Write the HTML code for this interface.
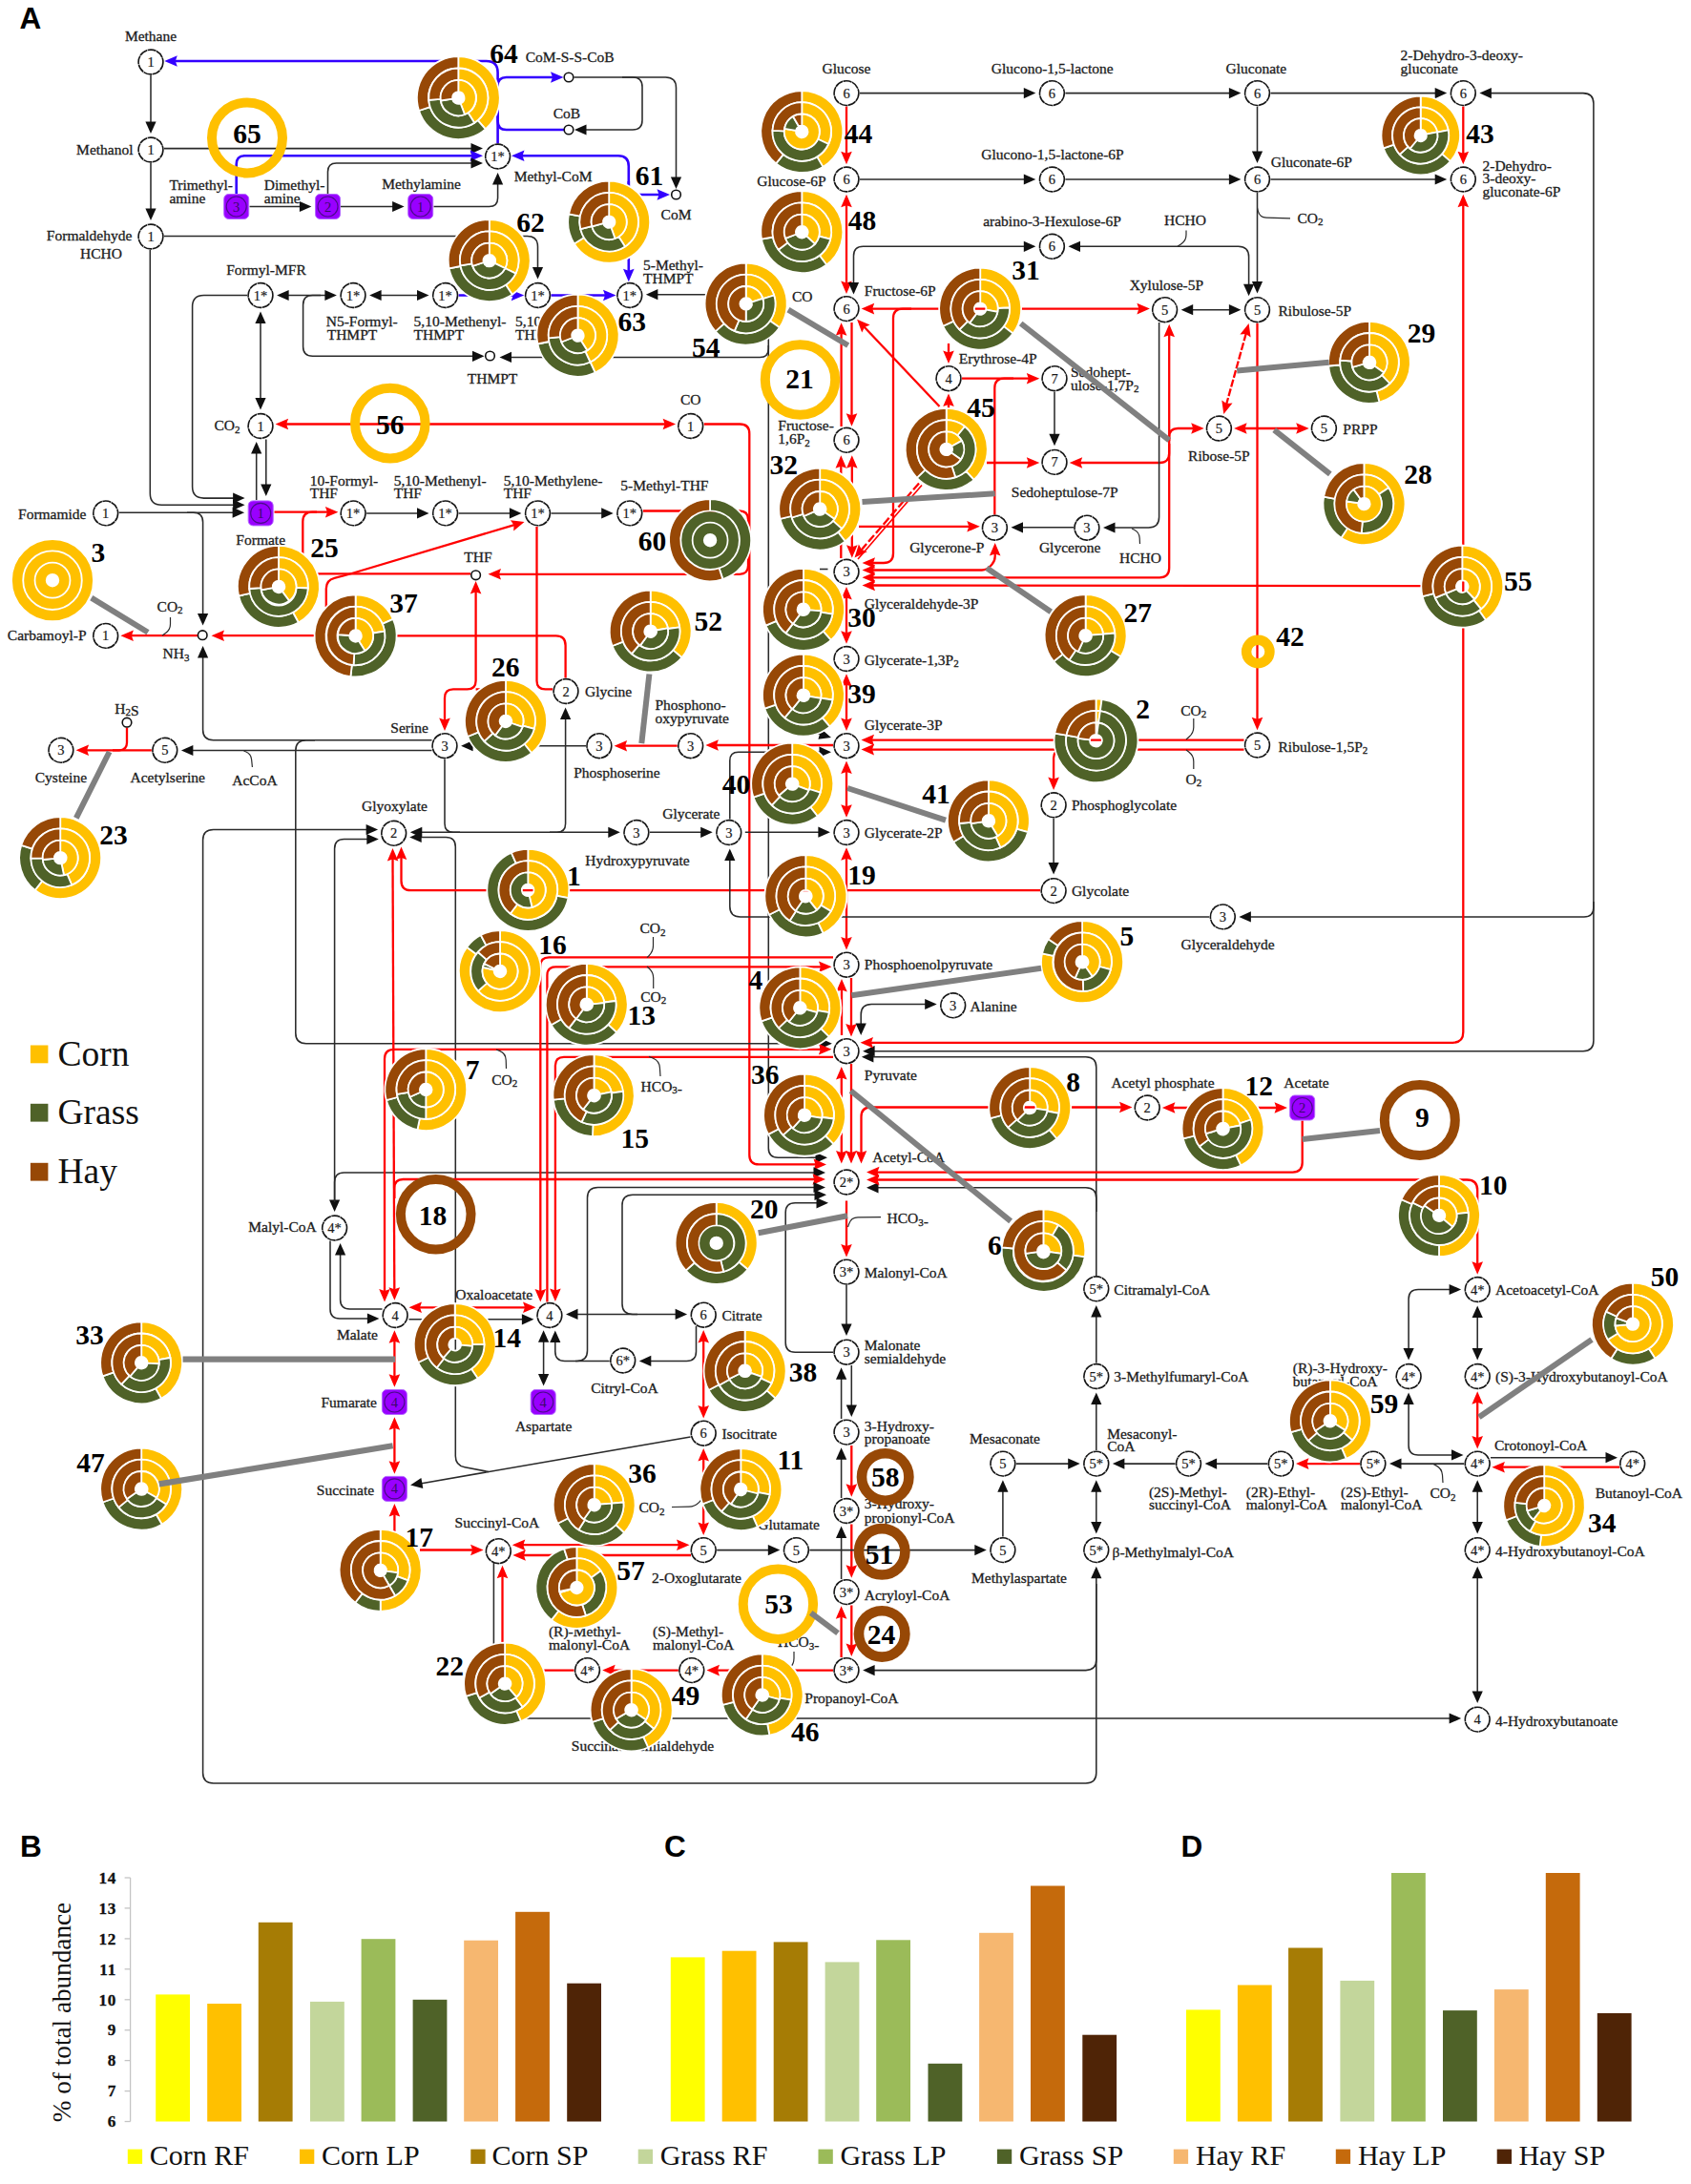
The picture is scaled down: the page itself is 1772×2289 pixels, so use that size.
<!DOCTYPE html><html><head><meta charset="utf-8"><title>Figure</title><style>html,body{margin:0;padding:0;background:#fff}svg{display:block}</style></head><body><svg width="1772" height="2289" viewBox="0 0 1772 2289"><rect width="1772" height="2289" fill="#fff"/><g font-family="Liberation Serif, serif">
<path d="M521.6,150.5L521.6,76Q521.6,64 509.6,64L183.3,64" fill="none" stroke="#3300FF" stroke-width="2.6"/>
<polygon points="172.3,64 185.8,58.2 183.8,64 185.8,69.8" fill="#3300FF"/>
<path d="M521.6,100L521.6,90Q521.6,81 530.6,81L579.5,81" fill="none" stroke="#3300FF" stroke-width="2.6"/>
<polygon points="590.5,81 577,86.8 579,81 577,75.2" fill="#3300FF"/>
<path d="M521.6,118L521.6,127Q521.6,136 530.6,136L591,136" fill="none" stroke="#3300FF" stroke-width="2.6"/>
<path d="M158,79L158,129.4" fill="none" stroke="#2a2a2a" stroke-width="1.55"/>
<polygon points="158,139.9 152.4,127.4 158,127.4 163.6,127.4" fill="#101010"/>
<path d="M158,171L158,220.4" fill="none" stroke="#2a2a2a" stroke-width="1.55"/>
<polygon points="158,230.9 152.4,218.4 158,218.4 163.6,218.4" fill="#101010"/>
<path d="M172,155.6L495.5,155.6" fill="none" stroke="#2a2a2a" stroke-width="1.55"/>
<polygon points="506,155.6 493.5,161.2 493.5,155.6 493.5,150" fill="#101010"/>
<path d="M247.7,203L247.7,172.2Q247.7,163.2 256.7,163.2L495,163.2" fill="none" stroke="#3300FF" stroke-width="2.6"/>
<polygon points="506,163.2 492.5,169 494.5,163.2 492.5,157.4" fill="#3300FF"/>
<path d="M343.5,203L343.5,180Q343.5,171 352.5,171L495.5,171" fill="none" stroke="#2a2a2a" stroke-width="1.55"/>
<polygon points="506,171 493.5,176.6 493.5,171 493.5,165.4" fill="#101010"/>
<path d="M261.5,216.5L315.9,216.5" fill="none" stroke="#2a2a2a" stroke-width="1.55"/>
<polygon points="326.4,216.5 313.9,222.1 313.9,216.5 313.9,210.9" fill="#101010"/>
<path d="M357,216.5L413.1,216.5" fill="none" stroke="#2a2a2a" stroke-width="1.55"/>
<polygon points="423.6,216.5 411.1,222.1 411.1,216.5 411.1,210.9" fill="#101010"/>
<path d="M454.5,216.5L512.6,216.5Q521.6,216.5 521.6,207.5L521.6,191.6" fill="none" stroke="#2a2a2a" stroke-width="1.55"/>
<polygon points="521.6,181.1 527.2,193.6 521.6,193.6 516,193.6" fill="#101010"/>
<path d="M172,247.5L552.5,247.5Q563.5,247.5 563.5,258.5L563.5,281.9" fill="none" stroke="#2a2a2a" stroke-width="1.55"/>
<polygon points="563.5,292.4 557.9,279.9 563.5,279.9 569.1,279.9" fill="#101010"/>
<path d="M300.6,309.5L342.4,309.5" fill="none" stroke="#2a2a2a" stroke-width="1.55"/>
<polygon points="352.9,309.5 340.4,315.1 340.4,309.5 340.4,303.9" fill="#101010"/>
<polygon points="290.1,309.5 302.6,303.9 302.6,309.5 302.6,315.1" fill="#101010"/>
<path d="M397.6,309.5L439,309.5" fill="none" stroke="#2a2a2a" stroke-width="1.55"/>
<polygon points="449.5,309.5 437,315.1 437,309.5 437,303.9" fill="#101010"/>
<polygon points="387.1,309.5 399.6,303.9 399.6,309.5 399.6,315.1" fill="#101010"/>
<path d="M480.6,309.5L538.2,309.5" fill="none" stroke="#3300FF" stroke-width="2.6"/>
<polygon points="549.2,309.5 535.7,315.3 537.7,309.5 535.7,303.7" fill="#3300FF"/>
<path d="M577.5,309.5L634.5,309.5" fill="none" stroke="#3300FF" stroke-width="2.6"/>
<polygon points="645.5,309.5 632,315.3 634,309.5 632,303.7" fill="#3300FF"/>
<path d="M336,309.5L327.6,309.5Q317.6,309.5 317.6,319.5L317.6,363.3Q317.6,373.3 327.6,373.3L497,373.3" fill="none" stroke="#2a2a2a" stroke-width="1.55"/>
<polygon points="507.5,373.3 495,378.9 495,373.3 495,367.7" fill="#101010"/>
<path d="M273,337.1L273,418.9" fill="none" stroke="#2a2a2a" stroke-width="1.55"/>
<polygon points="273,429.4 267.4,416.9 273,416.9 278.6,416.9" fill="#101010"/>
<polygon points="273,326.6 278.6,339.1 273,339.1 267.4,339.1" fill="#101010"/>
<path d="M601.5,81L697.5,81Q708.5,81 708.5,92L708.5,187.5" fill="none" stroke="#2a2a2a" stroke-width="1.55"/>
<polygon points="708.5,198 702.9,185.5 708.5,185.5 714.1,185.5" fill="#101010"/>
<path d="M652,81L663,81Q673,81 673,91L673,126Q673,136 663,136L612.5,136" fill="none" stroke="#2a2a2a" stroke-width="1.55"/>
<polygon points="602,136 614.5,130.4 614.5,136 614.5,141.6" fill="#101010"/>
<path d="M547,163.2L647.8,163.2Q658.8,163.2 658.8,174.2L658.8,284.2" fill="none" stroke="#3300FF" stroke-width="2.6"/>
<polygon points="658.8,295.2 653,281.7 658.8,283.7 664.6,281.7" fill="#3300FF"/>
<polygon points="536,163.2 549.5,157.4 547.5,163.2 549.5,169" fill="#3300FF"/>
<path d="M658.8,190L658.8,195Q658.8,204 667.8,204L691,204" fill="none" stroke="#3300FF" stroke-width="2.6"/>
<polygon points="702,204 688.5,209.8 690.5,204 688.5,198.2" fill="#3300FF"/>
<path d="M856.5,1213.3L815.3,1213.3Q805.3,1213.3 805.3,1203.3L805.3,318.7Q805.3,308.7 795.3,308.7L687.4,308.7" fill="none" stroke="#2a2a2a" stroke-width="1.55"/>
<polygon points="676.9,308.7 689.4,303.1 689.4,308.7 689.4,314.3" fill="#101010"/>
<polygon points="867,1213.3 854.5,1218.9 854.5,1213.3 854.5,1207.7" fill="#101010"/>
<path d="M805.3,362L805.3,365.4Q805.3,374.4 796.3,374.4L534,374.4" fill="none" stroke="#2a2a2a" stroke-width="1.55"/>
<polygon points="523.5,374.4 536,368.8 536,374.4 536,380" fill="#101010"/>
<path d="M299.6,444.5L697.1,444.5" fill="none" stroke="#FF0000" stroke-width="2.3"/>
<polygon points="708.1,444.5 694.6,450.3 696.6,444.5 694.6,438.7" fill="#FF0000"/>
<polygon points="288.6,444.5 302.1,438.7 300.1,444.5 302.1,450.3" fill="#FF0000"/>
<path d="M737.7,444.5L775.3,444.5Q785.3,444.5 785.3,454.5L785.3,1210.4Q785.3,1220.4 795.3,1220.4L855,1220.4" fill="none" stroke="#FF0000" stroke-width="2.3"/>
<polygon points="866,1220.4 852.5,1226.2 854.5,1220.4 852.5,1214.6" fill="#FF0000"/>
<path d="M268.7,524L268.7,473.5" fill="none" stroke="#2a2a2a" stroke-width="1.55"/>
<polygon points="268.7,463 274.3,475.5 268.7,475.5 263.1,475.5" fill="#101010"/>
<path d="M278.8,460.5L278.8,509.5" fill="none" stroke="#2a2a2a" stroke-width="1.55"/>
<polygon points="278.8,520 273.2,507.5 278.8,507.5 284.4,507.5" fill="#101010"/>
<path d="M157.3,262L157.3,517.2Q157.3,529.2 169.3,529.2L246.1,529.2" fill="none" stroke="#2a2a2a" stroke-width="1.55"/>
<polygon points="256.6,529.2 244.1,534.8 244.1,529.2 244.1,523.6" fill="#101010"/>
<path d="M259,309.5L213.6,309.5Q201.6,309.5 201.6,321.5L201.6,510.1Q201.6,522.1 213.6,522.1L246.1,522.1" fill="none" stroke="#2a2a2a" stroke-width="1.55"/>
<polygon points="256.6,522.1 244.1,527.7 244.1,522.1 244.1,516.5" fill="#101010"/>
<path d="M124.7,537.2L245.6,537.2" fill="none" stroke="#2a2a2a" stroke-width="1.55"/>
<polygon points="256.1,537.2 243.6,542.8 243.6,537.2 243.6,531.6" fill="#101010"/>
<path d="M196,537.2L202.6,537.2Q212.6,537.2 212.6,547.2L212.6,645" fill="none" stroke="#2a2a2a" stroke-width="1.55"/>
<polygon points="212.6,655.5 207,643 212.6,643 218.2,643" fill="#101010"/>
<path d="M287.5,536.7L343.4,536.7" fill="none" stroke="#FF0000" stroke-width="2.3"/>
<polygon points="354.4,536.7 340.9,542.5 342.9,536.7 340.9,530.9" fill="#FF0000"/>
<path d="M317.3,582L317.3,546.7Q317.3,536.7 327.3,536.7L332,536.7" fill="none" stroke="#FF0000" stroke-width="2.3"/>
<path d="M384.1,537.9L439,537.9" fill="none" stroke="#2a2a2a" stroke-width="1.55"/>
<polygon points="449.5,537.9 437,543.5 437,537.9 437,532.3" fill="#101010"/>
<path d="M480.6,537.9L535.9,537.9" fill="none" stroke="#2a2a2a" stroke-width="1.55"/>
<polygon points="546.4,537.9 533.9,543.5 533.9,537.9 533.9,532.3" fill="#101010"/>
<path d="M577.5,537.9L632.2,537.9" fill="none" stroke="#2a2a2a" stroke-width="1.55"/>
<polygon points="642.7,537.9 630.2,543.5 630.2,537.9 630.2,532.3" fill="#101010"/>
<path d="M673.8,535.5L775,535.5Q784,535.5 784,544.5L784,592.8Q784,601.8 775,601.8L522.5,601.8" fill="none" stroke="#FF0000" stroke-width="2.3"/>
<polygon points="511.5,601.8 525,596 523,601.8 525,607.6" fill="#FF0000"/>
<path d="M333,601.4L493,601.4" fill="none" stroke="#FF0000" stroke-width="2.3"/>
<path d="M341.8,636L341.8,617Q341.8,608 350.5,605.9L351.3,605.7Q360,603.6 368.6,601L539,550.1" fill="none" stroke="#FF0000" stroke-width="2.3"/>
<polygon points="549.5,547 538.2,556.4 538.5,550.3 534.9,545.3" fill="#FF0000"/>
<path d="M498.6,620L498.6,713.4Q498.6,722.4 489.6,722.4L475,722.4Q466,722.4 466,731.4L466,755" fill="none" stroke="#FF0000" stroke-width="2.3"/>
<polygon points="466,766 460.2,752.5 466,754.5 471.8,752.5" fill="#FF0000"/>
<polygon points="498.6,609 504.4,622.5 498.6,620.5 492.8,622.5" fill="#FF0000"/>
<path d="M498.6,722.4L520,722.4" fill="none" stroke="#FF0000" stroke-width="2.3"/>
<path d="M579,722.4L571.5,722.4Q562.5,722.4 562.5,713.4L562.5,552" fill="none" stroke="#FF0000" stroke-width="2.3"/>
<path d="M414,666.4L582.6,666.4Q592.6,666.4 592.6,676.4L592.6,710.5" fill="none" stroke="#FF0000" stroke-width="2.3"/>
<path d="M331,666.2L232.5,666.2" fill="none" stroke="#FF0000" stroke-width="2.3"/>
<polygon points="221.5,666.2 235,660.4 233,666.2 235,672" fill="#FF0000"/>
<path d="M207.5,666.2L137.4,666.2" fill="none" stroke="#FF0000" stroke-width="2.3"/>
<polygon points="126.4,666.2 139.9,660.4 137.9,666.2 139.9,672" fill="#FF0000"/>
<path d="M178.5,647L178.5,654Q178.5,660 173.6,663.5L170,666" fill="none" stroke="#2a2a2a" stroke-width="1.2"/>
<path d="M452.5,775.7L223.6,775.7Q212.6,775.7 212.6,764.7L212.6,687.5" fill="none" stroke="#2a2a2a" stroke-width="1.55"/>
<polygon points="212.6,677 218.2,689.5 212.6,689.5 207,689.5" fill="#101010"/>
<path d="M330,775.7L320.8,775.7Q309.8,775.7 309.8,786.7L309.8,1082.7Q309.8,1093.7 320.8,1093.7L861.4,1093.7" fill="none" stroke="#2a2a2a" stroke-width="1.55"/>
<polygon points="871.9,1093.7 859.4,1099.3 859.4,1093.7 859.4,1088.1" fill="#101010"/>
<path d="M255.5,787L257.4,787.8Q263,790 263.6,796L264.4,804" fill="none" stroke="#2a2a2a" stroke-width="1.2"/>
<path d="M452.5,786.5L200.4,786.5" fill="none" stroke="#2a2a2a" stroke-width="1.55"/>
<polygon points="189.9,786.5 202.4,780.9 202.4,786.5 202.4,792.1" fill="#101010"/>
<path d="M158.8,786.3L90.6,786.3" fill="none" stroke="#FF0000" stroke-width="2.3"/>
<polygon points="79.6,786.3 93.1,780.5 91.1,786.3 93.1,792.1" fill="#FF0000"/>
<path d="M133,762.5L133,778.3Q133,786.3 125,786.3L118,786.3" fill="none" stroke="#FF0000" stroke-width="2.3"/>
<path d="M466,795.7L466,863.3Q466,872.3 475,872.3L482,872.3" fill="none" stroke="#2a2a2a" stroke-width="1.55"/>
<path d="M592.6,752.1L592.6,863.3Q592.6,872.3 583.6,872.3L576,872.3" fill="none" stroke="#2a2a2a" stroke-width="1.55"/>
<polygon points="592.6,741.6 598.2,754.1 592.6,754.1 587,754.1" fill="#101010"/>
<path d="M440.3,872.3L639.3,872.3" fill="none" stroke="#2a2a2a" stroke-width="1.55"/>
<polygon points="649.8,872.3 637.3,877.9 637.3,872.3 637.3,866.7" fill="#101010"/>
<polygon points="429.8,872.3 442.3,866.7 442.3,872.3 442.3,877.9" fill="#101010"/>
<path d="M385.6,869.5L223.6,869.5Q212.6,869.5 212.6,880.5L212.6,1858Q212.6,1869 223.6,1869L1137.8,1869Q1148.8,1869 1148.8,1858L1148.8,1652.2" fill="none" stroke="#2a2a2a" stroke-width="1.55"/>
<polygon points="1148.8,1641.7 1154.4,1654.2 1148.8,1654.2 1143.2,1654.2" fill="#101010"/>
<polygon points="396.1,869.5 383.6,875.1 383.6,869.5 383.6,863.9" fill="#101010"/>
<path d="M386.3,879.5L360.6,879.5Q350.6,879.5 350.6,889.5L350.6,1259.4" fill="none" stroke="#2a2a2a" stroke-width="1.55"/>
<polygon points="350.6,1269.9 345,1257.4 350.6,1257.4 356.2,1257.4" fill="#101010"/>
<polygon points="396.8,879.5 384.3,885.1 384.3,879.5 384.3,873.9" fill="#101010"/>
<path d="M854.5,1228.9L360.6,1228.9Q350.6,1228.9 350.6,1238.9L350.6,1260" fill="none" stroke="#2a2a2a" stroke-width="1.55"/>
<polygon points="865,1228.9 852.5,1234.5 852.5,1228.9 852.5,1223.3" fill="#101010"/>
<path d="M439.7,877.5L467.3,877.5Q477.3,877.5 477.3,887.5L477.3,1526Q477.3,1536 487.1,1537.8L512,1542.5" fill="none" stroke="#2a2a2a" stroke-width="1.55"/>
<polygon points="429.2,877.5 441.7,871.9 441.7,877.5 441.7,883.1" fill="#101010"/>
<path d="M723.5,1506L440.4,1554.9" fill="none" stroke="#2a2a2a" stroke-width="1.55"/>
<polygon points="430.1,1556.6 441.4,1549 442.4,1554.5 443.3,1560" fill="#101010"/>
<path d="M1090,933.2L430.5,933.2Q420.5,933.2 420.5,923.2L420.5,898.5" fill="none" stroke="#FF0000" stroke-width="2.3"/>
<polygon points="420.5,887.5 426.3,901 420.5,899 414.7,901" fill="#FF0000"/>
<path d="M411.5,899.9L413.3,1351.8" fill="none" stroke="#FF0000" stroke-width="2.3"/>
<polygon points="413.4,1362.8 407.5,1349.3 413.3,1351.3 419.1,1349.3" fill="#FF0000"/>
<polygon points="411.5,888.9 417.4,902.4 411.6,900.4 405.8,902.5" fill="#FF0000"/>
<path d="M403,1353.5L403,1109.8Q403,1099.8 413,1099.8L860.4,1099.8" fill="none" stroke="#FF0000" stroke-width="2.3"/>
<polygon points="871.4,1099.8 857.9,1105.6 859.9,1099.8 857.9,1094" fill="#FF0000"/>
<polygon points="403,1364.5 397.2,1351 403,1353 408.8,1351" fill="#FF0000"/>
<path d="M854,1236L422.4,1236Q413.4,1236 413.4,1245L413.4,1256" fill="none" stroke="#FF0000" stroke-width="2.3"/>
<polygon points="865,1236 851.5,1241.8 853.5,1236 851.5,1230.2" fill="#FF0000"/>
<path d="M901,97.6L1074.8,97.6" fill="none" stroke="#2a2a2a" stroke-width="1.55"/>
<polygon points="1085.3,97.6 1072.8,103.2 1072.8,97.6 1072.8,92" fill="#101010"/>
<path d="M901,188L1074.8,188" fill="none" stroke="#2a2a2a" stroke-width="1.55"/>
<polygon points="1085.3,188 1072.8,193.6 1072.8,188 1072.8,182.4" fill="#101010"/>
<path d="M1116.4,97.6L1289.9,97.6" fill="none" stroke="#2a2a2a" stroke-width="1.55"/>
<polygon points="1300.4,97.6 1287.9,103.2 1287.9,97.6 1287.9,92" fill="#101010"/>
<path d="M1116.4,188L1289.9,188" fill="none" stroke="#2a2a2a" stroke-width="1.55"/>
<polygon points="1300.4,188 1287.9,193.6 1287.9,188 1287.9,182.4" fill="#101010"/>
<path d="M1331.5,97.6L1505.7,97.6" fill="none" stroke="#2a2a2a" stroke-width="1.55"/>
<polygon points="1516.2,97.6 1503.7,103.2 1503.7,97.6 1503.7,92" fill="#101010"/>
<path d="M1331.5,188L1505.7,188" fill="none" stroke="#2a2a2a" stroke-width="1.55"/>
<polygon points="1516.2,188 1503.7,193.6 1503.7,188 1503.7,182.4" fill="#101010"/>
<path d="M887,111.6L887,161.3" fill="none" stroke="#FF0000" stroke-width="2.3"/>
<polygon points="887,172.3 881.2,158.8 887,160.8 892.8,158.8" fill="#FF0000"/>
<path d="M887,214.7L887,296.9" fill="none" stroke="#FF0000" stroke-width="2.3"/>
<polygon points="887,307.9 881.2,294.4 887,296.4 892.8,294.4" fill="#FF0000"/>
<polygon points="887,203.7 892.8,217.2 887,215.2 881.2,217.2" fill="#FF0000"/>
<path d="M894.5,298.1L894.5,268.3Q894.5,258.3 904.5,258.3L1074.8,258.3" fill="none" stroke="#2a2a2a" stroke-width="1.55"/>
<polygon points="1085.3,258.3 1072.8,263.9 1072.8,258.3 1072.8,252.7" fill="#101010"/>
<polygon points="894.5,308.6 888.9,296.1 894.5,296.1 900.1,296.1" fill="#101010"/>
<path d="M1130,258.3L1297.6,258.3Q1308.6,258.3 1308.6,269.3L1308.6,299.7" fill="none" stroke="#2a2a2a" stroke-width="1.55"/>
<polygon points="1308.6,310.2 1303,297.7 1308.6,297.7 1314.2,297.7" fill="#101010"/>
<polygon points="1119.5,258.3 1132,252.7 1132,258.3 1132,263.9" fill="#101010"/>
<path d="M1243,241.5L1243,246Q1243,252 1238.1,255.4L1234,258.3" fill="none" stroke="#2a2a2a" stroke-width="1.2"/>
<path d="M1317.5,111.6L1317.5,160.4" fill="none" stroke="#2a2a2a" stroke-width="1.55"/>
<polygon points="1317.5,170.9 1311.9,158.4 1317.5,158.4 1323.1,158.4" fill="#101010"/>
<path d="M1317.5,202L1317.5,297.1" fill="none" stroke="#2a2a2a" stroke-width="1.55"/>
<polygon points="1317.5,307.6 1311.9,295.1 1317.5,295.1 1323.1,295.1" fill="#101010"/>
<path d="M1317.5,218L1318.3,221.2Q1320,228 1327,228.2L1352,228.9" fill="none" stroke="#2a2a2a" stroke-width="1.2"/>
<path d="M1533.3,111.6L1533.3,161.3" fill="none" stroke="#FF0000" stroke-width="2.3"/>
<polygon points="1533.3,172.3 1527.5,158.8 1533.3,160.8 1539.1,158.8" fill="#FF0000"/>
<path d="M1560.9,97.6L1658.9,97.6Q1669.9,97.6 1669.9,108.6L1669.9,1090.7Q1669.9,1101.7 1658.9,1101.7L914.6,1101.7" fill="none" stroke="#2a2a2a" stroke-width="1.55"/>
<polygon points="904.1,1101.7 916.6,1096.1 916.6,1101.7 916.6,1107.3" fill="#101010"/>
<polygon points="1550.4,97.6 1562.9,92 1562.9,97.6 1562.9,103.2" fill="#101010"/>
<path d="M1669.9,945L1669.9,950.9Q1669.9,960.9 1659.9,960.9L1308.9,960.9" fill="none" stroke="#2a2a2a" stroke-width="1.55"/>
<polygon points="1298.4,960.9 1310.9,955.3 1310.9,960.9 1310.9,966.5" fill="#101010"/>
<path d="M1533.3,214.7L1533.3,1081.8Q1533.3,1092.8 1522.3,1092.8L912.5,1092.8" fill="none" stroke="#FF0000" stroke-width="2.3"/>
<polygon points="901.5,1092.8 915,1087 913,1092.8 915,1098.6" fill="#FF0000"/>
<polygon points="1533.3,203.7 1539.1,217.2 1533.3,215.2 1527.5,217.2" fill="#FF0000"/>
<path d="M1490,614.2L914.5,613.5" fill="none" stroke="#FF0000" stroke-width="2.3"/>
<polygon points="903.5,613.5 917,607.7 915,613.5 917,619.3" fill="#FF0000"/>
<path d="M913.7,323.6L1193.9,323.6" fill="none" stroke="#FF0000" stroke-width="2.3"/>
<polygon points="1204.9,323.6 1191.4,329.4 1193.4,323.6 1191.4,317.8" fill="#FF0000"/>
<polygon points="902.7,323.6 916.2,317.8 914.2,323.6 916.2,329.4" fill="#FF0000"/>
<path d="M955,323.6L946,323.6Q936,323.6 936,333.6L936,580Q936,590 926,590L914.5,590" fill="none" stroke="#FF0000" stroke-width="2.3"/>
<polygon points="903.5,590 917,584.2 915,590 917,595.8" fill="#FF0000"/>
<path d="M984.5,426L905.7,342.7" fill="none" stroke="#FF0000" stroke-width="2.3"/>
<polygon points="898.1,334.7 911.6,340.5 906,343 903.2,348.5" fill="#FF0000"/>
<path d="M963,506.5L902.7,576.3" fill="none" stroke="#FF0000" stroke-width="2.3" stroke-dasharray="9 3"/>
<polygon points="895.5,584.6 899.9,570.6 903,575.9 908.7,578.2" fill="#FF0000"/>
<path d="M966,508.5L899,586" fill="none" stroke="#FF0000" stroke-width="1.6"/>
<path d="M881.6,447L881.6,349.3" fill="none" stroke="#FF0000" stroke-width="2.3"/>
<polygon points="881.6,338.3 887.4,351.8 881.6,349.8 875.8,351.8" fill="#FF0000"/>
<path d="M892.5,338L892.5,435.7" fill="none" stroke="#FF0000" stroke-width="2.3"/>
<polygon points="892.5,446.7 886.7,433.2 892.5,435.2 898.3,433.2" fill="#FF0000"/>
<path d="M881.3,585L881.3,488.3" fill="none" stroke="#FF0000" stroke-width="2.3"/>
<polygon points="881.3,477.3 887.1,490.8 881.3,488.8 875.5,490.8" fill="#FF0000"/>
<path d="M892.8,488.3L892.8,573.8" fill="none" stroke="#FF0000" stroke-width="2.3"/>
<polygon points="892.8,584.8 887,571.3 892.8,573.3 898.6,571.3" fill="#FF0000"/>
<polygon points="892.8,477.3 898.6,490.8 892.8,488.8 887,490.8" fill="#FF0000"/>
<path d="M994,360L994,370" fill="none" stroke="#FF0000" stroke-width="2.3"/>
<polygon points="994,381 988.2,367.5 994,369.5 999.8,367.5" fill="#FF0000"/>
<path d="M994,430L994,423.4" fill="none" stroke="#FF0000" stroke-width="2.3"/>
<polygon points="994,412.4 999.8,425.9 994,423.9 988.2,425.9" fill="#FF0000"/>
<path d="M1008,396.7L1078.3,396.7" fill="none" stroke="#FF0000" stroke-width="2.3"/>
<polygon points="1089.3,396.7 1075.8,402.5 1077.8,396.7 1075.8,390.9" fill="#FF0000"/>
<path d="M1062,396.7L1052.3,396.7Q1042.3,396.7 1042.3,406.7L1042.3,539.5" fill="none" stroke="#FF0000" stroke-width="2.3"/>
<path d="M1105,410.7L1105,456.8" fill="none" stroke="#2a2a2a" stroke-width="1.55"/>
<polygon points="1105,467.3 1099.4,454.8 1105,454.8 1110.6,454.8" fill="#101010"/>
<path d="M1034,485L1078.3,485" fill="none" stroke="#FF0000" stroke-width="2.3"/>
<polygon points="1089.3,485 1075.8,490.8 1077.8,485 1075.8,479.2" fill="#FF0000"/>
<path d="M1131.7,485L1215.2,485Q1225.2,485 1225.2,475L1225.2,465" fill="none" stroke="#FF0000" stroke-width="2.3"/>
<polygon points="1120.7,485 1134.2,479.2 1132.2,485 1134.2,490.8" fill="#FF0000"/>
<path d="M1225.2,350.7L1225.2,595.3Q1225.2,605.3 1215.2,605.3L914.5,605.3" fill="none" stroke="#FF0000" stroke-width="2.3"/>
<polygon points="903.5,605.3 917,599.5 915,605.3 917,611.1" fill="#FF0000"/>
<polygon points="1225.2,339.7 1231,353.2 1225.2,351.2 1219.4,353.2" fill="#FF0000"/>
<path d="M1225.2,462L1225.2,458Q1225.2,449 1234.2,449L1250.7,449" fill="none" stroke="#FF0000" stroke-width="2.3"/>
<polygon points="1261.7,449 1248.2,454.8 1250.2,449 1248.2,443.2" fill="#FF0000"/>
<path d="M1214.6,338L1214.6,542Q1214.6,553 1203.6,553L1166.5,553" fill="none" stroke="#2a2a2a" stroke-width="1.55"/>
<polygon points="1156,553 1168.5,547.4 1168.5,553 1168.5,558.6" fill="#101010"/>
<path d="M1186,554L1188.6,555.3Q1194,558 1194.2,564L1194.5,570" fill="none" stroke="#2a2a2a" stroke-width="1.2"/>
<path d="M1248.2,324.7L1289.9,324.7" fill="none" stroke="#2a2a2a" stroke-width="1.55"/>
<polygon points="1300.4,324.7 1287.9,330.3 1287.9,324.7 1287.9,319.1" fill="#101010"/>
<polygon points="1237.7,324.7 1250.2,319.1 1250.2,324.7 1250.2,330.3" fill="#101010"/>
<path d="M1305.7,349.6L1285.2,423.5" fill="none" stroke="#FF0000" stroke-width="2.3" stroke-dasharray="8 2"/>
<polygon points="1282.3,434.1 1280.3,419.5 1285.3,423 1291.5,422.6" fill="#FF0000"/>
<polygon points="1308.6,339 1310.6,353.6 1305.5,350.1 1299.4,350.5" fill="#FF0000"/>
<path d="M1317.5,338.7L1317.5,754.3" fill="none" stroke="#FF0000" stroke-width="2.3"/>
<polygon points="1317.5,765.3 1311.7,751.8 1317.5,753.8 1323.3,751.8" fill="#FF0000"/>
<path d="M1304.1,449L1360.7,449" fill="none" stroke="#FF0000" stroke-width="2.3"/>
<polygon points="1371.7,449 1358.2,454.8 1360.2,449 1358.2,443.2" fill="#FF0000"/>
<polygon points="1293.1,449 1306.6,443.2 1304.6,449 1306.6,454.8" fill="#FF0000"/>
<path d="M900,551.8L1015.8,551.8" fill="none" stroke="#FF0000" stroke-width="2.3"/>
<polygon points="1026.8,551.8 1013.3,557.6 1015.3,551.8 1013.3,546" fill="#FF0000"/>
<path d="M1125,552.8L1070,552.8" fill="none" stroke="#2a2a2a" stroke-width="1.55"/>
<polygon points="1059.5,552.8 1072,547.2 1072,552.8 1072,558.4" fill="#101010"/>
<path d="M914.5,597.5L1029,597.5Q1034,597.5 1037.4,593.8L1039.3,591.7Q1042.7,588 1042.7,583L1042.7,579.9" fill="none" stroke="#FF0000" stroke-width="2.3"/>
<polygon points="1042.7,568.9 1048.5,582.4 1042.7,580.4 1036.9,582.4" fill="#FF0000"/>
<polygon points="903.5,597.5 917,591.7 915,597.5 917,603.3" fill="#FF0000"/>
<path d="M859,596.5L867.5,596.5" fill="none" stroke="#2a2a2a" stroke-width="1.55"/>
<path d="M887,626L887,663.8" fill="none" stroke="#FF0000" stroke-width="2.3"/>
<polygon points="887,674.8 881.2,661.3 887,663.3 892.8,661.3" fill="#FF0000"/>
<polygon points="887,615 892.8,628.5 887,626.5 881.2,628.5" fill="#FF0000"/>
<path d="M887,717.2L887,755" fill="none" stroke="#FF0000" stroke-width="2.3"/>
<polygon points="887,766 881.2,752.5 887,754.5 892.8,752.5" fill="#FF0000"/>
<polygon points="887,706.2 892.8,719.7 887,717.7 881.2,719.7" fill="#FF0000"/>
<path d="M887,808.4L887,845.8" fill="none" stroke="#FF0000" stroke-width="2.3"/>
<polygon points="887,856.8 881.2,843.3 887,845.3 892.8,843.3" fill="#FF0000"/>
<polygon points="887,797.4 892.8,810.9 887,808.9 881.2,810.9" fill="#FF0000"/>
<path d="M887,899.2L887,984.5" fill="none" stroke="#FF0000" stroke-width="2.3"/>
<polygon points="887,995.5 881.2,982 887,984 892.8,982" fill="#FF0000"/>
<polygon points="887,888.2 892.8,901.7 887,899.7 881.2,901.7" fill="#FF0000"/>
<path d="M1303.5,775.6L913.5,775.6" fill="none" stroke="#FF0000" stroke-width="2.3"/>
<polygon points="902.5,775.6 916,769.8 914,775.6 916,781.4" fill="#FF0000"/>
<path d="M1303.5,785.6L913.5,785.6" fill="none" stroke="#FF0000" stroke-width="2.3"/>
<polygon points="902.5,785.6 916,779.8 914,785.6 916,791.4" fill="#FF0000"/>
<path d="M1120,785.6L1113.1,785.6Q1104.1,785.6 1104.1,794.6L1104.1,817.1" fill="none" stroke="#FF0000" stroke-width="2.3"/>
<polygon points="1104.1,828.1 1098.3,814.6 1104.1,816.6 1109.9,814.6" fill="#FF0000"/>
<path d="M1250.8,753L1250.8,762Q1250.8,768 1246.3,772L1243,775" fill="none" stroke="#2a2a2a" stroke-width="1.2"/>
<path d="M1243,786L1246,788.3Q1250.8,792 1250.8,798L1250.8,806" fill="none" stroke="#2a2a2a" stroke-width="1.2"/>
<path d="M1104.1,857.8L1104.1,906" fill="none" stroke="#2a2a2a" stroke-width="1.55"/>
<polygon points="1104.1,916.5 1098.5,904 1104.1,904 1109.7,904" fill="#101010"/>
<path d="M873,781L750.4,781" fill="none" stroke="#FF0000" stroke-width="2.3"/>
<polygon points="739.4,781 752.9,775.2 750.9,781 752.9,786.8" fill="#FF0000"/>
<path d="M709.7,781.7L654.6,781.7" fill="none" stroke="#FF0000" stroke-width="2.3"/>
<polygon points="643.6,781.7 657.1,775.9 655.1,781.7 657.1,787.5" fill="#FF0000"/>
<path d="M614,781.7L493.6,781.7" fill="none" stroke="#2a2a2a" stroke-width="1.55"/>
<polygon points="483.1,781.7 495.6,776.1 495.6,781.7 495.6,787.3" fill="#101010"/>
<path d="M856,768.5L860.9,770" fill="none" stroke="#2a2a2a" stroke-width="1.55"/>
<polygon points="871,773 857.4,774.8 859,769.4 860.6,764" fill="#101010"/>
<path d="M764.8,858.5L764.8,797.2Q764.8,788.2 773.8,788.2L860.5,788.2" fill="none" stroke="#2a2a2a" stroke-width="1.55"/>
<polygon points="871,788.2 858.5,793.8 858.5,788.2 858.5,782.6" fill="#101010"/>
<path d="M780.8,872.2L859.4,872.2" fill="none" stroke="#2a2a2a" stroke-width="1.55"/>
<polygon points="869.9,872.2 857.4,877.8 857.4,872.2 857.4,866.6" fill="#101010"/>
<path d="M680.9,872.3L736.2,872.3" fill="none" stroke="#2a2a2a" stroke-width="1.55"/>
<polygon points="746.7,872.3 734.2,877.9 734.2,872.3 734.2,866.7" fill="#101010"/>
<path d="M1267.3,960.9L775.8,960.9Q764.8,960.9 764.8,949.9L764.8,900.1" fill="none" stroke="#2a2a2a" stroke-width="1.55"/>
<polygon points="764.8,889.6 770.4,902.1 764.8,902.1 759.2,902.1" fill="#101010"/>
<path d="M566.3,1353.5L566.3,1012.4Q566.3,1003.4 575.3,1003.4L873,1003.4" fill="none" stroke="#FF0000" stroke-width="2.3"/>
<polygon points="566.3,1364.5 560.5,1351 566.3,1353 572.1,1351" fill="#FF0000"/>
<path d="M573.4,1364.5L573.4,1022.3Q573.4,1013.3 582.4,1013.3L860.5,1013.3" fill="none" stroke="#FF0000" stroke-width="2.3"/>
<polygon points="871.5,1013.3 858,1019.1 860,1013.3 858,1007.5" fill="#FF0000"/>
<path d="M581.9,1353L581.9,1116.8Q581.9,1107.8 590.9,1107.8L873,1107.8" fill="none" stroke="#FF0000" stroke-width="2.3"/>
<polygon points="581.9,1364 576.1,1350.5 581.9,1352.5 587.7,1350.5" fill="#FF0000"/>
<path d="M684.5,982L684.5,991Q684.5,997 680.3,1001.3L678,1003.6" fill="none" stroke="#2a2a2a" stroke-width="1.2"/>
<path d="M678,1013L680.2,1015Q684.7,1019 684.7,1025L684.7,1036" fill="none" stroke="#2a2a2a" stroke-width="1.2"/>
<path d="M680,1107.3L684.6,1109.2Q691,1112 691.4,1119L692,1128" fill="none" stroke="#2a2a2a" stroke-width="1.2"/>
<path d="M520,1100L523.5,1101.4Q530,1104 530.2,1111L530.5,1120" fill="none" stroke="#2a2a2a" stroke-width="1.2"/>
<path d="M882,1085L882,1037" fill="none" stroke="#FF0000" stroke-width="2.3"/>
<polygon points="882,1026 887.8,1039.5 882,1037.5 876.2,1039.5" fill="#FF0000"/>
<path d="M892,1025L892,1075.5" fill="none" stroke="#FF0000" stroke-width="2.3"/>
<polygon points="892,1086.5 886.2,1073 892,1075 897.8,1073" fill="#FF0000"/>
<path d="M971.2,1052.5L913.2,1052.5Q902.2,1052.5 902.2,1063.5L902.2,1074.5" fill="none" stroke="#2a2a2a" stroke-width="1.55"/>
<polygon points="902.2,1085 896.6,1072.5 902.2,1072.5 907.8,1072.5" fill="#101010"/>
<polygon points="981.7,1052.5 969.2,1058.1 969.2,1052.5 969.2,1046.9" fill="#101010"/>
<path d="M881.8,1129L881.8,1208.5" fill="none" stroke="#FF0000" stroke-width="2.3"/>
<polygon points="881.8,1219.5 876,1206 881.8,1208 887.6,1206" fill="#FF0000"/>
<polygon points="881.8,1118 887.6,1131.5 881.8,1129.5 876,1131.5" fill="#FF0000"/>
<path d="M892,1115L892,1208.5" fill="none" stroke="#FF0000" stroke-width="2.3"/>
<polygon points="892,1219.5 886.2,1206 892,1208 897.8,1206" fill="#FF0000"/>
<path d="M1175.5,1160.5L912.5,1160.5Q902.5,1160.5 902.5,1170.5L902.5,1208.5" fill="none" stroke="#FF0000" stroke-width="2.3"/>
<polygon points="902.5,1219.5 896.7,1206 902.5,1208 908.3,1206" fill="#FF0000"/>
<polygon points="1186.5,1160.5 1173,1166.3 1175,1160.5 1173,1154.7" fill="#FF0000"/>
<path d="M913.4,1107.8L1137.8,1107.8Q1148.8,1107.8 1148.8,1118.8L1148.8,1337" fill="none" stroke="#2a2a2a" stroke-width="1.55"/>
<polygon points="902.9,1107.8 915.4,1102.2 915.4,1107.8 915.4,1113.4" fill="#101010"/>
<path d="M1148.8,1270L1148.8,1255.8Q1148.8,1244.8 1137.8,1244.8L918.5,1244.8" fill="none" stroke="#2a2a2a" stroke-width="1.55"/>
<polygon points="908,1244.8 920.5,1239.2 920.5,1244.8 920.5,1250.4" fill="#101010"/>
<path d="M1228.9,1161L1338,1161" fill="none" stroke="#FF0000" stroke-width="2.3"/>
<polygon points="1349,1161 1335.5,1166.8 1337.5,1161 1335.5,1155.2" fill="#FF0000"/>
<polygon points="1217.9,1161 1231.4,1155.2 1229.4,1161 1231.4,1166.8" fill="#FF0000"/>
<path d="M1364.7,1174.5L1364.7,1218.6Q1364.7,1228.6 1354.7,1228.6L919,1228.6" fill="none" stroke="#FF0000" stroke-width="2.3"/>
<polygon points="908,1228.6 921.5,1222.8 919.5,1228.6 921.5,1234.4" fill="#FF0000"/>
<path d="M919,1236.5L1537.2,1236.5Q1548.2,1236.5 1548.2,1247.5L1548.2,1324.8" fill="none" stroke="#FF0000" stroke-width="2.3"/>
<polygon points="1548.2,1335.8 1542.4,1322.3 1548.2,1324.3 1554,1322.3" fill="#FF0000"/>
<polygon points="908,1236.5 921.5,1230.7 919.5,1236.5 921.5,1242.3" fill="#FF0000"/>
<path d="M887,1258.5L887,1306.4" fill="none" stroke="#FF0000" stroke-width="2.3"/>
<polygon points="887,1317.4 881.2,1303.9 887,1305.9 892.8,1303.9" fill="#FF0000"/>
<path d="M888.5,1286L889.7,1282.6Q892,1276 899,1275.9L923,1275.7" fill="none" stroke="#2a2a2a" stroke-width="1.2"/>
<path d="M887,1347L887,1389.6" fill="none" stroke="#2a2a2a" stroke-width="1.55"/>
<polygon points="887,1400.1 881.4,1387.6 887,1387.6 892.6,1387.6" fill="#101010"/>
<path d="M881.6,1487L881.6,1443.8" fill="none" stroke="#2a2a2a" stroke-width="1.55"/>
<polygon points="881.6,1433.3 887.2,1445.8 881.6,1445.8 876,1445.8" fill="#101010"/>
<path d="M892.3,1431L892.3,1474.5" fill="none" stroke="#2a2a2a" stroke-width="1.55"/>
<polygon points="892.3,1485 886.7,1472.5 892.3,1472.5 897.9,1472.5" fill="#101010"/>
<path d="M857.5,1260.8L833.2,1260.8Q823.2,1260.8 823.2,1270.8L823.2,1407.2Q823.2,1417.2 833.2,1417.2L873,1417.2" fill="none" stroke="#2a2a2a" stroke-width="1.55"/>
<polygon points="868,1260.8 855.5,1266.4 855.5,1260.8 855.5,1255.2" fill="#101010"/>
<path d="M603.5,1377.4L709.6,1377.4" fill="none" stroke="#2a2a2a" stroke-width="1.55"/>
<polygon points="720.1,1377.4 707.6,1383 707.6,1377.4 707.6,1371.8" fill="#101010"/>
<polygon points="593,1377.4 605.5,1371.8 605.5,1377.4 605.5,1383" fill="#101010"/>
<path d="M668,1377.4L663,1377.4Q652,1377.4 652,1366.4L652,1263.3Q652,1252.3 663,1252.3L855.5,1252.3" fill="none" stroke="#2a2a2a" stroke-width="1.55"/>
<polygon points="866,1252.3 853.5,1257.9 853.5,1252.3 853.5,1246.7" fill="#101010"/>
<path d="M729.5,1390L729.5,1416.4Q729.5,1426.4 719.5,1426.4L680.3,1426.4" fill="none" stroke="#2a2a2a" stroke-width="1.55"/>
<polygon points="669.8,1426.4 682.3,1420.8 682.3,1426.4 682.3,1432" fill="#101010"/>
<path d="M638.7,1426.4L591.8,1426.4Q581.8,1426.4 581.8,1416.4L581.8,1404.9" fill="none" stroke="#2a2a2a" stroke-width="1.55"/>
<polygon points="581.8,1394.4 587.4,1406.9 581.8,1406.9 576.2,1406.9" fill="#101010"/>
<path d="M854.5,1244.5L626.5,1244.5Q615.5,1244.5 615.5,1255.5L615.5,1415.4Q615.5,1426.4 604.5,1426.4L603,1426.4" fill="none" stroke="#2a2a2a" stroke-width="1.55"/>
<polygon points="865,1244.5 852.5,1250.1 852.5,1244.5 852.5,1238.9" fill="#101010"/>
<path d="M737.2,1404.9L737.2,1475.5" fill="none" stroke="#FF0000" stroke-width="2.3"/>
<polygon points="737.2,1486.5 731.4,1473 737.2,1475 743,1473" fill="#FF0000"/>
<polygon points="737.2,1393.9 743,1407.4 737.2,1405.4 731.4,1407.4" fill="#FF0000"/>
<path d="M569.6,1404.7L569.6,1441.9" fill="none" stroke="#2a2a2a" stroke-width="1.55"/>
<polygon points="569.6,1452.4 564,1439.9 569.6,1439.9 575.2,1439.9" fill="#101010"/>
<polygon points="569.6,1394.2 575.2,1406.7 569.6,1406.7 564,1406.7" fill="#101010"/>
<path d="M439.5,1370.3L550.5,1370.3" fill="none" stroke="#FF0000" stroke-width="2.3"/>
<polygon points="561.5,1370.3 548,1376.1 550,1370.3 548,1364.5" fill="#FF0000"/>
<polygon points="428.5,1370.3 442,1364.5 440,1370.3 442,1376.1" fill="#FF0000"/>
<path d="M428.5,1382.8L548.9,1382.8" fill="none" stroke="#2a2a2a" stroke-width="1.55"/>
<polygon points="559.4,1382.8 546.9,1388.4 546.9,1382.8 546.9,1377.2" fill="#101010"/>
<path d="M346,1300.5L346,1372Q346,1382 356,1382L386.9,1382" fill="none" stroke="#2a2a2a" stroke-width="1.55"/>
<polygon points="397.4,1382 384.9,1387.6 384.9,1382 384.9,1376.4" fill="#101010"/>
<path d="M400.5,1372L366.6,1372Q356.6,1372 356.6,1362L356.6,1313.4" fill="none" stroke="#2a2a2a" stroke-width="1.55"/>
<polygon points="356.6,1302.9 362.2,1315.4 356.6,1315.4 351,1315.4" fill="#101010"/>
<path d="M413.4,1405.2L413.4,1442.8" fill="none" stroke="#FF0000" stroke-width="2.3"/>
<polygon points="413.4,1453.8 407.6,1440.3 413.4,1442.3 419.2,1440.3" fill="#FF0000"/>
<polygon points="413.4,1394.2 419.2,1407.7 413.4,1405.7 407.6,1407.7" fill="#FF0000"/>
<path d="M413.4,1496.2L413.4,1533.7" fill="none" stroke="#FF0000" stroke-width="2.3"/>
<polygon points="413.4,1544.7 407.6,1531.2 413.4,1533.2 419.2,1531.2" fill="#FF0000"/>
<polygon points="413.4,1485.2 419.2,1498.7 413.4,1496.7 407.6,1498.7" fill="#FF0000"/>
<path d="M413.4,1606L413.4,1587.1" fill="none" stroke="#FF0000" stroke-width="2.3"/>
<polygon points="413.4,1576.1 419.2,1589.6 413.4,1587.6 407.6,1589.6" fill="#FF0000"/>
<path d="M440,1624.5L495.6,1624.5" fill="none" stroke="#FF0000" stroke-width="2.3"/>
<polygon points="506.6,1624.5 493.1,1630.3 495.1,1624.5 493.1,1618.7" fill="#FF0000"/>
<path d="M547.8,1619.2L711.5,1619.2" fill="none" stroke="#FF0000" stroke-width="2.3"/>
<polygon points="722.5,1619.2 709,1625 711,1619.2 709,1613.4" fill="#FF0000"/>
<polygon points="536.8,1619.2 550.3,1613.4 548.3,1619.2 550.3,1625" fill="#FF0000"/>
<path d="M548.4,1630L724,1630" fill="none" stroke="#FF0000" stroke-width="2.3"/>
<polygon points="537.4,1630 550.9,1624.2 548.9,1630 550.9,1635.8" fill="#FF0000"/>
<path d="M526.5,1725L526.5,1651.8" fill="none" stroke="#FF0000" stroke-width="2.3"/>
<polygon points="526.5,1640.8 532.3,1654.3 526.5,1652.3 520.7,1654.3" fill="#FF0000"/>
<path d="M517.4,1638L517.4,1790Q517.4,1801 528.4,1801L1520.6,1801" fill="none" stroke="#2a2a2a" stroke-width="1.55"/>
<polygon points="1531.1,1801 1518.6,1806.6 1518.6,1801 1518.6,1795.4" fill="#101010"/>
<path d="M568,1750.6L601.5,1750.6" fill="none" stroke="#FF0000" stroke-width="2.3"/>
<path d="M710.8,1750.6L642.2,1750.6" fill="none" stroke="#FF0000" stroke-width="2.3"/>
<polygon points="631.2,1750.6 644.7,1744.8 642.7,1750.6 644.7,1756.4" fill="#FF0000"/>
<path d="M873,1750.6L751.5,1750.6" fill="none" stroke="#FF0000" stroke-width="2.3"/>
<polygon points="740.5,1750.6 754,1744.8 752,1750.6 754,1756.4" fill="#FF0000"/>
<path d="M832,1731L832,1738Q832,1744 827.8,1748.2L826,1750" fill="none" stroke="#2a2a2a" stroke-width="1.2"/>
<path d="M914.6,1750.6L1137.8,1750.6Q1148.8,1750.6 1148.8,1739.6L1148.8,1660" fill="none" stroke="#2a2a2a" stroke-width="1.55"/>
<polygon points="904.1,1750.6 916.6,1745 916.6,1750.6 916.6,1756.2" fill="#101010"/>
<path d="M881.6,1737L881.6,1694.3" fill="none" stroke="#FF0000" stroke-width="2.3"/>
<polygon points="881.6,1683.3 887.4,1696.8 881.6,1694.8 875.8,1696.8" fill="#FF0000"/>
<path d="M892.3,1682.5L892.3,1724.9" fill="none" stroke="#FF0000" stroke-width="2.3"/>
<polygon points="892.3,1735.9 886.5,1722.4 892.3,1724.4 898.1,1722.4" fill="#FF0000"/>
<path d="M881.6,1655L881.6,1610.1" fill="none" stroke="#2a2a2a" stroke-width="1.55"/>
<polygon points="881.6,1599.6 887.2,1612.1 881.6,1612.1 876,1612.1" fill="#101010"/>
<path d="M892.3,1597.5L892.3,1642.8" fill="none" stroke="#FF0000" stroke-width="2.3"/>
<polygon points="892.3,1653.8 886.5,1640.3 892.3,1642.3 898.1,1640.3" fill="#FF0000"/>
<path d="M881.6,1570L881.6,1527.7" fill="none" stroke="#2a2a2a" stroke-width="1.55"/>
<polygon points="881.6,1517.2 887.2,1529.7 881.6,1529.7 876,1529.7" fill="#101010"/>
<path d="M892.3,1515L892.3,1557.7" fill="none" stroke="#FF0000" stroke-width="2.3"/>
<polygon points="892.3,1568.7 886.5,1555.2 892.3,1557.2 898.1,1555.2" fill="#FF0000"/>
<path d="M737.2,1528.9L737.2,1597.9" fill="none" stroke="#FF0000" stroke-width="2.3"/>
<polygon points="737.2,1608.9 731.4,1595.4 737.2,1597.4 743,1595.4" fill="#FF0000"/>
<polygon points="737.2,1517.9 743,1531.4 737.2,1529.4 731.4,1531.4" fill="#FF0000"/>
<path d="M704,1579.5L722,1579.1Q728,1579 732.2,1574.8L735,1572" fill="none" stroke="#2a2a2a" stroke-width="1.2"/>
<path d="M751.2,1624.6L806.8,1624.6" fill="none" stroke="#2a2a2a" stroke-width="1.55"/>
<polygon points="817.3,1624.6 804.8,1630.2 804.8,1624.6 804.8,1619" fill="#101010"/>
<path d="M848.4,1624.6L1023.3,1624.6" fill="none" stroke="#2a2a2a" stroke-width="1.55"/>
<polygon points="1033.8,1624.6 1021.3,1630.2 1021.3,1624.6 1021.3,1619" fill="#101010"/>
<path d="M1050.9,1610.6L1050.9,1561.7" fill="none" stroke="#2a2a2a" stroke-width="1.55"/>
<polygon points="1050.9,1551.2 1056.5,1563.7 1050.9,1563.7 1045.3,1563.7" fill="#101010"/>
<path d="M1064.9,1534.1L1121.2,1534.1" fill="none" stroke="#2a2a2a" stroke-width="1.55"/>
<polygon points="1131.7,1534.1 1119.2,1539.7 1119.2,1534.1 1119.2,1528.5" fill="#101010"/>
<path d="M1148.8,1561.7L1148.8,1597" fill="none" stroke="#2a2a2a" stroke-width="1.55"/>
<polygon points="1148.8,1607.5 1143.2,1595 1148.8,1595 1154.4,1595" fill="#101010"/>
<polygon points="1148.8,1551.2 1154.4,1563.7 1148.8,1563.7 1143.2,1563.7" fill="#101010"/>
<path d="M1148.8,1520.1L1148.8,1470.1" fill="none" stroke="#2a2a2a" stroke-width="1.55"/>
<polygon points="1148.8,1459.6 1154.4,1472.1 1148.8,1472.1 1143.2,1472.1" fill="#101010"/>
<path d="M1148.8,1428.5L1148.8,1378.4" fill="none" stroke="#2a2a2a" stroke-width="1.55"/>
<polygon points="1148.8,1367.9 1154.4,1380.4 1148.8,1380.4 1143.2,1380.4" fill="#101010"/>
<path d="M1231.5,1534.1L1176.4,1534.1" fill="none" stroke="#2a2a2a" stroke-width="1.55"/>
<polygon points="1165.9,1534.1 1178.4,1528.5 1178.4,1534.1 1178.4,1539.7" fill="#101010"/>
<path d="M1328.3,1534.1L1273.1,1534.1" fill="none" stroke="#2a2a2a" stroke-width="1.55"/>
<polygon points="1262.6,1534.1 1275.1,1528.5 1275.1,1534.1 1275.1,1539.7" fill="#101010"/>
<path d="M1424.9,1534.1L1369,1534.1" fill="none" stroke="#FF0000" stroke-width="2.3"/>
<polygon points="1358,1534.1 1371.5,1528.3 1369.5,1534.1 1371.5,1539.9" fill="#FF0000"/>
<path d="M1534.2,1534.1L1466.5,1534.1" fill="none" stroke="#2a2a2a" stroke-width="1.55"/>
<polygon points="1456,1534.1 1468.5,1528.5 1468.5,1534.1 1468.5,1539.7" fill="#101010"/>
<path d="M1502,1534.5L1504.7,1535.9Q1511,1539 1511.5,1546L1512,1554" fill="none" stroke="#2a2a2a" stroke-width="1.2"/>
<path d="M1476.1,1470.1L1476.1,1514.9Q1476.1,1524.9 1486.1,1524.9L1523,1524.9" fill="none" stroke="#2a2a2a" stroke-width="1.55"/>
<polygon points="1533.5,1524.9 1521,1530.5 1521,1524.9 1521,1519.3" fill="#101010"/>
<polygon points="1476.1,1459.6 1481.7,1472.1 1476.1,1472.1 1470.5,1472.1" fill="#101010"/>
<path d="M1476.1,1414.9L1476.1,1361.5Q1476.1,1351.5 1486.1,1351.5L1520.6,1351.5" fill="none" stroke="#2a2a2a" stroke-width="1.55"/>
<polygon points="1531.1,1351.5 1518.6,1357.1 1518.6,1351.5 1518.6,1345.9" fill="#101010"/>
<polygon points="1476.1,1425.4 1470.5,1412.9 1476.1,1412.9 1481.7,1412.9" fill="#101010"/>
<path d="M1548.2,1379.1L1548.2,1414.9" fill="none" stroke="#2a2a2a" stroke-width="1.55"/>
<polygon points="1548.2,1425.4 1542.6,1412.9 1548.2,1412.9 1553.8,1412.9" fill="#101010"/>
<polygon points="1548.2,1368.6 1553.8,1381.1 1548.2,1381.1 1542.6,1381.1" fill="#101010"/>
<path d="M1548.2,1469.2L1548.2,1507.4" fill="none" stroke="#FF0000" stroke-width="2.3"/>
<polygon points="1548.2,1518.4 1542.4,1504.9 1548.2,1506.9 1554,1504.9" fill="#FF0000"/>
<polygon points="1548.2,1458.2 1554,1471.7 1548.2,1469.7 1542.4,1471.7" fill="#FF0000"/>
<path d="M1562,1527.7L1684.5,1527.7" fill="none" stroke="#2a2a2a" stroke-width="1.55"/>
<polygon points="1695,1527.7 1682.5,1533.3 1682.5,1527.7 1682.5,1522.1" fill="#101010"/>
<path d="M1697,1537.7L1574.4,1537.7" fill="none" stroke="#FF0000" stroke-width="2.3"/>
<polygon points="1563.4,1537.7 1576.9,1531.9 1574.9,1537.7 1576.9,1543.5" fill="#FF0000"/>
<path d="M1548.2,1561.7L1548.2,1597" fill="none" stroke="#2a2a2a" stroke-width="1.55"/>
<polygon points="1548.2,1607.5 1542.6,1595 1548.2,1595 1553.8,1595" fill="#101010"/>
<polygon points="1548.2,1551.2 1553.8,1563.7 1548.2,1563.7 1542.6,1563.7" fill="#101010"/>
<path d="M1548.2,1652.2L1548.2,1774.5" fill="none" stroke="#2a2a2a" stroke-width="1.55"/>
<polygon points="1548.2,1785 1542.6,1772.5 1548.2,1772.5 1553.8,1772.5" fill="#101010"/>
<polygon points="1548.2,1641.7 1553.8,1654.2 1548.2,1654.2 1542.6,1654.2" fill="#101010"/>
<circle cx="158" cy="65" r="12.9" fill="#fff" stroke="#161616" stroke-width="1.6" stroke-dasharray="9 0.5"/>
<text x="158" y="70" font-size="14.5" text-anchor="middle" fill="#1a1a1a" stroke="#1a1a1a" stroke-width="0.2">1</text>
<circle cx="158" cy="157" r="12.9" fill="#fff" stroke="#161616" stroke-width="1.6" stroke-dasharray="9 0.5"/>
<text x="158" y="162" font-size="14.5" text-anchor="middle" fill="#1a1a1a" stroke="#1a1a1a" stroke-width="0.2">1</text>
<circle cx="158" cy="248" r="12.9" fill="#fff" stroke="#161616" stroke-width="1.6" stroke-dasharray="9 0.5"/>
<text x="158" y="253" font-size="14.5" text-anchor="middle" fill="#1a1a1a" stroke="#1a1a1a" stroke-width="0.2">1</text>
<circle cx="521.6" cy="164" r="12.9" fill="#fff" stroke="#161616" stroke-width="1.6" stroke-dasharray="9 0.5"/>
<text x="521.6" y="169" font-size="14.5" text-anchor="middle" fill="#1a1a1a" stroke="#1a1a1a" stroke-width="0.2">1*</text>
<rect x="234.7" y="203.5" width="26" height="26" rx="5" fill="#9900FF" stroke="#B266FF" stroke-width="1"/>
<circle cx="247.7" cy="216.5" r="10.5" fill="none" stroke="#4a0a8a" stroke-width="1.1"/>
<text x="247.7" y="221.5" font-size="14.5" text-anchor="middle" fill="#3a0a6a">3</text>
<rect x="330.5" y="203.5" width="26" height="26" rx="5" fill="#9900FF" stroke="#B266FF" stroke-width="1"/>
<circle cx="343.5" cy="216.5" r="10.5" fill="none" stroke="#4a0a8a" stroke-width="1.1"/>
<text x="343.5" y="221.5" font-size="14.5" text-anchor="middle" fill="#3a0a6a">2</text>
<rect x="427.7" y="203.5" width="26" height="26" rx="5" fill="#9900FF" stroke="#B266FF" stroke-width="1"/>
<circle cx="440.7" cy="216.5" r="10.5" fill="none" stroke="#4a0a8a" stroke-width="1.1"/>
<text x="440.7" y="221.5" font-size="14.5" text-anchor="middle" fill="#3a0a6a">1</text>
<circle cx="596" cy="81" r="4.8" fill="#fff" stroke="#111" stroke-width="1.6"/>
<circle cx="596" cy="136" r="4.8" fill="#fff" stroke="#111" stroke-width="1.6"/>
<circle cx="708.5" cy="204" r="4.8" fill="#fff" stroke="#111" stroke-width="1.6"/>
<circle cx="273" cy="309.5" r="12.9" fill="#fff" stroke="#161616" stroke-width="1.6" stroke-dasharray="9 0.5"/>
<text x="273" y="314.5" font-size="14.5" text-anchor="middle" fill="#1a1a1a" stroke="#1a1a1a" stroke-width="0.2">1*</text>
<circle cx="370" cy="309.5" r="12.9" fill="#fff" stroke="#161616" stroke-width="1.6" stroke-dasharray="9 0.5"/>
<text x="370" y="314.5" font-size="14.5" text-anchor="middle" fill="#1a1a1a" stroke="#1a1a1a" stroke-width="0.2">1*</text>
<circle cx="466.6" cy="309.5" r="12.9" fill="#fff" stroke="#161616" stroke-width="1.6" stroke-dasharray="9 0.5"/>
<text x="466.6" y="314.5" font-size="14.5" text-anchor="middle" fill="#1a1a1a" stroke="#1a1a1a" stroke-width="0.2">1*</text>
<circle cx="563.5" cy="309.5" r="12.9" fill="#fff" stroke="#161616" stroke-width="1.6" stroke-dasharray="9 0.5"/>
<text x="563.5" y="314.5" font-size="14.5" text-anchor="middle" fill="#1a1a1a" stroke="#1a1a1a" stroke-width="0.2">1*</text>
<circle cx="659.8" cy="309.5" r="12.9" fill="#fff" stroke="#161616" stroke-width="1.6" stroke-dasharray="9 0.5"/>
<text x="659.8" y="314.5" font-size="14.5" text-anchor="middle" fill="#1a1a1a" stroke="#1a1a1a" stroke-width="0.2">1*</text>
<circle cx="513.5" cy="373" r="4.8" fill="#fff" stroke="#111" stroke-width="1.6"/>
<circle cx="273" cy="446.5" r="12.9" fill="#fff" stroke="#161616" stroke-width="1.6" stroke-dasharray="9 0.5"/>
<text x="273" y="451.5" font-size="14.5" text-anchor="middle" fill="#1a1a1a" stroke="#1a1a1a" stroke-width="0.2">1</text>
<circle cx="723.7" cy="446.5" r="12.9" fill="#fff" stroke="#161616" stroke-width="1.6" stroke-dasharray="9 0.5"/>
<text x="723.7" y="451.5" font-size="14.5" text-anchor="middle" fill="#1a1a1a" stroke="#1a1a1a" stroke-width="0.2">1</text>
<circle cx="110.7" cy="537.9" r="12.9" fill="#fff" stroke="#161616" stroke-width="1.6" stroke-dasharray="9 0.5"/>
<text x="110.7" y="542.9" font-size="14.5" text-anchor="middle" fill="#1a1a1a" stroke="#1a1a1a" stroke-width="0.2">1</text>
<rect x="260.2" y="524.9" width="26" height="26" rx="5" fill="#9900FF" stroke="#B266FF" stroke-width="1"/>
<circle cx="273.2" cy="537.9" r="10.5" fill="none" stroke="#4a0a8a" stroke-width="1.1"/>
<text x="273.2" y="542.9" font-size="14.5" text-anchor="middle" fill="#3a0a6a">1</text>
<circle cx="370.1" cy="537.9" r="12.9" fill="#fff" stroke="#161616" stroke-width="1.6" stroke-dasharray="9 0.5"/>
<text x="370.1" y="542.9" font-size="14.5" text-anchor="middle" fill="#1a1a1a" stroke="#1a1a1a" stroke-width="0.2">1*</text>
<circle cx="466.6" cy="537.9" r="12.9" fill="#fff" stroke="#161616" stroke-width="1.6" stroke-dasharray="9 0.5"/>
<text x="466.6" y="542.9" font-size="14.5" text-anchor="middle" fill="#1a1a1a" stroke="#1a1a1a" stroke-width="0.2">1*</text>
<circle cx="563.5" cy="537.9" r="12.9" fill="#fff" stroke="#161616" stroke-width="1.6" stroke-dasharray="9 0.5"/>
<text x="563.5" y="542.9" font-size="14.5" text-anchor="middle" fill="#1a1a1a" stroke="#1a1a1a" stroke-width="0.2">1*</text>
<circle cx="659.8" cy="537.9" r="12.9" fill="#fff" stroke="#161616" stroke-width="1.6" stroke-dasharray="9 0.5"/>
<text x="659.8" y="542.9" font-size="14.5" text-anchor="middle" fill="#1a1a1a" stroke="#1a1a1a" stroke-width="0.2">1*</text>
<circle cx="498.6" cy="602.8" r="4.8" fill="#fff" stroke="#111" stroke-width="1.6"/>
<circle cx="110.7" cy="666.4" r="12.9" fill="#fff" stroke="#161616" stroke-width="1.6" stroke-dasharray="9 0.5"/>
<text x="110.7" y="671.4" font-size="14.5" text-anchor="middle" fill="#1a1a1a" stroke="#1a1a1a" stroke-width="0.2">1</text>
<circle cx="212.2" cy="665.7" r="4.8" fill="#fff" stroke="#111" stroke-width="1.6"/>
<circle cx="133" cy="757.2" r="4.8" fill="#fff" stroke="#111" stroke-width="1.6"/>
<circle cx="63.9" cy="786.3" r="12.9" fill="#fff" stroke="#161616" stroke-width="1.6" stroke-dasharray="9 0.5"/>
<text x="63.9" y="791.3" font-size="14.5" text-anchor="middle" fill="#1a1a1a" stroke="#1a1a1a" stroke-width="0.2">3</text>
<circle cx="172.8" cy="786.3" r="12.9" fill="#fff" stroke="#161616" stroke-width="1.6" stroke-dasharray="9 0.5"/>
<text x="172.8" y="791.3" font-size="14.5" text-anchor="middle" fill="#1a1a1a" stroke="#1a1a1a" stroke-width="0.2">5</text>
<circle cx="466" cy="781.7" r="12.9" fill="#fff" stroke="#161616" stroke-width="1.6" stroke-dasharray="9 0.5"/>
<text x="466" y="786.7" font-size="14.5" text-anchor="middle" fill="#1a1a1a" stroke="#1a1a1a" stroke-width="0.2">3</text>
<circle cx="593" cy="724.5" r="12.9" fill="#fff" stroke="#161616" stroke-width="1.6" stroke-dasharray="9 0.5"/>
<text x="593" y="729.5" font-size="14.5" text-anchor="middle" fill="#1a1a1a" stroke="#1a1a1a" stroke-width="0.2">2</text>
<circle cx="412.7" cy="873.3" r="12.9" fill="#fff" stroke="#161616" stroke-width="1.6" stroke-dasharray="9 0.5"/>
<text x="412.7" y="878.3" font-size="14.5" text-anchor="middle" fill="#1a1a1a" stroke="#1a1a1a" stroke-width="0.2">2</text>
<circle cx="887" cy="97.6" r="12.9" fill="#fff" stroke="#161616" stroke-width="1.6" stroke-dasharray="9 0.5"/>
<text x="887" y="102.6" font-size="14.5" text-anchor="middle" fill="#1a1a1a" stroke="#1a1a1a" stroke-width="0.2">6</text>
<circle cx="1102.4" cy="97.6" r="12.9" fill="#fff" stroke="#161616" stroke-width="1.6" stroke-dasharray="9 0.5"/>
<text x="1102.4" y="102.6" font-size="14.5" text-anchor="middle" fill="#1a1a1a" stroke="#1a1a1a" stroke-width="0.2">6</text>
<circle cx="1317.5" cy="97.6" r="12.9" fill="#fff" stroke="#161616" stroke-width="1.6" stroke-dasharray="9 0.5"/>
<text x="1317.5" y="102.6" font-size="14.5" text-anchor="middle" fill="#1a1a1a" stroke="#1a1a1a" stroke-width="0.2">6</text>
<circle cx="1533.3" cy="97.6" r="12.9" fill="#fff" stroke="#161616" stroke-width="1.6" stroke-dasharray="9 0.5"/>
<text x="1533.3" y="102.6" font-size="14.5" text-anchor="middle" fill="#1a1a1a" stroke="#1a1a1a" stroke-width="0.2">6</text>
<circle cx="887" cy="188" r="12.9" fill="#fff" stroke="#161616" stroke-width="1.6" stroke-dasharray="9 0.5"/>
<text x="887" y="193" font-size="14.5" text-anchor="middle" fill="#1a1a1a" stroke="#1a1a1a" stroke-width="0.2">6</text>
<circle cx="1102.4" cy="188" r="12.9" fill="#fff" stroke="#161616" stroke-width="1.6" stroke-dasharray="9 0.5"/>
<text x="1102.4" y="193" font-size="14.5" text-anchor="middle" fill="#1a1a1a" stroke="#1a1a1a" stroke-width="0.2">6</text>
<circle cx="1317.5" cy="188" r="12.9" fill="#fff" stroke="#161616" stroke-width="1.6" stroke-dasharray="9 0.5"/>
<text x="1317.5" y="193" font-size="14.5" text-anchor="middle" fill="#1a1a1a" stroke="#1a1a1a" stroke-width="0.2">6</text>
<circle cx="1533.3" cy="188" r="12.9" fill="#fff" stroke="#161616" stroke-width="1.6" stroke-dasharray="9 0.5"/>
<text x="1533.3" y="193" font-size="14.5" text-anchor="middle" fill="#1a1a1a" stroke="#1a1a1a" stroke-width="0.2">6</text>
<circle cx="1102.4" cy="258.3" r="12.9" fill="#fff" stroke="#161616" stroke-width="1.6" stroke-dasharray="9 0.5"/>
<text x="1102.4" y="263.3" font-size="14.5" text-anchor="middle" fill="#1a1a1a" stroke="#1a1a1a" stroke-width="0.2">6</text>
<circle cx="887" cy="323.6" r="12.9" fill="#fff" stroke="#161616" stroke-width="1.6" stroke-dasharray="9 0.5"/>
<text x="887" y="328.6" font-size="14.5" text-anchor="middle" fill="#1a1a1a" stroke="#1a1a1a" stroke-width="0.2">6</text>
<circle cx="1220.6" cy="324.7" r="12.9" fill="#fff" stroke="#161616" stroke-width="1.6" stroke-dasharray="9 0.5"/>
<text x="1220.6" y="329.7" font-size="14.5" text-anchor="middle" fill="#1a1a1a" stroke="#1a1a1a" stroke-width="0.2">5</text>
<circle cx="1317.5" cy="324.7" r="12.9" fill="#fff" stroke="#161616" stroke-width="1.6" stroke-dasharray="9 0.5"/>
<text x="1317.5" y="329.7" font-size="14.5" text-anchor="middle" fill="#1a1a1a" stroke="#1a1a1a" stroke-width="0.2">5</text>
<circle cx="994" cy="396.7" r="12.9" fill="#fff" stroke="#161616" stroke-width="1.6" stroke-dasharray="9 0.5"/>
<text x="994" y="401.7" font-size="14.5" text-anchor="middle" fill="#1a1a1a" stroke="#1a1a1a" stroke-width="0.2">4</text>
<circle cx="1105" cy="396.7" r="12.9" fill="#fff" stroke="#161616" stroke-width="1.6" stroke-dasharray="9 0.5"/>
<text x="1105" y="401.7" font-size="14.5" text-anchor="middle" fill="#1a1a1a" stroke="#1a1a1a" stroke-width="0.2">7</text>
<circle cx="887" cy="461.3" r="12.9" fill="#fff" stroke="#161616" stroke-width="1.6" stroke-dasharray="9 0.5"/>
<text x="887" y="466.3" font-size="14.5" text-anchor="middle" fill="#1a1a1a" stroke="#1a1a1a" stroke-width="0.2">6</text>
<circle cx="1105" cy="484.4" r="12.9" fill="#fff" stroke="#161616" stroke-width="1.6" stroke-dasharray="9 0.5"/>
<text x="1105" y="489.4" font-size="14.5" text-anchor="middle" fill="#1a1a1a" stroke="#1a1a1a" stroke-width="0.2">7</text>
<circle cx="1277.4" cy="449" r="12.9" fill="#fff" stroke="#161616" stroke-width="1.6" stroke-dasharray="9 0.5"/>
<text x="1277.4" y="454" font-size="14.5" text-anchor="middle" fill="#1a1a1a" stroke="#1a1a1a" stroke-width="0.2">5</text>
<circle cx="1387.4" cy="449" r="12.9" fill="#fff" stroke="#161616" stroke-width="1.6" stroke-dasharray="9 0.5"/>
<text x="1387.4" y="454" font-size="14.5" text-anchor="middle" fill="#1a1a1a" stroke="#1a1a1a" stroke-width="0.2">5</text>
<circle cx="1042.4" cy="553.2" r="12.9" fill="#fff" stroke="#161616" stroke-width="1.6" stroke-dasharray="9 0.5"/>
<text x="1042.4" y="558.2" font-size="14.5" text-anchor="middle" fill="#1a1a1a" stroke="#1a1a1a" stroke-width="0.2">3</text>
<circle cx="1138.9" cy="553.2" r="12.9" fill="#fff" stroke="#161616" stroke-width="1.6" stroke-dasharray="9 0.5"/>
<text x="1138.9" y="558.2" font-size="14.5" text-anchor="middle" fill="#1a1a1a" stroke="#1a1a1a" stroke-width="0.2">3</text>
<circle cx="887" cy="599.3" r="12.9" fill="#fff" stroke="#161616" stroke-width="1.6" stroke-dasharray="9 0.5"/>
<text x="887" y="604.3" font-size="14.5" text-anchor="middle" fill="#1a1a1a" stroke="#1a1a1a" stroke-width="0.2">3</text>
<circle cx="887" cy="690.5" r="12.9" fill="#fff" stroke="#161616" stroke-width="1.6" stroke-dasharray="9 0.5"/>
<text x="887" y="695.5" font-size="14.5" text-anchor="middle" fill="#1a1a1a" stroke="#1a1a1a" stroke-width="0.2">3</text>
<circle cx="887" cy="781.7" r="12.9" fill="#fff" stroke="#161616" stroke-width="1.6" stroke-dasharray="9 0.5"/>
<text x="887" y="786.7" font-size="14.5" text-anchor="middle" fill="#1a1a1a" stroke="#1a1a1a" stroke-width="0.2">3</text>
<circle cx="887" cy="872.5" r="12.9" fill="#fff" stroke="#161616" stroke-width="1.6" stroke-dasharray="9 0.5"/>
<text x="887" y="877.5" font-size="14.5" text-anchor="middle" fill="#1a1a1a" stroke="#1a1a1a" stroke-width="0.2">3</text>
<circle cx="723.7" cy="781.7" r="12.9" fill="#fff" stroke="#161616" stroke-width="1.6" stroke-dasharray="9 0.5"/>
<text x="723.7" y="786.7" font-size="14.5" text-anchor="middle" fill="#1a1a1a" stroke="#1a1a1a" stroke-width="0.2">3</text>
<circle cx="627.9" cy="781.7" r="12.9" fill="#fff" stroke="#161616" stroke-width="1.6" stroke-dasharray="9 0.5"/>
<text x="627.9" y="786.7" font-size="14.5" text-anchor="middle" fill="#1a1a1a" stroke="#1a1a1a" stroke-width="0.2">3</text>
<circle cx="666.9" cy="872.5" r="12.9" fill="#fff" stroke="#161616" stroke-width="1.6" stroke-dasharray="9 0.5"/>
<text x="666.9" y="877.5" font-size="14.5" text-anchor="middle" fill="#1a1a1a" stroke="#1a1a1a" stroke-width="0.2">3</text>
<circle cx="763.8" cy="872.5" r="12.9" fill="#fff" stroke="#161616" stroke-width="1.6" stroke-dasharray="9 0.5"/>
<text x="763.8" y="877.5" font-size="14.5" text-anchor="middle" fill="#1a1a1a" stroke="#1a1a1a" stroke-width="0.2">3</text>
<circle cx="1104.1" cy="843.8" r="12.9" fill="#fff" stroke="#161616" stroke-width="1.6" stroke-dasharray="9 0.5"/>
<text x="1104.1" y="848.8" font-size="14.5" text-anchor="middle" fill="#1a1a1a" stroke="#1a1a1a" stroke-width="0.2">2</text>
<circle cx="1104.1" cy="933.6" r="12.9" fill="#fff" stroke="#161616" stroke-width="1.6" stroke-dasharray="9 0.5"/>
<text x="1104.1" y="938.6" font-size="14.5" text-anchor="middle" fill="#1a1a1a" stroke="#1a1a1a" stroke-width="0.2">2</text>
<circle cx="1317.5" cy="781" r="12.9" fill="#fff" stroke="#161616" stroke-width="1.6" stroke-dasharray="9 0.5"/>
<text x="1317.5" y="786" font-size="14.5" text-anchor="middle" fill="#1a1a1a" stroke="#1a1a1a" stroke-width="0.2">5</text>
<circle cx="1281.3" cy="960.9" r="12.9" fill="#fff" stroke="#161616" stroke-width="1.6" stroke-dasharray="9 0.5"/>
<text x="1281.3" y="965.9" font-size="14.5" text-anchor="middle" fill="#1a1a1a" stroke="#1a1a1a" stroke-width="0.2">3</text>
<circle cx="887" cy="1011.2" r="12.9" fill="#fff" stroke="#161616" stroke-width="1.6" stroke-dasharray="9 0.5"/>
<text x="887" y="1016.2" font-size="14.5" text-anchor="middle" fill="#1a1a1a" stroke="#1a1a1a" stroke-width="0.2">3</text>
<circle cx="998.7" cy="1053.8" r="12.9" fill="#fff" stroke="#161616" stroke-width="1.6" stroke-dasharray="9 0.5"/>
<text x="998.7" y="1058.8" font-size="14.5" text-anchor="middle" fill="#1a1a1a" stroke="#1a1a1a" stroke-width="0.2">3</text>
<circle cx="887" cy="1101.7" r="12.9" fill="#fff" stroke="#161616" stroke-width="1.6" stroke-dasharray="9 0.5"/>
<text x="887" y="1106.7" font-size="14.5" text-anchor="middle" fill="#1a1a1a" stroke="#1a1a1a" stroke-width="0.2">3</text>
<circle cx="887" cy="1239" r="12.9" fill="#fff" stroke="#161616" stroke-width="1.6" stroke-dasharray="9 0.5"/>
<text x="887" y="1244" font-size="14.5" text-anchor="middle" fill="#1a1a1a" stroke="#1a1a1a" stroke-width="0.2">2*</text>
<circle cx="887" cy="1333.1" r="12.9" fill="#fff" stroke="#161616" stroke-width="1.6" stroke-dasharray="9 0.5"/>
<text x="887" y="1338.1" font-size="14.5" text-anchor="middle" fill="#1a1a1a" stroke="#1a1a1a" stroke-width="0.2">3*</text>
<circle cx="887" cy="1417.2" r="12.9" fill="#fff" stroke="#161616" stroke-width="1.6" stroke-dasharray="9 0.5"/>
<text x="887" y="1422.2" font-size="14.5" text-anchor="middle" fill="#1a1a1a" stroke="#1a1a1a" stroke-width="0.2">3</text>
<circle cx="1202.2" cy="1161" r="12.9" fill="#fff" stroke="#161616" stroke-width="1.6" stroke-dasharray="9 0.5"/>
<text x="1202.2" y="1166" font-size="14.5" text-anchor="middle" fill="#1a1a1a" stroke="#1a1a1a" stroke-width="0.2">2</text>
<rect x="1351.7" y="1148" width="26" height="26" rx="5" fill="#9900FF" stroke="#B266FF" stroke-width="1"/>
<circle cx="1364.7" cy="1161" r="10.5" fill="none" stroke="#4a0a8a" stroke-width="1.1"/>
<text x="1364.7" y="1166" font-size="14.5" text-anchor="middle" fill="#3a0a6a">2</text>
<circle cx="350.6" cy="1287" r="12.9" fill="#fff" stroke="#161616" stroke-width="1.6" stroke-dasharray="9 0.5"/>
<text x="350.6" y="1292" font-size="14.5" text-anchor="middle" fill="#1a1a1a" stroke="#1a1a1a" stroke-width="0.2">4*</text>
<circle cx="414.1" cy="1378.5" r="12.9" fill="#fff" stroke="#161616" stroke-width="1.6" stroke-dasharray="9 0.5"/>
<text x="414.1" y="1383.5" font-size="14.5" text-anchor="middle" fill="#1a1a1a" stroke="#1a1a1a" stroke-width="0.2">4</text>
<circle cx="575.9" cy="1378.5" r="12.9" fill="#fff" stroke="#161616" stroke-width="1.6" stroke-dasharray="9 0.5"/>
<text x="575.9" y="1383.5" font-size="14.5" text-anchor="middle" fill="#1a1a1a" stroke="#1a1a1a" stroke-width="0.2">4</text>
<rect x="400.4" y="1456.5" width="26" height="26" rx="5" fill="#9900FF" stroke="#B266FF" stroke-width="1"/>
<circle cx="413.4" cy="1469.5" r="10.5" fill="none" stroke="#4a0a8a" stroke-width="1.1"/>
<text x="413.4" y="1474.5" font-size="14.5" text-anchor="middle" fill="#3a0a6a">4</text>
<rect x="556.2" y="1456.5" width="26" height="26" rx="5" fill="#9900FF" stroke="#B266FF" stroke-width="1"/>
<circle cx="569.2" cy="1469.5" r="10.5" fill="none" stroke="#4a0a8a" stroke-width="1.1"/>
<text x="569.2" y="1474.5" font-size="14.5" text-anchor="middle" fill="#3a0a6a">4</text>
<rect x="400.4" y="1547.4" width="26" height="26" rx="5" fill="#9900FF" stroke="#B266FF" stroke-width="1"/>
<circle cx="413.4" cy="1560.4" r="10.5" fill="none" stroke="#4a0a8a" stroke-width="1.1"/>
<text x="413.4" y="1565.4" font-size="14.5" text-anchor="middle" fill="#3a0a6a">4</text>
<circle cx="737.2" cy="1378.2" r="12.9" fill="#fff" stroke="#161616" stroke-width="1.6" stroke-dasharray="9 0.5"/>
<text x="737.2" y="1383.2" font-size="14.5" text-anchor="middle" fill="#1a1a1a" stroke="#1a1a1a" stroke-width="0.2">6</text>
<circle cx="652.7" cy="1426" r="12.9" fill="#fff" stroke="#161616" stroke-width="1.6" stroke-dasharray="9 0.5"/>
<text x="652.7" y="1431" font-size="14.5" text-anchor="middle" fill="#1a1a1a" stroke="#1a1a1a" stroke-width="0.2">6*</text>
<circle cx="737.2" cy="1502.2" r="12.9" fill="#fff" stroke="#161616" stroke-width="1.6" stroke-dasharray="9 0.5"/>
<text x="737.2" y="1507.2" font-size="14.5" text-anchor="middle" fill="#1a1a1a" stroke="#1a1a1a" stroke-width="0.2">6</text>
<circle cx="522.3" cy="1625.7" r="12.9" fill="#fff" stroke="#161616" stroke-width="1.6" stroke-dasharray="9 0.5"/>
<text x="522.3" y="1630.7" font-size="14.5" text-anchor="middle" fill="#1a1a1a" stroke="#1a1a1a" stroke-width="0.2">4*</text>
<circle cx="737.2" cy="1624.6" r="12.9" fill="#fff" stroke="#161616" stroke-width="1.6" stroke-dasharray="9 0.5"/>
<text x="737.2" y="1629.6" font-size="14.5" text-anchor="middle" fill="#1a1a1a" stroke="#1a1a1a" stroke-width="0.2">5</text>
<circle cx="834.4" cy="1624.6" r="12.9" fill="#fff" stroke="#161616" stroke-width="1.6" stroke-dasharray="9 0.5"/>
<text x="834.4" y="1629.6" font-size="14.5" text-anchor="middle" fill="#1a1a1a" stroke="#1a1a1a" stroke-width="0.2">5</text>
<circle cx="1050.9" cy="1624.6" r="12.9" fill="#fff" stroke="#161616" stroke-width="1.6" stroke-dasharray="9 0.5"/>
<text x="1050.9" y="1629.6" font-size="14.5" text-anchor="middle" fill="#1a1a1a" stroke="#1a1a1a" stroke-width="0.2">5</text>
<circle cx="1050.9" cy="1534.1" r="12.9" fill="#fff" stroke="#161616" stroke-width="1.6" stroke-dasharray="9 0.5"/>
<text x="1050.9" y="1539.1" font-size="14.5" text-anchor="middle" fill="#1a1a1a" stroke="#1a1a1a" stroke-width="0.2">5</text>
<circle cx="887" cy="1501.1" r="12.9" fill="#fff" stroke="#161616" stroke-width="1.6" stroke-dasharray="9 0.5"/>
<text x="887" y="1506.1" font-size="14.5" text-anchor="middle" fill="#1a1a1a" stroke="#1a1a1a" stroke-width="0.2">3</text>
<circle cx="887" cy="1583.5" r="12.9" fill="#fff" stroke="#161616" stroke-width="1.6" stroke-dasharray="9 0.5"/>
<text x="887" y="1588.5" font-size="14.5" text-anchor="middle" fill="#1a1a1a" stroke="#1a1a1a" stroke-width="0.2">3*</text>
<circle cx="887" cy="1668.6" r="12.9" fill="#fff" stroke="#161616" stroke-width="1.6" stroke-dasharray="9 0.5"/>
<text x="887" y="1673.6" font-size="14.5" text-anchor="middle" fill="#1a1a1a" stroke="#1a1a1a" stroke-width="0.2">3*</text>
<circle cx="887" cy="1750.6" r="12.9" fill="#fff" stroke="#161616" stroke-width="1.6" stroke-dasharray="9 0.5"/>
<text x="887" y="1755.6" font-size="14.5" text-anchor="middle" fill="#1a1a1a" stroke="#1a1a1a" stroke-width="0.2">3*</text>
<circle cx="724.8" cy="1750.6" r="12.9" fill="#fff" stroke="#161616" stroke-width="1.6" stroke-dasharray="9 0.5"/>
<text x="724.8" y="1755.6" font-size="14.5" text-anchor="middle" fill="#1a1a1a" stroke="#1a1a1a" stroke-width="0.2">4*</text>
<circle cx="615.5" cy="1750.6" r="12.9" fill="#fff" stroke="#161616" stroke-width="1.6" stroke-dasharray="9 0.5"/>
<text x="615.5" y="1755.6" font-size="14.5" text-anchor="middle" fill="#1a1a1a" stroke="#1a1a1a" stroke-width="0.2">4*</text>
<circle cx="1148.8" cy="1350.8" r="12.9" fill="#fff" stroke="#161616" stroke-width="1.6" stroke-dasharray="9 0.5"/>
<text x="1148.8" y="1355.8" font-size="14.5" text-anchor="middle" fill="#1a1a1a" stroke="#1a1a1a" stroke-width="0.2">5*</text>
<circle cx="1148.8" cy="1442.5" r="12.9" fill="#fff" stroke="#161616" stroke-width="1.6" stroke-dasharray="9 0.5"/>
<text x="1148.8" y="1447.5" font-size="14.5" text-anchor="middle" fill="#1a1a1a" stroke="#1a1a1a" stroke-width="0.2">5*</text>
<circle cx="1148.8" cy="1534.1" r="12.9" fill="#fff" stroke="#161616" stroke-width="1.6" stroke-dasharray="9 0.5"/>
<text x="1148.8" y="1539.1" font-size="14.5" text-anchor="middle" fill="#1a1a1a" stroke="#1a1a1a" stroke-width="0.2">5*</text>
<circle cx="1148.8" cy="1624.6" r="12.9" fill="#fff" stroke="#161616" stroke-width="1.6" stroke-dasharray="9 0.5"/>
<text x="1148.8" y="1629.6" font-size="14.5" text-anchor="middle" fill="#1a1a1a" stroke="#1a1a1a" stroke-width="0.2">5*</text>
<circle cx="1245.5" cy="1534.1" r="12.9" fill="#fff" stroke="#161616" stroke-width="1.6" stroke-dasharray="9 0.5"/>
<text x="1245.5" y="1539.1" font-size="14.5" text-anchor="middle" fill="#1a1a1a" stroke="#1a1a1a" stroke-width="0.2">5*</text>
<circle cx="1342.3" cy="1534.1" r="12.9" fill="#fff" stroke="#161616" stroke-width="1.6" stroke-dasharray="9 0.5"/>
<text x="1342.3" y="1539.1" font-size="14.5" text-anchor="middle" fill="#1a1a1a" stroke="#1a1a1a" stroke-width="0.2">5*</text>
<circle cx="1438.9" cy="1534.1" r="12.9" fill="#fff" stroke="#161616" stroke-width="1.6" stroke-dasharray="9 0.5"/>
<text x="1438.9" y="1539.1" font-size="14.5" text-anchor="middle" fill="#1a1a1a" stroke="#1a1a1a" stroke-width="0.2">5*</text>
<circle cx="1548.2" cy="1351.5" r="12.9" fill="#fff" stroke="#161616" stroke-width="1.6" stroke-dasharray="9 0.5"/>
<text x="1548.2" y="1356.5" font-size="14.5" text-anchor="middle" fill="#1a1a1a" stroke="#1a1a1a" stroke-width="0.2">4*</text>
<circle cx="1476.1" cy="1442.5" r="12.9" fill="#fff" stroke="#161616" stroke-width="1.6" stroke-dasharray="9 0.5"/>
<text x="1476.1" y="1447.5" font-size="14.5" text-anchor="middle" fill="#1a1a1a" stroke="#1a1a1a" stroke-width="0.2">4*</text>
<circle cx="1548.2" cy="1442.5" r="12.9" fill="#fff" stroke="#161616" stroke-width="1.6" stroke-dasharray="9 0.5"/>
<text x="1548.2" y="1447.5" font-size="14.5" text-anchor="middle" fill="#1a1a1a" stroke="#1a1a1a" stroke-width="0.2">4*</text>
<circle cx="1548.2" cy="1534.1" r="12.9" fill="#fff" stroke="#161616" stroke-width="1.6" stroke-dasharray="9 0.5"/>
<text x="1548.2" y="1539.1" font-size="14.5" text-anchor="middle" fill="#1a1a1a" stroke="#1a1a1a" stroke-width="0.2">4*</text>
<circle cx="1710.7" cy="1534.1" r="12.9" fill="#fff" stroke="#161616" stroke-width="1.6" stroke-dasharray="9 0.5"/>
<text x="1710.7" y="1539.1" font-size="14.5" text-anchor="middle" fill="#1a1a1a" stroke="#1a1a1a" stroke-width="0.2">4*</text>
<circle cx="1548.2" cy="1624.6" r="12.9" fill="#fff" stroke="#161616" stroke-width="1.6" stroke-dasharray="9 0.5"/>
<text x="1548.2" y="1629.6" font-size="14.5" text-anchor="middle" fill="#1a1a1a" stroke="#1a1a1a" stroke-width="0.2">4*</text>
<circle cx="1548.2" cy="1802.1" r="12.9" fill="#fff" stroke="#161616" stroke-width="1.6" stroke-dasharray="9 0.5"/>
<text x="1548.2" y="1807.1" font-size="14.5" text-anchor="middle" fill="#1a1a1a" stroke="#1a1a1a" stroke-width="0.2">4</text>
<text x="158" y="43" font-size="15.5" text-anchor="middle" fill="#1c1c1c" stroke="#1c1c1c" stroke-width="0.3">Methane</text>
<text x="139.5" y="162" font-size="15.5" text-anchor="end" fill="#1c1c1c" stroke="#1c1c1c" stroke-width="0.3">Methanol</text>
<text x="138.4" y="252" font-size="15.5" text-anchor="end" fill="#1c1c1c" stroke="#1c1c1c" stroke-width="0.3">Formaldehyde</text>
<text x="106" y="271" font-size="15.5" text-anchor="middle" fill="#1c1c1c" stroke="#1c1c1c" stroke-width="0.3">HCHO</text>
<text x="177.4" y="199" font-size="15.5" text-anchor="start" fill="#1c1c1c" stroke="#1c1c1c" stroke-width="0.3">Trimethyl-</text>
<text x="177.4" y="212.6" font-size="15.5" text-anchor="start" fill="#1c1c1c" stroke="#1c1c1c" stroke-width="0.3">amine</text>
<text x="276.8" y="199" font-size="15.5" text-anchor="start" fill="#1c1c1c" stroke="#1c1c1c" stroke-width="0.3">Dimethyl-</text>
<text x="276.8" y="212.6" font-size="15.5" text-anchor="start" fill="#1c1c1c" stroke="#1c1c1c" stroke-width="0.3">amine</text>
<text x="441.5" y="198.4" font-size="15.5" text-anchor="middle" fill="#1c1c1c" stroke="#1c1c1c" stroke-width="0.3">Methylamine</text>
<text x="538.7" y="190" font-size="15.5" text-anchor="start" fill="#1c1c1c" stroke="#1c1c1c" stroke-width="0.3">Methyl-CoM</text>
<text x="550.7" y="65" font-size="15.5" text-anchor="start" fill="#1c1c1c" stroke="#1c1c1c" stroke-width="0.3">CoM-S-S-CoB</text>
<text x="594" y="123.5" font-size="15.5" text-anchor="middle" fill="#1c1c1c" stroke="#1c1c1c" stroke-width="0.3">CoB</text>
<text x="708.5" y="230.3" font-size="15.5" text-anchor="middle" fill="#1c1c1c" stroke="#1c1c1c" stroke-width="0.3">CoM</text>
<text x="279" y="288" font-size="15.5" text-anchor="middle" fill="#1c1c1c" stroke="#1c1c1c" stroke-width="0.3">Formyl-MFR</text>
<text x="341.7" y="342" font-size="15.5" text-anchor="start" fill="#1c1c1c" stroke="#1c1c1c" stroke-width="0.3">N5-Formyl-</text>
<text x="342.7" y="355.6" font-size="15.5" text-anchor="start" fill="#1c1c1c" stroke="#1c1c1c" stroke-width="0.3">THMPT</text>
<text x="433.6" y="342" font-size="15.5" text-anchor="start" fill="#1c1c1c" stroke="#1c1c1c" stroke-width="0.3">5,10-Methenyl-</text>
<text x="433.6" y="355.6" font-size="15.5" text-anchor="start" fill="#1c1c1c" stroke="#1c1c1c" stroke-width="0.3">THMPT</text>
<text x="540" y="342" font-size="15.5" text-anchor="start" fill="#1c1c1c" stroke="#1c1c1c" stroke-width="0.3">5,10-Methylene-</text>
<text x="540" y="355.6" font-size="15.5" text-anchor="start" fill="#1c1c1c" stroke="#1c1c1c" stroke-width="0.3">THMPT</text>
<text x="674" y="282.9" font-size="15.5" text-anchor="start" fill="#1c1c1c" stroke="#1c1c1c" stroke-width="0.3">5-Methyl-</text>
<text x="674" y="296.7" font-size="15.5" text-anchor="start" fill="#1c1c1c" stroke="#1c1c1c" stroke-width="0.3">THMPT</text>
<text x="516" y="401.7" font-size="15.5" text-anchor="middle" fill="#1c1c1c" stroke="#1c1c1c" stroke-width="0.3">THMPT</text>
<text x="238" y="451" font-size="15.5" text-anchor="middle" fill="#1c1c1c" stroke="#1c1c1c" stroke-width="0.3">CO<tspan font-size="11" dy="2.5">2</tspan><tspan dy="-2.5"></tspan></text>
<text x="723.7" y="423.7" font-size="15.5" text-anchor="middle" fill="#1c1c1c" stroke="#1c1c1c" stroke-width="0.3">CO</text>
<text x="840.8" y="315.5" font-size="15.5" text-anchor="middle" fill="#1c1c1c" stroke="#1c1c1c" stroke-width="0.3">CO</text>
<text x="90.5" y="543.6" font-size="15.5" text-anchor="end" fill="#1c1c1c" stroke="#1c1c1c" stroke-width="0.3">Formamide</text>
<text x="273.2" y="571.3" font-size="15.5" text-anchor="middle" fill="#1c1c1c" stroke="#1c1c1c" stroke-width="0.3">Formate</text>
<text x="324.7" y="508.5" font-size="15.5" text-anchor="start" fill="#1c1c1c" stroke="#1c1c1c" stroke-width="0.3">10-Formyl-</text>
<text x="324.7" y="521.6" font-size="15.5" text-anchor="start" fill="#1c1c1c" stroke="#1c1c1c" stroke-width="0.3">THF</text>
<text x="412.7" y="508.5" font-size="15.5" text-anchor="start" fill="#1c1c1c" stroke="#1c1c1c" stroke-width="0.3">5,10-Methenyl-</text>
<text x="412.7" y="521.6" font-size="15.5" text-anchor="start" fill="#1c1c1c" stroke="#1c1c1c" stroke-width="0.3">THF</text>
<text x="527.7" y="508.5" font-size="15.5" text-anchor="start" fill="#1c1c1c" stroke="#1c1c1c" stroke-width="0.3">5,10-Methylene-</text>
<text x="527.7" y="521.6" font-size="15.5" text-anchor="start" fill="#1c1c1c" stroke="#1c1c1c" stroke-width="0.3">THF</text>
<text x="696.4" y="513.8" font-size="15.5" text-anchor="middle" fill="#1c1c1c" stroke="#1c1c1c" stroke-width="0.3">5-Methyl-THF</text>
<text x="501" y="589" font-size="15.5" text-anchor="middle" fill="#1c1c1c" stroke="#1c1c1c" stroke-width="0.3">THF</text>
<text x="178.1" y="640.5" font-size="15.5" text-anchor="middle" fill="#1c1c1c" stroke="#1c1c1c" stroke-width="0.3">CO<tspan font-size="11" dy="2.5">2</tspan><tspan dy="-2.5"></tspan></text>
<text x="184.5" y="690.2" font-size="15.5" text-anchor="middle" fill="#1c1c1c" stroke="#1c1c1c" stroke-width="0.3">NH<tspan font-size="11" dy="2.5">3</tspan><tspan dy="-2.5"></tspan></text>
<text x="90.5" y="671.4" font-size="15.5" text-anchor="end" fill="#1c1c1c" stroke="#1c1c1c" stroke-width="0.3">Carbamoyl-P</text>
<text x="133" y="747.7" font-size="15.5" text-anchor="middle" fill="#1c1c1c" stroke="#1c1c1c" stroke-width="0.3">H<tspan font-size="11" dy="2.5">2</tspan><tspan dy="-2.5"></tspan>S</text>
<text x="63.9" y="820.4" font-size="15.5" text-anchor="middle" fill="#1c1c1c" stroke="#1c1c1c" stroke-width="0.3">Cysteine</text>
<text x="175.7" y="820.4" font-size="15.5" text-anchor="middle" fill="#1c1c1c" stroke="#1c1c1c" stroke-width="0.3">Acetylserine</text>
<text x="266.9" y="823.2" font-size="15.5" text-anchor="middle" fill="#1c1c1c" stroke="#1c1c1c" stroke-width="0.3">AcCoA</text>
<text x="448.9" y="768.2" font-size="15.5" text-anchor="end" fill="#1c1c1c" stroke="#1c1c1c" stroke-width="0.3">Serine</text>
<text x="413.4" y="849.9" font-size="15.5" text-anchor="middle" fill="#1c1c1c" stroke="#1c1c1c" stroke-width="0.3">Glyoxylate</text>
<text x="887" y="77" font-size="15.5" text-anchor="middle" fill="#1c1c1c" stroke="#1c1c1c" stroke-width="0.3">Glucose</text>
<text x="1102.7" y="77" font-size="15.5" text-anchor="middle" fill="#1c1c1c" stroke="#1c1c1c" stroke-width="0.3">Glucono-1,5-lactone</text>
<text x="1316.4" y="77" font-size="15.5" text-anchor="middle" fill="#1c1c1c" stroke="#1c1c1c" stroke-width="0.3">Gluconate</text>
<text x="1467.6" y="62.8" font-size="15.5" text-anchor="start" fill="#1c1c1c" stroke="#1c1c1c" stroke-width="0.3">2-Dehydro-3-deoxy-</text>
<text x="1467.6" y="77" font-size="15.5" text-anchor="start" fill="#1c1c1c" stroke="#1c1c1c" stroke-width="0.3">gluconate</text>
<text x="865.7" y="195" font-size="15.5" text-anchor="end" fill="#1c1c1c" stroke="#1c1c1c" stroke-width="0.3">Glucose-6P</text>
<text x="1103" y="167" font-size="15.5" text-anchor="middle" fill="#1c1c1c" stroke="#1c1c1c" stroke-width="0.3">Glucono-1,5-lactone-6P</text>
<text x="1331.7" y="174.6" font-size="15.5" text-anchor="start" fill="#1c1c1c" stroke="#1c1c1c" stroke-width="0.3">Gluconate-6P</text>
<text x="1553.5" y="178.9" font-size="15.5" text-anchor="start" fill="#1c1c1c" stroke="#1c1c1c" stroke-width="0.3">2-Dehydro-</text>
<text x="1553.5" y="192.4" font-size="15.5" text-anchor="start" fill="#1c1c1c" stroke="#1c1c1c" stroke-width="0.3">3-deoxy-</text>
<text x="1553.5" y="206.2" font-size="15.5" text-anchor="start" fill="#1c1c1c" stroke="#1c1c1c" stroke-width="0.3">gluconate-6P</text>
<text x="1102.5" y="237.4" font-size="15.5" text-anchor="middle" fill="#1c1c1c" stroke="#1c1c1c" stroke-width="0.3">arabino-3-Hexulose-6P</text>
<text x="1359.4" y="233.9" font-size="15.5" text-anchor="start" fill="#1c1c1c" stroke="#1c1c1c" stroke-width="0.3">CO<tspan font-size="11" dy="2.5">2</tspan><tspan dy="-2.5"></tspan></text>
<text x="1241.9" y="235.7" font-size="15.5" text-anchor="middle" fill="#1c1c1c" stroke="#1c1c1c" stroke-width="0.3">HCHO</text>
<text x="905.8" y="310" font-size="15.5" text-anchor="start" fill="#1c1c1c" stroke="#1c1c1c" stroke-width="0.3">Fructose-6P</text>
<text x="1222.4" y="303.8" font-size="15.5" text-anchor="middle" fill="#1c1c1c" stroke="#1c1c1c" stroke-width="0.3">Xylulose-5P</text>
<text x="1339.5" y="330.8" font-size="15.5" text-anchor="start" fill="#1c1c1c" stroke="#1c1c1c" stroke-width="0.3">Ribulose-5P</text>
<text x="1004.8" y="381" font-size="15.5" text-anchor="start" fill="#1c1c1c" stroke="#1c1c1c" stroke-width="0.3">Erythrose-4P</text>
<text x="1122" y="394.6" font-size="15.5" text-anchor="start" fill="#1c1c1c" stroke="#1c1c1c" stroke-width="0.3">Sedohept-</text>
<text x="1122" y="408.5" font-size="15.5" text-anchor="start" fill="#1c1c1c" stroke="#1c1c1c" stroke-width="0.3">ulose-1,7P<tspan font-size="11" dy="2.5">2</tspan><tspan dy="-2.5"></tspan></text>
<text x="815.3" y="451.4" font-size="15.5" text-anchor="start" fill="#1c1c1c" stroke="#1c1c1c" stroke-width="0.3">Fructose-</text>
<text x="815.3" y="465" font-size="15.5" text-anchor="start" fill="#1c1c1c" stroke="#1c1c1c" stroke-width="0.3">1,6P<tspan font-size="11" dy="2.5">2</tspan><tspan dy="-2.5"></tspan></text>
<text x="1407.3" y="455" font-size="15.5" text-anchor="start" fill="#1c1c1c" stroke="#1c1c1c" stroke-width="0.3">PRPP</text>
<text x="1277.4" y="483" font-size="15.5" text-anchor="middle" fill="#1c1c1c" stroke="#1c1c1c" stroke-width="0.3">Ribose-5P</text>
<text x="1059.8" y="520.5" font-size="15.5" text-anchor="start" fill="#1c1c1c" stroke="#1c1c1c" stroke-width="0.3">Sedoheptulose-7P</text>
<text x="992.3" y="579.1" font-size="15.5" text-anchor="middle" fill="#1c1c1c" stroke="#1c1c1c" stroke-width="0.3">Glycerone-P</text>
<text x="1121.2" y="579.1" font-size="15.5" text-anchor="middle" fill="#1c1c1c" stroke="#1c1c1c" stroke-width="0.3">Glycerone</text>
<text x="1195" y="589.7" font-size="15.5" text-anchor="middle" fill="#1c1c1c" stroke="#1c1c1c" stroke-width="0.3">HCHO</text>
<text x="905.8" y="638" font-size="15.5" text-anchor="start" fill="#1c1c1c" stroke="#1c1c1c" stroke-width="0.3">Glyceraldehyde-3P</text>
<text x="905.8" y="696.6" font-size="15.5" text-anchor="start" fill="#1c1c1c" stroke="#1c1c1c" stroke-width="0.3">Glycerate-1,3P<tspan font-size="11" dy="2.5">2</tspan><tspan dy="-2.5"></tspan></text>
<text x="905.8" y="765.4" font-size="15.5" text-anchor="start" fill="#1c1c1c" stroke="#1c1c1c" stroke-width="0.3">Glycerate-3P</text>
<text x="905.8" y="878.3" font-size="15.5" text-anchor="start" fill="#1c1c1c" stroke="#1c1c1c" stroke-width="0.3">Glycerate-2P</text>
<text x="613" y="729.9" font-size="15.5" text-anchor="start" fill="#1c1c1c" stroke="#1c1c1c" stroke-width="0.3">Glycine</text>
<text x="686.5" y="744.1" font-size="15.5" text-anchor="start" fill="#1c1c1c" stroke="#1c1c1c" stroke-width="0.3">Phosphono-</text>
<text x="686.5" y="758.3" font-size="15.5" text-anchor="start" fill="#1c1c1c" stroke="#1c1c1c" stroke-width="0.3">oxypyruvate</text>
<text x="646.4" y="815.4" font-size="15.5" text-anchor="middle" fill="#1c1c1c" stroke="#1c1c1c" stroke-width="0.3">Phosphoserine</text>
<text x="724.4" y="857.7" font-size="15.5" text-anchor="middle" fill="#1c1c1c" stroke="#1c1c1c" stroke-width="0.3">Glycerate</text>
<text x="668" y="906.6" font-size="15.5" text-anchor="middle" fill="#1c1c1c" stroke="#1c1c1c" stroke-width="0.3">Hydroxypyruvate</text>
<text x="1122.9" y="848.8" font-size="15.5" text-anchor="start" fill="#1c1c1c" stroke="#1c1c1c" stroke-width="0.3">Phosphoglycolate</text>
<text x="1122.9" y="938.6" font-size="15.5" text-anchor="start" fill="#1c1c1c" stroke="#1c1c1c" stroke-width="0.3">Glycolate</text>
<text x="1250.8" y="749.8" font-size="15.5" text-anchor="middle" fill="#1c1c1c" stroke="#1c1c1c" stroke-width="0.3">CO<tspan font-size="11" dy="2.5">2</tspan><tspan dy="-2.5"></tspan></text>
<text x="1250.8" y="821.5" font-size="15.5" text-anchor="middle" fill="#1c1c1c" stroke="#1c1c1c" stroke-width="0.3">O<tspan font-size="11" dy="2.5">2</tspan><tspan dy="-2.5"></tspan></text>
<text x="1339.5" y="787.8" font-size="15.5" text-anchor="start" fill="#1c1c1c" stroke="#1c1c1c" stroke-width="0.3">Ribulose-1,5P<tspan font-size="11" dy="2.5">2</tspan><tspan dy="-2.5"></tspan></text>
<text x="1286.6" y="994.6" font-size="15.5" text-anchor="middle" fill="#1c1c1c" stroke="#1c1c1c" stroke-width="0.3">Glyceraldehyde</text>
<text x="684" y="978.3" font-size="15.5" text-anchor="middle" fill="#1c1c1c" stroke="#1c1c1c" stroke-width="0.3">CO<tspan font-size="11" dy="2.5">2</tspan><tspan dy="-2.5"></tspan></text>
<text x="684.7" y="1049.6" font-size="15.5" text-anchor="middle" fill="#1c1c1c" stroke="#1c1c1c" stroke-width="0.3">CO<tspan font-size="11" dy="2.5">2</tspan><tspan dy="-2.5"></tspan></text>
<text x="671.6" y="1143.6" font-size="15.5" text-anchor="start" fill="#1c1c1c" stroke="#1c1c1c" stroke-width="0.3">HCO<tspan font-size="11" dy="2.5">3</tspan><tspan dy="-2.5"></tspan>-</text>
<text x="528.7" y="1136.9" font-size="15.5" text-anchor="middle" fill="#1c1c1c" stroke="#1c1c1c" stroke-width="0.3">CO<tspan font-size="11" dy="2.5">2</tspan><tspan dy="-2.5"></tspan></text>
<text x="905.8" y="1016.2" font-size="15.5" text-anchor="start" fill="#1c1c1c" stroke="#1c1c1c" stroke-width="0.3">Phosphoenolpyruvate</text>
<text x="1016.5" y="1060.2" font-size="15.5" text-anchor="start" fill="#1c1c1c" stroke="#1c1c1c" stroke-width="0.3">Alanine</text>
<text x="905.8" y="1132.3" font-size="15.5" text-anchor="start" fill="#1c1c1c" stroke="#1c1c1c" stroke-width="0.3">Pyruvate</text>
<text x="914.3" y="1218.1" font-size="15.5" text-anchor="start" fill="#1c1c1c" stroke="#1c1c1c" stroke-width="0.3">Acetyl-CoA</text>
<text x="929.5" y="1282.4" font-size="15.5" text-anchor="start" fill="#1c1c1c" stroke="#1c1c1c" stroke-width="0.3">HCO<tspan font-size="11" dy="2.5">3</tspan><tspan dy="-2.5"></tspan>-</text>
<text x="905.8" y="1339.2" font-size="15.5" text-anchor="start" fill="#1c1c1c" stroke="#1c1c1c" stroke-width="0.3">Malonyl-CoA</text>
<text x="905.8" y="1415.4" font-size="15.5" text-anchor="start" fill="#1c1c1c" stroke="#1c1c1c" stroke-width="0.3">Malonate</text>
<text x="905.8" y="1429.3" font-size="15.5" text-anchor="start" fill="#1c1c1c" stroke="#1c1c1c" stroke-width="0.3">semialdehyde</text>
<text x="1218.5" y="1140.4" font-size="15.5" text-anchor="middle" fill="#1c1c1c" stroke="#1c1c1c" stroke-width="0.3">Acetyl phosphate</text>
<text x="1369" y="1140.4" font-size="15.5" text-anchor="middle" fill="#1c1c1c" stroke="#1c1c1c" stroke-width="0.3">Acetate</text>
<text x="331.8" y="1291.2" font-size="15.5" text-anchor="end" fill="#1c1c1c" stroke="#1c1c1c" stroke-width="0.3">Malyl-CoA</text>
<text x="374.4" y="1404.4" font-size="15.5" text-anchor="middle" fill="#1c1c1c" stroke="#1c1c1c" stroke-width="0.3">Malate</text>
<text x="517.7" y="1361.9" font-size="15.5" text-anchor="middle" fill="#1c1c1c" stroke="#1c1c1c" stroke-width="0.3">Oxaloacetate</text>
<text x="395" y="1474.5" font-size="15.5" text-anchor="end" fill="#1c1c1c" stroke="#1c1c1c" stroke-width="0.3">Fumarate</text>
<text x="569.6" y="1500.1" font-size="15.5" text-anchor="middle" fill="#1c1c1c" stroke="#1c1c1c" stroke-width="0.3">Aspartate</text>
<text x="392.1" y="1566.5" font-size="15.5" text-anchor="end" fill="#1c1c1c" stroke="#1c1c1c" stroke-width="0.3">Succinate</text>
<text x="520.9" y="1601.2" font-size="15.5" text-anchor="middle" fill="#1c1c1c" stroke="#1c1c1c" stroke-width="0.3">Succinyl-CoA</text>
<text x="756.4" y="1384.2" font-size="15.5" text-anchor="start" fill="#1c1c1c" stroke="#1c1c1c" stroke-width="0.3">Citrate</text>
<text x="654.5" y="1459.7" font-size="15.5" text-anchor="middle" fill="#1c1c1c" stroke="#1c1c1c" stroke-width="0.3">Citryl-CoA</text>
<text x="756.4" y="1507.9" font-size="15.5" text-anchor="start" fill="#1c1c1c" stroke="#1c1c1c" stroke-width="0.3">Isocitrate</text>
<text x="905.8" y="1500.1" font-size="15.5" text-anchor="start" fill="#1c1c1c" stroke="#1c1c1c" stroke-width="0.3">3-Hydroxy-</text>
<text x="905.8" y="1513.2" font-size="15.5" text-anchor="start" fill="#1c1c1c" stroke="#1c1c1c" stroke-width="0.3">propanoate</text>
<text x="905.8" y="1581.4" font-size="15.5" text-anchor="start" fill="#1c1c1c" stroke="#1c1c1c" stroke-width="0.3">3-Hydroxy-</text>
<text x="905.8" y="1595.6" font-size="15.5" text-anchor="start" fill="#1c1c1c" stroke="#1c1c1c" stroke-width="0.3">propionyl-CoA</text>
<text x="1053" y="1513.2" font-size="15.5" text-anchor="middle" fill="#1c1c1c" stroke="#1c1c1c" stroke-width="0.3">Mesaconate</text>
<text x="1068" y="1659.4" font-size="15.5" text-anchor="middle" fill="#1c1c1c" stroke="#1c1c1c" stroke-width="0.3">Methylaspartate</text>
<text x="826.6" y="1603" font-size="15.5" text-anchor="middle" fill="#1c1c1c" stroke="#1c1c1c" stroke-width="0.3">Glutamate</text>
<text x="730" y="1659.4" font-size="15.5" text-anchor="middle" fill="#1c1c1c" stroke="#1c1c1c" stroke-width="0.3">2-Oxoglutarate</text>
<text x="683" y="1585" font-size="15.5" text-anchor="middle" fill="#1c1c1c" stroke="#1c1c1c" stroke-width="0.3">CO<tspan font-size="11" dy="2.5">2</tspan><tspan dy="-2.5"></tspan></text>
<text x="905.8" y="1676.5" font-size="15.5" text-anchor="start" fill="#1c1c1c" stroke="#1c1c1c" stroke-width="0.3">Acryloyl-CoA</text>
<text x="843.3" y="1784.7" font-size="15.5" text-anchor="start" fill="#1c1c1c" stroke="#1c1c1c" stroke-width="0.3">Propanoyl-CoA</text>
<text x="684" y="1714.8" font-size="15.5" text-anchor="start" fill="#1c1c1c" stroke="#1c1c1c" stroke-width="0.3">(S)-Methyl-</text>
<text x="684" y="1728.6" font-size="15.5" text-anchor="start" fill="#1c1c1c" stroke="#1c1c1c" stroke-width="0.3">malonyl-CoA</text>
<text x="574.9" y="1714.8" font-size="15.5" text-anchor="start" fill="#1c1c1c" stroke="#1c1c1c" stroke-width="0.3">(R)-Methyl-</text>
<text x="574.9" y="1728.6" font-size="15.5" text-anchor="start" fill="#1c1c1c" stroke="#1c1c1c" stroke-width="0.3">malonyl-CoA</text>
<text x="815" y="1726" font-size="15.5" text-anchor="start" fill="#1c1c1c" stroke="#1c1c1c" stroke-width="0.3">HCO<tspan font-size="11" dy="2.5">3</tspan><tspan dy="-2.5"></tspan>-</text>
<text x="673.5" y="1835.4" font-size="15.5" text-anchor="middle" fill="#1c1c1c" stroke="#1c1c1c" stroke-width="0.3">Succinate semialdehyde</text>
<text x="1167.3" y="1356.9" font-size="15.5" text-anchor="start" fill="#1c1c1c" stroke="#1c1c1c" stroke-width="0.3">Citramalyl-CoA</text>
<text x="1167.3" y="1448.3" font-size="15.5" text-anchor="start" fill="#1c1c1c" stroke="#1c1c1c" stroke-width="0.3">3-Methylfumaryl-CoA</text>
<text x="1160.2" y="1507.9" font-size="15.5" text-anchor="start" fill="#1c1c1c" stroke="#1c1c1c" stroke-width="0.3">Mesaconyl-</text>
<text x="1160.2" y="1521.4" font-size="15.5" text-anchor="start" fill="#1c1c1c" stroke="#1c1c1c" stroke-width="0.3">CoA</text>
<text x="1165.5" y="1632.1" font-size="15.5" text-anchor="start" fill="#1c1c1c" stroke="#1c1c1c" stroke-width="0.3">β-Methylmalyl-CoA</text>
<text x="1203.9" y="1569" font-size="15.5" text-anchor="start" fill="#1c1c1c" stroke="#1c1c1c" stroke-width="0.3">(2S)-Methyl-</text>
<text x="1203.9" y="1582.4" font-size="15.5" text-anchor="start" fill="#1c1c1c" stroke="#1c1c1c" stroke-width="0.3">succinyl-CoA</text>
<text x="1305.8" y="1569" font-size="15.5" text-anchor="start" fill="#1c1c1c" stroke="#1c1c1c" stroke-width="0.3">(2R)-Ethyl-</text>
<text x="1305.8" y="1582.4" font-size="15.5" text-anchor="start" fill="#1c1c1c" stroke="#1c1c1c" stroke-width="0.3">malonyl-CoA</text>
<text x="1405.1" y="1569" font-size="15.5" text-anchor="start" fill="#1c1c1c" stroke="#1c1c1c" stroke-width="0.3">(2S)-Ethyl-</text>
<text x="1405.1" y="1582.4" font-size="15.5" text-anchor="start" fill="#1c1c1c" stroke="#1c1c1c" stroke-width="0.3">malonyl-CoA</text>
<text x="1512" y="1570" font-size="15.5" text-anchor="middle" fill="#1c1c1c" stroke="#1c1c1c" stroke-width="0.3">CO<tspan font-size="11" dy="2.5">2</tspan><tspan dy="-2.5"></tspan></text>
<text x="1565.9" y="1519.6" font-size="15.5" text-anchor="start" fill="#1c1c1c" stroke="#1c1c1c" stroke-width="0.3">Crotonoyl-CoA</text>
<text x="1717.4" y="1570" font-size="15.5" text-anchor="middle" fill="#1c1c1c" stroke="#1c1c1c" stroke-width="0.3">Butanoyl-CoA</text>
<text x="1567" y="1356.9" font-size="15.5" text-anchor="start" fill="#1c1c1c" stroke="#1c1c1c" stroke-width="0.3">Acetoacetyl-CoA</text>
<text x="1354.8" y="1439.2" font-size="15.5" text-anchor="start" fill="#1c1c1c" stroke="#1c1c1c" stroke-width="0.3">(R)-3-Hydroxy-</text>
<text x="1354.8" y="1453.4" font-size="15.5" text-anchor="start" fill="#1c1c1c" stroke="#1c1c1c" stroke-width="0.3">butanoyl-CoA</text>
<text x="1567" y="1448.3" font-size="15.5" text-anchor="start" fill="#1c1c1c" stroke="#1c1c1c" stroke-width="0.3">(S)-3-Hydroxybutanoyl-CoA</text>
<text x="1567" y="1631" font-size="15.5" text-anchor="start" fill="#1c1c1c" stroke="#1c1c1c" stroke-width="0.3">4-Hydroxybutanoyl-CoA</text>
<text x="1567" y="1808.5" font-size="15.5" text-anchor="start" fill="#1c1c1c" stroke="#1c1c1c" stroke-width="0.3">4-Hydroxybutanoate</text>
<path d="M480.3,59.2A43.4,43.4 0 0 1 508.8,135.4L500.7,126.1A31.1,31.1 0 0 0 480.3,71.5Z" fill="#FFC000" stroke="#fff" stroke-width="1.8" stroke-linejoin="round"/><path d="M508.8,135.4A43.4,43.4 0 0 1 439,116L450.7,112.2A31.1,31.1 0 0 0 500.7,126.1Z" fill="#4F6228" stroke="#fff" stroke-width="1.8" stroke-linejoin="round"/><path d="M439,116A43.4,43.4 0 0 1 480.3,59.2L480.3,71.5A31.1,31.1 0 0 0 450.7,112.2Z" fill="#974806" stroke="#fff" stroke-width="1.8" stroke-linejoin="round"/><path d="M480.3,71.5A31.1,31.1 0 0 1 497.2,128.7L490.5,118.3A18.7,18.7 0 0 0 480.3,83.9Z" fill="#FFC000" stroke="#fff" stroke-width="1.8" stroke-linejoin="round"/><path d="M497.2,128.7A31.1,31.1 0 0 1 449.3,104.8L461.7,103.9A18.7,18.7 0 0 0 490.5,118.3Z" fill="#4F6228" stroke="#fff" stroke-width="1.8" stroke-linejoin="round"/><path d="M449.3,104.8A31.1,31.1 0 0 1 480.3,71.5L480.3,83.9A18.7,18.7 0 0 0 461.7,103.9Z" fill="#974806" stroke="#fff" stroke-width="1.8" stroke-linejoin="round"/><path d="M480.3,83.9A18.7,18.7 0 0 1 487,120L482.6,108.5A6.4,6.4 0 0 0 480.3,96.2Z" fill="#FFC000" stroke="#fff" stroke-width="1.8" stroke-linejoin="round"/><path d="M487,120A18.7,18.7 0 0 1 461.8,105.5L474,103.6A6.4,6.4 0 0 0 482.6,108.5Z" fill="#4F6228" stroke="#fff" stroke-width="1.8" stroke-linejoin="round"/><path d="M461.8,105.5A18.7,18.7 0 0 1 480.3,83.9L480.3,96.2A6.4,6.4 0 0 0 474,103.6Z" fill="#974806" stroke="#fff" stroke-width="1.8" stroke-linejoin="round"/>
<path d="M638.2,189.6A43,43 0 1 1 601.7,255.4L612.1,248.9A30.8,30.8 0 1 0 638.2,201.8Z" fill="#FFC000" stroke="#fff" stroke-width="1.8" stroke-linejoin="round"/><path d="M601.7,255.4A43,43 0 0 1 596,224.4L608,226.7A30.8,30.8 0 0 0 612.1,248.9Z" fill="#4F6228" stroke="#fff" stroke-width="1.8" stroke-linejoin="round"/><path d="M596,224.4A43,43 0 0 1 638.2,189.6L638.2,201.8A30.8,30.8 0 0 0 608,226.7Z" fill="#974806" stroke="#fff" stroke-width="1.8" stroke-linejoin="round"/><path d="M638.2,201.8A30.8,30.8 0 0 1 655,258.4L648.3,248.1A18.5,18.5 0 0 0 638.2,214.1Z" fill="#FFC000" stroke="#fff" stroke-width="1.8" stroke-linejoin="round"/><path d="M655,258.4A30.8,30.8 0 0 1 608.3,240.1L620.2,237.1A18.5,18.5 0 0 0 648.3,248.1Z" fill="#4F6228" stroke="#fff" stroke-width="1.8" stroke-linejoin="round"/><path d="M608.3,240.1A30.8,30.8 0 0 1 638.2,201.8L638.2,214.1A18.5,18.5 0 0 0 620.2,237.1Z" fill="#974806" stroke="#fff" stroke-width="1.8" stroke-linejoin="round"/><path d="M638.2,214.1A18.5,18.5 0 0 1 644.5,250L640.4,238.5A6.3,6.3 0 0 0 638.2,226.3Z" fill="#FFC000" stroke="#fff" stroke-width="1.8" stroke-linejoin="round"/><path d="M644.5,250A18.5,18.5 0 0 1 620.3,237.4L632.1,234.2A6.3,6.3 0 0 0 640.4,238.5Z" fill="#4F6228" stroke="#fff" stroke-width="1.8" stroke-linejoin="round"/><path d="M620.3,237.4A18.5,18.5 0 0 1 638.2,214.1L638.2,226.3A6.3,6.3 0 0 0 632.1,234.2Z" fill="#974806" stroke="#fff" stroke-width="1.8" stroke-linejoin="round"/>
<path d="M512.8,230.1A43,43 0 0 1 536.8,308.7L530,298.6A30.8,30.8 0 0 0 512.8,242.3Z" fill="#FFC000" stroke="#fff" stroke-width="1.8" stroke-linejoin="round"/><path d="M536.8,308.7A43,43 0 0 1 470.6,281.3L482.6,279A30.8,30.8 0 0 0 530,298.6Z" fill="#4F6228" stroke="#fff" stroke-width="1.8" stroke-linejoin="round"/><path d="M470.6,281.3A43,43 0 0 1 512.8,230.1L512.8,242.3A30.8,30.8 0 0 0 482.6,279Z" fill="#974806" stroke="#fff" stroke-width="1.8" stroke-linejoin="round"/><path d="M512.8,242.3A30.8,30.8 0 0 1 540.5,286.6L529.4,281.2A18.5,18.5 0 0 0 512.8,254.6Z" fill="#FFC000" stroke="#fff" stroke-width="1.8" stroke-linejoin="round"/><path d="M540.5,286.6A30.8,30.8 0 0 1 482.5,278.4L494.6,276.3A18.5,18.5 0 0 0 529.4,281.2Z" fill="#4F6228" stroke="#fff" stroke-width="1.8" stroke-linejoin="round"/><path d="M482.5,278.4A30.8,30.8 0 0 1 512.8,242.3L512.8,254.6A18.5,18.5 0 0 0 494.6,276.3Z" fill="#974806" stroke="#fff" stroke-width="1.8" stroke-linejoin="round"/><path d="M512.8,254.6A18.5,18.5 0 0 1 529.4,281.2L518.5,275.9A6.3,6.3 0 0 0 512.8,266.8Z" fill="#FFC000" stroke="#fff" stroke-width="1.8" stroke-linejoin="round"/><path d="M529.4,281.2A18.5,18.5 0 0 1 495.2,278.8L506.8,275A6.3,6.3 0 0 0 518.5,275.9Z" fill="#4F6228" stroke="#fff" stroke-width="1.8" stroke-linejoin="round"/><path d="M495.2,278.8A18.5,18.5 0 0 1 512.8,254.6L512.8,266.8A6.3,6.3 0 0 0 506.8,275Z" fill="#974806" stroke="#fff" stroke-width="1.8" stroke-linejoin="round"/>
<path d="M605.5,308.6A43,43 0 0 1 623.7,390.6L618.5,379.5A30.8,30.8 0 0 0 605.5,320.8Z" fill="#FFC000" stroke="#fff" stroke-width="1.8" stroke-linejoin="round"/><path d="M623.7,390.6A43,43 0 0 1 563.4,360.5L575.4,358A30.8,30.8 0 0 0 618.5,379.5Z" fill="#4F6228" stroke="#fff" stroke-width="1.8" stroke-linejoin="round"/><path d="M563.4,360.5A43,43 0 0 1 605.5,308.6L605.5,320.8A30.8,30.8 0 0 0 575.4,358Z" fill="#974806" stroke="#fff" stroke-width="1.8" stroke-linejoin="round"/><path d="M605.5,320.8A30.8,30.8 0 0 1 618.5,379.5L613.3,368.4A18.5,18.5 0 0 0 605.5,333.1Z" fill="#FFC000" stroke="#fff" stroke-width="1.8" stroke-linejoin="round"/><path d="M618.5,379.5A30.8,30.8 0 0 1 574.8,354.3L587.1,353.2A18.5,18.5 0 0 0 613.3,368.4Z" fill="#4F6228" stroke="#fff" stroke-width="1.8" stroke-linejoin="round"/><path d="M574.8,354.3A30.8,30.8 0 0 1 605.5,320.8L605.5,333.1A18.5,18.5 0 0 0 587.1,353.2Z" fill="#974806" stroke="#fff" stroke-width="1.8" stroke-linejoin="round"/><path d="M605.5,333.1A18.5,18.5 0 0 1 615.3,367.3L608.8,356.9A6.3,6.3 0 0 0 605.5,345.3Z" fill="#FFC000" stroke="#fff" stroke-width="1.8" stroke-linejoin="round"/><path d="M615.3,367.3A18.5,18.5 0 0 1 588.3,358.5L599.7,354A6.3,6.3 0 0 0 608.8,356.9Z" fill="#4F6228" stroke="#fff" stroke-width="1.8" stroke-linejoin="round"/><path d="M588.3,358.5A18.5,18.5 0 0 1 605.5,333.1L605.5,345.3A6.3,6.3 0 0 0 599.7,354Z" fill="#974806" stroke="#fff" stroke-width="1.8" stroke-linejoin="round"/>
<path d="M781.7,275.5A43,43 0 0 1 816.9,343.2L806.9,336.2A30.8,30.8 0 0 0 781.7,287.7Z" fill="#FFC000" stroke="#fff" stroke-width="1.8" stroke-linejoin="round"/><path d="M816.9,343.2A43,43 0 0 1 749.7,347.3L758.8,339.1A30.8,30.8 0 0 0 806.9,336.2Z" fill="#4F6228" stroke="#fff" stroke-width="1.8" stroke-linejoin="round"/><path d="M749.7,347.3A43,43 0 0 1 781.7,275.5L781.7,287.7A30.8,30.8 0 0 0 758.8,339.1Z" fill="#974806" stroke="#fff" stroke-width="1.8" stroke-linejoin="round"/><path d="M781.7,287.7A30.8,30.8 0 0 1 811.2,309.5L799.4,313.1A18.5,18.5 0 0 0 781.7,300Z" fill="#FFC000" stroke="#fff" stroke-width="1.8" stroke-linejoin="round"/><path d="M811.2,309.5A30.8,30.8 0 0 1 769.7,346.9L774.5,335.5A18.5,18.5 0 0 0 799.4,313.1Z" fill="#4F6228" stroke="#fff" stroke-width="1.8" stroke-linejoin="round"/><path d="M769.7,346.9A30.8,30.8 0 0 1 781.7,287.7L781.7,300A18.5,18.5 0 0 0 774.5,335.5Z" fill="#974806" stroke="#fff" stroke-width="1.8" stroke-linejoin="round"/><path d="M781.7,300A18.5,18.5 0 0 1 799.3,312.8L787.7,316.6A6.3,6.3 0 0 0 781.7,312.2Z" fill="#FFC000" stroke="#fff" stroke-width="1.8" stroke-linejoin="round"/><path d="M799.3,312.8A18.5,18.5 0 0 1 781.7,337L781.7,324.8A6.3,6.3 0 0 0 787.7,316.6Z" fill="#4F6228" stroke="#fff" stroke-width="1.8" stroke-linejoin="round"/><path d="M781.7,337A18.5,18.5 0 0 1 781.7,300L781.7,312.2A6.3,6.3 0 0 0 781.7,324.8Z" fill="#974806" stroke="#fff" stroke-width="1.8" stroke-linejoin="round"/>
<path d="M840.3,95A43,43 0 0 1 862.4,174.9L856.2,164.4A30.8,30.8 0 0 0 840.3,107.2Z" fill="#FFC000" stroke="#fff" stroke-width="1.8" stroke-linejoin="round"/><path d="M862.4,174.9A43,43 0 0 1 813.2,171.4L820.9,161.9A30.8,30.8 0 0 0 856.2,164.4Z" fill="#4F6228" stroke="#fff" stroke-width="1.8" stroke-linejoin="round"/><path d="M813.2,171.4A43,43 0 0 1 840.3,95L840.3,107.2A30.8,30.8 0 0 0 820.9,161.9Z" fill="#974806" stroke="#fff" stroke-width="1.8" stroke-linejoin="round"/><path d="M840.3,107.2A30.8,30.8 0 0 1 868.2,151L857.1,145.8A18.5,18.5 0 0 0 840.3,119.5Z" fill="#FFC000" stroke="#fff" stroke-width="1.8" stroke-linejoin="round"/><path d="M868.2,151A30.8,30.8 0 0 1 809.5,136.9L821.8,137.4A18.5,18.5 0 0 0 857.1,145.8Z" fill="#4F6228" stroke="#fff" stroke-width="1.8" stroke-linejoin="round"/><path d="M809.5,136.9A30.8,30.8 0 0 1 840.3,107.2L840.3,119.5A18.5,18.5 0 0 0 821.8,137.4Z" fill="#974806" stroke="#fff" stroke-width="1.8" stroke-linejoin="round"/><path d="M840.3,119.5A18.5,18.5 0 1 1 822.1,134.8L834.1,136.9A6.3,6.3 0 1 0 840.3,131.7Z" fill="#FFC000" stroke="#fff" stroke-width="1.8" stroke-linejoin="round"/><path d="M822.1,134.8A18.5,18.5 0 0 1 831,122L837.1,132.5A6.3,6.3 0 0 0 834.1,136.9Z" fill="#4F6228" stroke="#fff" stroke-width="1.8" stroke-linejoin="round"/><path d="M831,122A18.5,18.5 0 0 1 840.3,119.5L840.3,131.7A6.3,6.3 0 0 0 837.1,132.5Z" fill="#974806" stroke="#fff" stroke-width="1.8" stroke-linejoin="round"/>
<path d="M840.3,200.2A43,43 0 0 1 866.2,277.5L858.8,267.8A30.8,30.8 0 0 0 840.3,212.4Z" fill="#FFC000" stroke="#fff" stroke-width="1.8" stroke-linejoin="round"/><path d="M866.2,277.5A43,43 0 0 1 798,250.7L810,248.5A30.8,30.8 0 0 0 858.8,267.8Z" fill="#4F6228" stroke="#fff" stroke-width="1.8" stroke-linejoin="round"/><path d="M798,250.7A43,43 0 0 1 840.3,200.2L840.3,212.4A30.8,30.8 0 0 0 810,248.5Z" fill="#974806" stroke="#fff" stroke-width="1.8" stroke-linejoin="round"/><path d="M840.3,212.4A30.8,30.8 0 0 1 870.2,250.7L858.3,247.7A18.5,18.5 0 0 0 840.3,224.7Z" fill="#FFC000" stroke="#fff" stroke-width="1.8" stroke-linejoin="round"/><path d="M870.2,250.7A30.8,30.8 0 0 1 815.7,261.7L825.5,254.3A18.5,18.5 0 0 0 858.3,247.7Z" fill="#4F6228" stroke="#fff" stroke-width="1.8" stroke-linejoin="round"/><path d="M815.7,261.7A30.8,30.8 0 0 1 840.3,212.4L840.3,224.7A18.5,18.5 0 0 0 825.5,254.3Z" fill="#974806" stroke="#fff" stroke-width="1.8" stroke-linejoin="round"/><path d="M840.3,224.7A18.5,18.5 0 0 1 854,255.6L845,247.4A6.3,6.3 0 0 0 840.3,236.9Z" fill="#FFC000" stroke="#fff" stroke-width="1.8" stroke-linejoin="round"/><path d="M854,255.6A18.5,18.5 0 0 1 823,249.8L834.4,245.5A6.3,6.3 0 0 0 845,247.4Z" fill="#4F6228" stroke="#fff" stroke-width="1.8" stroke-linejoin="round"/><path d="M823,249.8A18.5,18.5 0 0 1 840.3,224.7L840.3,236.9A6.3,6.3 0 0 0 834.4,245.5Z" fill="#974806" stroke="#fff" stroke-width="1.8" stroke-linejoin="round"/>
<path d="M1488.7,100.7A41.3,41.3 0 0 1 1519.9,169.1L1511,161.4A29.6,29.6 0 0 0 1488.7,112.4Z" fill="#FFC000" stroke="#fff" stroke-width="1.8" stroke-linejoin="round"/><path d="M1519.9,169.1A41.3,41.3 0 0 1 1449.7,155.4L1460.7,151.6A29.6,29.6 0 0 0 1511,161.4Z" fill="#4F6228" stroke="#fff" stroke-width="1.8" stroke-linejoin="round"/><path d="M1449.7,155.4A41.3,41.3 0 0 1 1488.7,100.7L1488.7,112.4A29.6,29.6 0 0 0 1460.7,151.6Z" fill="#974806" stroke="#fff" stroke-width="1.8" stroke-linejoin="round"/><path d="M1488.7,112.4A29.6,29.6 0 0 1 1517.7,136.4L1506.1,138.6A17.8,17.8 0 0 0 1488.7,124.2Z" fill="#FFC000" stroke="#fff" stroke-width="1.8" stroke-linejoin="round"/><path d="M1517.7,136.4A29.6,29.6 0 0 1 1466.7,161.8L1475.5,153.9A17.8,17.8 0 0 0 1506.1,138.6Z" fill="#4F6228" stroke="#fff" stroke-width="1.8" stroke-linejoin="round"/><path d="M1466.7,161.8A29.6,29.6 0 0 1 1488.7,112.4L1488.7,124.2A17.8,17.8 0 0 0 1475.5,153.9Z" fill="#974806" stroke="#fff" stroke-width="1.8" stroke-linejoin="round"/><path d="M1488.7,124.2A17.8,17.8 0 0 1 1506.1,138.3L1494.6,140.7A6,6 0 0 0 1488.7,136Z" fill="#FFC000" stroke="#fff" stroke-width="1.8" stroke-linejoin="round"/><path d="M1506.1,138.3A17.8,17.8 0 0 1 1477.5,155.8L1484.9,146.7A6,6 0 0 0 1494.6,140.7Z" fill="#4F6228" stroke="#fff" stroke-width="1.8" stroke-linejoin="round"/><path d="M1477.5,155.8A17.8,17.8 0 0 1 1488.7,124.2L1488.7,136A6,6 0 0 0 1484.9,146.7Z" fill="#974806" stroke="#fff" stroke-width="1.8" stroke-linejoin="round"/>
<path d="M1027.2,280.6A43,43 0 0 1 1061.5,349.5L1051.8,342.1A30.8,30.8 0 0 0 1027.2,292.8Z" fill="#FFC000" stroke="#fff" stroke-width="1.8" stroke-linejoin="round"/><path d="M1061.5,349.5A43,43 0 0 1 988.2,341.8L999.3,336.6A30.8,30.8 0 0 0 1051.8,342.1Z" fill="#4F6228" stroke="#fff" stroke-width="1.8" stroke-linejoin="round"/><path d="M988.2,341.8A43,43 0 0 1 1027.2,280.6L1027.2,292.8A30.8,30.8 0 0 0 999.3,336.6Z" fill="#974806" stroke="#fff" stroke-width="1.8" stroke-linejoin="round"/><path d="M1027.2,292.8A30.8,30.8 0 0 1 1058,322.5L1045.7,323A18.5,18.5 0 0 0 1027.2,305.1Z" fill="#FFC000" stroke="#fff" stroke-width="1.8" stroke-linejoin="round"/><path d="M1058,322.5A30.8,30.8 0 0 1 1005.4,345.4L1014.1,336.7A18.5,18.5 0 0 0 1045.7,323Z" fill="#4F6228" stroke="#fff" stroke-width="1.8" stroke-linejoin="round"/><path d="M1005.4,345.4A30.8,30.8 0 0 1 1027.2,292.8L1027.2,305.1A18.5,18.5 0 0 0 1014.1,336.7Z" fill="#974806" stroke="#fff" stroke-width="1.8" stroke-linejoin="round"/><path d="M1027.2,305.1A18.5,18.5 0 0 1 1045.4,326.8L1033.4,324.7A6.3,6.3 0 0 0 1027.2,317.3Z" fill="#FFC000" stroke="#fff" stroke-width="1.8" stroke-linejoin="round"/><path d="M1045.4,326.8A18.5,18.5 0 0 1 1016.1,338.4L1023.4,328.6A6.3,6.3 0 0 0 1033.4,324.7Z" fill="#4F6228" stroke="#fff" stroke-width="1.8" stroke-linejoin="round"/><path d="M1016.1,338.4A18.5,18.5 0 0 1 1027.2,305.1L1027.2,317.3A6.3,6.3 0 0 0 1023.4,328.6Z" fill="#974806" stroke="#fff" stroke-width="1.8" stroke-linejoin="round"/>
<path d="M991.7,427.9A43,43 0 0 1 1020.5,502.9L1012.3,493.8A30.8,30.8 0 0 0 991.7,440.1Z" fill="#FFC000" stroke="#fff" stroke-width="1.8" stroke-linejoin="round"/><path d="M1020.5,502.9A43,43 0 0 1 960.8,500.8L969.5,492.3A30.8,30.8 0 0 0 1012.3,493.8Z" fill="#4F6228" stroke="#fff" stroke-width="1.8" stroke-linejoin="round"/><path d="M960.8,500.8A43,43 0 0 1 991.7,427.9L991.7,440.1A30.8,30.8 0 0 0 969.5,492.3Z" fill="#974806" stroke="#fff" stroke-width="1.8" stroke-linejoin="round"/><path d="M991.7,440.1A30.8,30.8 0 0 1 1011.1,447L1003.3,456.5A18.5,18.5 0 0 0 991.7,452.4Z" fill="#FFC000" stroke="#fff" stroke-width="1.8" stroke-linejoin="round"/><path d="M1011.1,447A30.8,30.8 0 0 1 1001.2,500.2L997.4,488.5A18.5,18.5 0 0 0 1003.3,456.5Z" fill="#4F6228" stroke="#fff" stroke-width="1.8" stroke-linejoin="round"/><path d="M1001.2,500.2A30.8,30.8 0 1 1 991.7,440.1L991.7,452.4A18.5,18.5 0 1 0 997.4,488.5Z" fill="#974806" stroke="#fff" stroke-width="1.8" stroke-linejoin="round"/><path d="M991.7,452.4A18.5,18.5 0 0 1 1007.9,461.9L997.2,467.8A6.3,6.3 0 0 0 991.7,464.6Z" fill="#FFC000" stroke="#fff" stroke-width="1.8" stroke-linejoin="round"/><path d="M1007.9,461.9A18.5,18.5 0 0 1 1006.9,481.5L996.9,474.5A6.3,6.3 0 0 0 997.2,467.8Z" fill="#4F6228" stroke="#fff" stroke-width="1.8" stroke-linejoin="round"/><path d="M1006.9,481.5A18.5,18.5 0 1 1 991.7,452.4L991.7,464.6A6.3,6.3 0 1 0 996.9,474.5Z" fill="#974806" stroke="#fff" stroke-width="1.8" stroke-linejoin="round"/>
<path d="M1435,336.8A43,43 0 0 1 1445.4,421.5L1442.5,409.7A30.8,30.8 0 0 0 1435,349Z" fill="#FFC000" stroke="#fff" stroke-width="1.8" stroke-linejoin="round"/><path d="M1445.4,421.5A43,43 0 0 1 1392.2,383.5L1404.3,382.5A30.8,30.8 0 0 0 1442.5,409.7Z" fill="#4F6228" stroke="#fff" stroke-width="1.8" stroke-linejoin="round"/><path d="M1392.2,383.5A43,43 0 0 1 1435,336.8L1435,349A30.8,30.8 0 0 0 1404.3,382.5Z" fill="#974806" stroke="#fff" stroke-width="1.8" stroke-linejoin="round"/><path d="M1435,349A30.8,30.8 0 0 1 1456.4,402L1447.9,393.1A18.5,18.5 0 0 0 1435,361.3Z" fill="#FFC000" stroke="#fff" stroke-width="1.8" stroke-linejoin="round"/><path d="M1456.4,402A30.8,30.8 0 0 1 1404.3,377.7L1416.5,378.5A18.5,18.5 0 0 0 1447.9,393.1Z" fill="#4F6228" stroke="#fff" stroke-width="1.8" stroke-linejoin="round"/><path d="M1404.3,377.7A30.8,30.8 0 0 1 1435,349L1435,361.3A18.5,18.5 0 0 0 1416.5,378.5Z" fill="#974806" stroke="#fff" stroke-width="1.8" stroke-linejoin="round"/><path d="M1435,361.3A18.5,18.5 0 0 1 1450.2,390.4L1440.2,383.4A6.3,6.3 0 0 0 1435,373.5Z" fill="#FFC000" stroke="#fff" stroke-width="1.8" stroke-linejoin="round"/><path d="M1450.2,390.4A18.5,18.5 0 0 1 1417.2,384.9L1428.9,381.5A6.3,6.3 0 0 0 1440.2,383.4Z" fill="#4F6228" stroke="#fff" stroke-width="1.8" stroke-linejoin="round"/><path d="M1417.2,384.9A18.5,18.5 0 0 1 1435,361.3L1435,373.5A6.3,6.3 0 0 0 1428.9,381.5Z" fill="#974806" stroke="#fff" stroke-width="1.8" stroke-linejoin="round"/>
<path d="M1429.4,485.1A43,43 0 1 1 1405.4,563.7L1412.2,553.6A30.8,30.8 0 1 0 1429.4,497.3Z" fill="#FFC000" stroke="#fff" stroke-width="1.8" stroke-linejoin="round"/><path d="M1405.4,563.7A43,43 0 0 1 1387.1,520.6L1399.1,522.8A30.8,30.8 0 0 0 1412.2,553.6Z" fill="#4F6228" stroke="#fff" stroke-width="1.8" stroke-linejoin="round"/><path d="M1387.1,520.6A43,43 0 0 1 1429.4,485.1L1429.4,497.3A30.8,30.8 0 0 0 1399.1,522.8Z" fill="#974806" stroke="#fff" stroke-width="1.8" stroke-linejoin="round"/><path d="M1429.4,497.3A30.8,30.8 0 0 1 1455.2,511.3L1444.9,518A18.5,18.5 0 0 0 1429.4,509.6Z" fill="#FFC000" stroke="#fff" stroke-width="1.8" stroke-linejoin="round"/><path d="M1455.2,511.3A30.8,30.8 0 0 1 1426.7,558.8L1427.8,546.5A18.5,18.5 0 0 0 1444.9,518Z" fill="#4F6228" stroke="#fff" stroke-width="1.8" stroke-linejoin="round"/><path d="M1426.7,558.8A30.8,30.8 0 0 1 1429.4,497.3L1429.4,509.6A18.5,18.5 0 0 0 1427.8,546.5Z" fill="#974806" stroke="#fff" stroke-width="1.8" stroke-linejoin="round"/><path d="M1429.4,509.6A18.5,18.5 0 1 1 1411.1,525.5L1423.2,527.2A6.3,6.3 0 1 0 1429.4,521.8Z" fill="#FFC000" stroke="#fff" stroke-width="1.8" stroke-linejoin="round"/><path d="M1411.1,525.5A18.5,18.5 0 0 1 1418.5,513.1L1425.7,523A6.3,6.3 0 0 0 1423.2,527.2Z" fill="#4F6228" stroke="#fff" stroke-width="1.8" stroke-linejoin="round"/><path d="M1418.5,513.1A18.5,18.5 0 0 1 1429.4,509.6L1429.4,521.8A6.3,6.3 0 0 0 1425.7,523Z" fill="#974806" stroke="#fff" stroke-width="1.8" stroke-linejoin="round"/>
<path d="M859.2,490.5A43,43 0 0 1 885.7,567.4L878.2,557.8A30.8,30.8 0 0 0 859.2,502.7Z" fill="#FFC000" stroke="#fff" stroke-width="1.8" stroke-linejoin="round"/><path d="M885.7,567.4A43,43 0 0 1 817.5,543.9L829.3,541A30.8,30.8 0 0 0 878.2,557.8Z" fill="#4F6228" stroke="#fff" stroke-width="1.8" stroke-linejoin="round"/><path d="M817.5,543.9A43,43 0 0 1 859.2,490.5L859.2,502.7A30.8,30.8 0 0 0 829.3,541Z" fill="#974806" stroke="#fff" stroke-width="1.8" stroke-linejoin="round"/><path d="M859.2,502.7A30.8,30.8 0 0 1 882.1,554.1L872.9,545.9A18.5,18.5 0 0 0 859.2,515Z" fill="#FFC000" stroke="#fff" stroke-width="1.8" stroke-linejoin="round"/><path d="M882.1,554.1A30.8,30.8 0 0 1 829.7,542.5L841.5,538.9A18.5,18.5 0 0 0 872.9,545.9Z" fill="#4F6228" stroke="#fff" stroke-width="1.8" stroke-linejoin="round"/><path d="M829.7,542.5A30.8,30.8 0 0 1 859.2,502.7L859.2,515A18.5,18.5 0 0 0 841.5,538.9Z" fill="#974806" stroke="#fff" stroke-width="1.8" stroke-linejoin="round"/><path d="M859.2,515A18.5,18.5 0 0 1 874.4,544.1L864.4,537.1A6.3,6.3 0 0 0 859.2,527.2Z" fill="#FFC000" stroke="#fff" stroke-width="1.8" stroke-linejoin="round"/><path d="M874.4,544.1A18.5,18.5 0 0 1 842.3,541L853.4,536.1A6.3,6.3 0 0 0 864.4,537.1Z" fill="#4F6228" stroke="#fff" stroke-width="1.8" stroke-linejoin="round"/><path d="M842.3,541A18.5,18.5 0 0 1 859.2,515L859.2,527.2A6.3,6.3 0 0 0 853.4,536.1Z" fill="#974806" stroke="#fff" stroke-width="1.8" stroke-linejoin="round"/>
<path d="M744.1,523.2A43,43 0 0 1 757.4,607.1L753.6,595.5A30.8,30.8 0 0 0 744.1,535.4Z" fill="#4F6228" stroke="#fff" stroke-width="1.8" stroke-linejoin="round"/><path d="M757.4,607.1A43,43 0 1 1 744.1,523.2L744.1,535.4A30.8,30.8 0 1 0 753.6,595.5Z" fill="#974806" stroke="#fff" stroke-width="1.8" stroke-linejoin="round"/><circle cx="744.1" cy="566.2" r="24.6" fill="none" stroke="#4F6228" stroke-width="10.5"/><circle cx="744.1" cy="566.2" r="12.4" fill="none" stroke="#4F6228" stroke-width="10.4"/>
<circle cx="55" cy="608.2" r="36.9" fill="none" stroke="#FFC000" stroke-width="10.4"/><circle cx="55" cy="608.2" r="24.6" fill="none" stroke="#FFC000" stroke-width="10.5"/><circle cx="55" cy="608.2" r="12.4" fill="none" stroke="#FFC000" stroke-width="10.4"/>
<path d="M292,571.9A43,43 0 0 1 312.8,652.5L306.9,641.8A30.8,30.8 0 0 0 292,584.1Z" fill="#FFC000" stroke="#fff" stroke-width="1.8" stroke-linejoin="round"/><path d="M312.8,652.5A43,43 0 0 1 250.1,624.6L262,621.8A30.8,30.8 0 0 0 306.9,641.8Z" fill="#4F6228" stroke="#fff" stroke-width="1.8" stroke-linejoin="round"/><path d="M250.1,624.6A43,43 0 0 1 292,571.9L292,584.1A30.8,30.8 0 0 0 262,621.8Z" fill="#974806" stroke="#fff" stroke-width="1.8" stroke-linejoin="round"/><path d="M292,584.1A30.8,30.8 0 0 1 322.8,616.5L310.5,615.9A18.5,18.5 0 0 0 292,596.4Z" fill="#FFC000" stroke="#fff" stroke-width="1.8" stroke-linejoin="round"/><path d="M322.8,616.5A30.8,30.8 0 0 1 261.3,617L273.5,616.2A18.5,18.5 0 0 0 310.5,615.9Z" fill="#4F6228" stroke="#fff" stroke-width="1.8" stroke-linejoin="round"/><path d="M261.3,617A30.8,30.8 0 0 1 292,584.1L292,596.4A18.5,18.5 0 0 0 273.5,616.2Z" fill="#974806" stroke="#fff" stroke-width="1.8" stroke-linejoin="round"/><path d="M292,596.4A18.5,18.5 0 0 1 303.1,629.7L295.8,619.9A6.3,6.3 0 0 0 292,608.6Z" fill="#FFC000" stroke="#fff" stroke-width="1.8" stroke-linejoin="round"/><path d="M303.1,629.7A18.5,18.5 0 0 1 273.8,618.4L285.8,616.1A6.3,6.3 0 0 0 295.8,619.9Z" fill="#4F6228" stroke="#fff" stroke-width="1.8" stroke-linejoin="round"/><path d="M273.8,618.4A18.5,18.5 0 0 1 292,596.4L292,608.6A6.3,6.3 0 0 0 285.8,616.1Z" fill="#974806" stroke="#fff" stroke-width="1.8" stroke-linejoin="round"/>
<path d="M372.6,623.4A43,43 0 0 1 411.9,648.9L400.7,653.9A30.8,30.8 0 0 0 372.6,635.6Z" fill="#FFC000" stroke="#fff" stroke-width="1.8" stroke-linejoin="round"/><path d="M411.9,648.9A43,43 0 0 1 367.4,709.1L368.8,697A30.8,30.8 0 0 0 400.7,653.9Z" fill="#4F6228" stroke="#fff" stroke-width="1.8" stroke-linejoin="round"/><path d="M367.4,709.1A43,43 0 0 1 372.6,623.4L372.6,635.6A30.8,30.8 0 0 0 368.8,697Z" fill="#974806" stroke="#fff" stroke-width="1.8" stroke-linejoin="round"/><path d="M372.6,635.6A30.8,30.8 0 0 1 403,661.6L390.9,663.5A18.5,18.5 0 0 0 372.6,647.9Z" fill="#FFC000" stroke="#fff" stroke-width="1.8" stroke-linejoin="round"/><path d="M403,661.6A30.8,30.8 0 0 1 370.5,697.1L371.3,684.9A18.5,18.5 0 0 0 390.9,663.5Z" fill="#4F6228" stroke="#fff" stroke-width="1.8" stroke-linejoin="round"/><path d="M370.5,697.1A30.8,30.8 0 0 1 372.6,635.6L372.6,647.9A18.5,18.5 0 0 0 371.3,684.9Z" fill="#974806" stroke="#fff" stroke-width="1.8" stroke-linejoin="round"/><path d="M372.6,647.9A18.5,18.5 0 0 1 382.4,682.1L375.9,671.7A6.3,6.3 0 0 0 372.6,660.1Z" fill="#FFC000" stroke="#fff" stroke-width="1.8" stroke-linejoin="round"/><path d="M382.4,682.1A18.5,18.5 0 0 1 354.1,665.1L366.3,666A6.3,6.3 0 0 0 375.9,671.7Z" fill="#4F6228" stroke="#fff" stroke-width="1.8" stroke-linejoin="round"/><path d="M354.1,665.1A18.5,18.5 0 0 1 372.6,647.9L372.6,660.1A6.3,6.3 0 0 0 366.3,666Z" fill="#974806" stroke="#fff" stroke-width="1.8" stroke-linejoin="round"/>
<path d="M530,712.9A43,43 0 0 1 557.1,789.3L549.4,779.8A30.8,30.8 0 0 0 530,725.1Z" fill="#FFC000" stroke="#fff" stroke-width="1.8" stroke-linejoin="round"/><path d="M557.1,789.3A43,43 0 0 1 490.1,772L501.4,767.4A30.8,30.8 0 0 0 549.4,779.8Z" fill="#4F6228" stroke="#fff" stroke-width="1.8" stroke-linejoin="round"/><path d="M490.1,772A43,43 0 0 1 530,712.9L530,725.1A30.8,30.8 0 0 0 501.4,767.4Z" fill="#974806" stroke="#fff" stroke-width="1.8" stroke-linejoin="round"/><path d="M530,725.1A30.8,30.8 0 0 1 559.8,763.9L547.9,760.7A18.5,18.5 0 0 0 530,737.4Z" fill="#FFC000" stroke="#fff" stroke-width="1.8" stroke-linejoin="round"/><path d="M559.8,763.9A30.8,30.8 0 0 1 507.5,776.9L516.5,768.5A18.5,18.5 0 0 0 547.9,760.7Z" fill="#4F6228" stroke="#fff" stroke-width="1.8" stroke-linejoin="round"/><path d="M507.5,776.9A30.8,30.8 0 0 1 530,725.1L530,737.4A18.5,18.5 0 0 0 516.5,768.5Z" fill="#974806" stroke="#fff" stroke-width="1.8" stroke-linejoin="round"/><path d="M530,737.4A18.5,18.5 0 0 1 547.5,761.9L536,758A6.3,6.3 0 0 0 530,749.6Z" fill="#FFC000" stroke="#fff" stroke-width="1.8" stroke-linejoin="round"/><path d="M547.5,761.9A18.5,18.5 0 0 1 518.9,770.7L526.2,760.9A6.3,6.3 0 0 0 536,758Z" fill="#4F6228" stroke="#fff" stroke-width="1.8" stroke-linejoin="round"/><path d="M518.9,770.7A18.5,18.5 0 0 1 530,737.4L530,749.6A6.3,6.3 0 0 0 526.2,760.9Z" fill="#974806" stroke="#fff" stroke-width="1.8" stroke-linejoin="round"/>
<path d="M681.7,618.6A43,43 0 0 1 714.6,689.2L705.3,681.4A30.8,30.8 0 0 0 681.7,630.8Z" fill="#FFC000" stroke="#fff" stroke-width="1.8" stroke-linejoin="round"/><path d="M714.6,689.2A43,43 0 0 1 641.6,677L652.9,672.6A30.8,30.8 0 0 0 705.3,681.4Z" fill="#4F6228" stroke="#fff" stroke-width="1.8" stroke-linejoin="round"/><path d="M641.6,677A43,43 0 0 1 681.7,618.6L681.7,630.8A30.8,30.8 0 0 0 652.9,672.6Z" fill="#974806" stroke="#fff" stroke-width="1.8" stroke-linejoin="round"/><path d="M681.7,630.8A30.8,30.8 0 0 1 712.2,657.3L700,659A18.5,18.5 0 0 0 681.7,643.1Z" fill="#FFC000" stroke="#fff" stroke-width="1.8" stroke-linejoin="round"/><path d="M712.2,657.3A30.8,30.8 0 0 1 661.9,685.2L669.8,675.8A18.5,18.5 0 0 0 700,659Z" fill="#4F6228" stroke="#fff" stroke-width="1.8" stroke-linejoin="round"/><path d="M661.9,685.2A30.8,30.8 0 0 1 681.7,630.8L681.7,643.1A18.5,18.5 0 0 0 669.8,675.8Z" fill="#974806" stroke="#fff" stroke-width="1.8" stroke-linejoin="round"/><path d="M681.7,643.1A18.5,18.5 0 0 1 699.9,658.4L687.9,660.5A6.3,6.3 0 0 0 681.7,655.3Z" fill="#FFC000" stroke="#fff" stroke-width="1.8" stroke-linejoin="round"/><path d="M699.9,658.4A18.5,18.5 0 0 1 670.8,676.6L678,666.7A6.3,6.3 0 0 0 687.9,660.5Z" fill="#4F6228" stroke="#fff" stroke-width="1.8" stroke-linejoin="round"/><path d="M670.8,676.6A18.5,18.5 0 0 1 681.7,643.1L681.7,655.3A6.3,6.3 0 0 0 678,666.7Z" fill="#974806" stroke="#fff" stroke-width="1.8" stroke-linejoin="round"/>
<path d="M842,595.8A43,43 0 0 1 870.8,670.8L862.6,661.7A30.8,30.8 0 0 0 842,608Z" fill="#FFC000" stroke="#fff" stroke-width="1.8" stroke-linejoin="round"/><path d="M870.8,670.8A43,43 0 0 1 802.4,655.6L813.6,650.8A30.8,30.8 0 0 0 862.6,661.7Z" fill="#4F6228" stroke="#fff" stroke-width="1.8" stroke-linejoin="round"/><path d="M802.4,655.6A43,43 0 0 1 842,595.8L842,608A30.8,30.8 0 0 0 813.6,650.8Z" fill="#974806" stroke="#fff" stroke-width="1.8" stroke-linejoin="round"/><path d="M842,608A30.8,30.8 0 0 1 872.4,643.6L860.3,641.7A18.5,18.5 0 0 0 842,620.3Z" fill="#FFC000" stroke="#fff" stroke-width="1.8" stroke-linejoin="round"/><path d="M872.4,643.6A30.8,30.8 0 0 1 823.5,663.4L830.9,653.6A18.5,18.5 0 0 0 860.3,641.7Z" fill="#4F6228" stroke="#fff" stroke-width="1.8" stroke-linejoin="round"/><path d="M823.5,663.4A30.8,30.8 0 0 1 842,608L842,620.3A18.5,18.5 0 0 0 830.9,653.6Z" fill="#974806" stroke="#fff" stroke-width="1.8" stroke-linejoin="round"/><path d="M842,620.3A18.5,18.5 0 0 1 860.4,640.4L848.3,639.3A6.3,6.3 0 0 0 842,632.5Z" fill="#FFC000" stroke="#fff" stroke-width="1.8" stroke-linejoin="round"/><path d="M860.4,640.4A18.5,18.5 0 0 1 831.1,653.8L838.3,643.9A6.3,6.3 0 0 0 848.3,639.3Z" fill="#4F6228" stroke="#fff" stroke-width="1.8" stroke-linejoin="round"/><path d="M831.1,653.8A18.5,18.5 0 0 1 842,620.3L842,632.5A6.3,6.3 0 0 0 838.3,643.9Z" fill="#974806" stroke="#fff" stroke-width="1.8" stroke-linejoin="round"/>
<path d="M842,685.7A43,43 0 0 1 869.6,761.6L861.8,752.3A30.8,30.8 0 0 0 842,697.9Z" fill="#FFC000" stroke="#fff" stroke-width="1.8" stroke-linejoin="round"/><path d="M869.6,761.6A43,43 0 0 1 801.3,742.7L812.9,738.7A30.8,30.8 0 0 0 861.8,752.3Z" fill="#4F6228" stroke="#fff" stroke-width="1.8" stroke-linejoin="round"/><path d="M801.3,742.7A43,43 0 0 1 842,685.7L842,697.9A30.8,30.8 0 0 0 812.9,738.7Z" fill="#974806" stroke="#fff" stroke-width="1.8" stroke-linejoin="round"/><path d="M842,697.9A30.8,30.8 0 0 1 872.4,733.5L860.3,731.6A18.5,18.5 0 0 0 842,710.2Z" fill="#FFC000" stroke="#fff" stroke-width="1.8" stroke-linejoin="round"/><path d="M872.4,733.5A30.8,30.8 0 0 1 822.2,752.3L830.1,742.9A18.5,18.5 0 0 0 860.3,731.6Z" fill="#4F6228" stroke="#fff" stroke-width="1.8" stroke-linejoin="round"/><path d="M822.2,752.3A30.8,30.8 0 0 1 842,697.9L842,710.2A18.5,18.5 0 0 0 830.1,742.9Z" fill="#974806" stroke="#fff" stroke-width="1.8" stroke-linejoin="round"/><path d="M842,710.2A18.5,18.5 0 0 1 860.2,731.9L848.2,729.8A6.3,6.3 0 0 0 842,722.4Z" fill="#FFC000" stroke="#fff" stroke-width="1.8" stroke-linejoin="round"/><path d="M860.2,731.9A18.5,18.5 0 0 1 830.4,743.1L838,733.6A6.3,6.3 0 0 0 848.2,729.8Z" fill="#4F6228" stroke="#fff" stroke-width="1.8" stroke-linejoin="round"/><path d="M830.4,743.1A18.5,18.5 0 0 1 842,710.2L842,722.4A6.3,6.3 0 0 0 838,733.6Z" fill="#974806" stroke="#fff" stroke-width="1.8" stroke-linejoin="round"/>
<path d="M1137.6,623.2A43,43 0 0 1 1174.5,688.3L1164,682.1A30.8,30.8 0 0 0 1137.6,635.4Z" fill="#FFC000" stroke="#fff" stroke-width="1.8" stroke-linejoin="round"/><path d="M1174.5,688.3A43,43 0 0 1 1104.2,693.3L1113.7,685.6A30.8,30.8 0 0 0 1164,682.1Z" fill="#4F6228" stroke="#fff" stroke-width="1.8" stroke-linejoin="round"/><path d="M1104.2,693.3A43,43 0 0 1 1137.6,623.2L1137.6,635.4A30.8,30.8 0 0 0 1113.7,685.6Z" fill="#974806" stroke="#fff" stroke-width="1.8" stroke-linejoin="round"/><path d="M1137.6,635.4A30.8,30.8 0 0 1 1168.3,663.5L1156,664.6A18.5,18.5 0 0 0 1137.6,647.7Z" fill="#FFC000" stroke="#fff" stroke-width="1.8" stroke-linejoin="round"/><path d="M1168.3,663.5A30.8,30.8 0 0 1 1120.4,691.7L1127.3,681.5A18.5,18.5 0 0 0 1156,664.6Z" fill="#4F6228" stroke="#fff" stroke-width="1.8" stroke-linejoin="round"/><path d="M1120.4,691.7A30.8,30.8 0 0 1 1137.6,635.4L1137.6,647.7A18.5,18.5 0 0 0 1127.3,681.5Z" fill="#974806" stroke="#fff" stroke-width="1.8" stroke-linejoin="round"/><path d="M1137.6,647.7A18.5,18.5 0 0 1 1156,664.6L1143.9,665.7A6.3,6.3 0 0 0 1137.6,659.9Z" fill="#FFC000" stroke="#fff" stroke-width="1.8" stroke-linejoin="round"/><path d="M1156,664.6A18.5,18.5 0 0 1 1129.8,683L1134.9,671.9A6.3,6.3 0 0 0 1143.9,665.7Z" fill="#4F6228" stroke="#fff" stroke-width="1.8" stroke-linejoin="round"/><path d="M1129.8,683A18.5,18.5 0 0 1 1137.6,647.7L1137.6,659.9A6.3,6.3 0 0 0 1134.9,671.9Z" fill="#974806" stroke="#fff" stroke-width="1.8" stroke-linejoin="round"/>
<path d="M1532.3,571.7A43,43 0 0 1 1557,649.9L1550,639.9A30.8,30.8 0 0 0 1532.3,583.9Z" fill="#FFC000" stroke="#fff" stroke-width="1.8" stroke-linejoin="round"/><path d="M1557,649.9A43,43 0 0 1 1490.6,625.1L1502.4,622.2A30.8,30.8 0 0 0 1550,639.9Z" fill="#4F6228" stroke="#fff" stroke-width="1.8" stroke-linejoin="round"/><path d="M1490.6,625.1A43,43 0 0 1 1532.3,571.7L1532.3,583.9A30.8,30.8 0 0 0 1502.4,622.2Z" fill="#974806" stroke="#fff" stroke-width="1.8" stroke-linejoin="round"/><path d="M1532.3,583.9A30.8,30.8 0 0 1 1552.1,638.3L1544.2,628.9A18.5,18.5 0 0 0 1532.3,596.2Z" fill="#FFC000" stroke="#fff" stroke-width="1.8" stroke-linejoin="round"/><path d="M1552.1,638.3A30.8,30.8 0 0 1 1503.9,626.7L1515.3,621.9A18.5,18.5 0 0 0 1544.2,628.9Z" fill="#4F6228" stroke="#fff" stroke-width="1.8" stroke-linejoin="round"/><path d="M1503.9,626.7A30.8,30.8 0 0 1 1532.3,583.9L1532.3,596.2A18.5,18.5 0 0 0 1515.3,621.9Z" fill="#974806" stroke="#fff" stroke-width="1.8" stroke-linejoin="round"/><path d="M1532.3,596.2A18.5,18.5 0 0 1 1545.2,628L1536.7,619.2A6.3,6.3 0 0 0 1532.3,608.4Z" fill="#FFC000" stroke="#fff" stroke-width="1.8" stroke-linejoin="round"/><path d="M1545.2,628A18.5,18.5 0 0 1 1515.3,621.9L1526.5,617.2A6.3,6.3 0 0 0 1536.7,619.2Z" fill="#4F6228" stroke="#fff" stroke-width="1.8" stroke-linejoin="round"/><path d="M1515.3,621.9A18.5,18.5 0 0 1 1532.3,596.2L1532.3,608.4A6.3,6.3 0 0 0 1526.5,617.2Z" fill="#974806" stroke="#fff" stroke-width="1.8" stroke-linejoin="round"/>
<path d="M1148.5,732.3A43.9,43.9 0 0 1 1154.6,732.8L1152.9,745.1A31.4,31.4 0 0 0 1148.5,744.8Z" fill="#FFC000" stroke="#fff" stroke-width="1.8" stroke-linejoin="round"/><path d="M1154.6,732.8A43.9,43.9 0 1 1 1105.3,768.6L1117.6,770.7A31.4,31.4 0 1 0 1152.9,745.1Z" fill="#4F6228" stroke="#fff" stroke-width="1.8" stroke-linejoin="round"/><path d="M1105.3,768.6A43.9,43.9 0 0 1 1148.5,732.3L1148.5,744.8A31.4,31.4 0 0 0 1117.6,770.7Z" fill="#974806" stroke="#fff" stroke-width="1.8" stroke-linejoin="round"/><path d="M1148.5,744.8A31.4,31.4 0 0 1 1152.9,745.1L1151.1,757.5A18.9,18.9 0 0 0 1148.5,757.3Z" fill="#FFC000" stroke="#fff" stroke-width="1.8" stroke-linejoin="round"/><path d="M1152.9,745.1A31.4,31.4 0 1 1 1117.6,770.7L1129.9,772.9A18.9,18.9 0 1 0 1151.1,757.5Z" fill="#4F6228" stroke="#fff" stroke-width="1.8" stroke-linejoin="round"/><path d="M1117.6,770.7A31.4,31.4 0 0 1 1148.5,744.8L1148.5,757.3A18.9,18.9 0 0 0 1129.9,772.9Z" fill="#974806" stroke="#fff" stroke-width="1.8" stroke-linejoin="round"/><path d="M1148.5,757.3A18.9,18.9 0 0 1 1151.1,757.5L1149.4,769.8A6.4,6.4 0 0 0 1148.5,769.8Z" fill="#FFC000" stroke="#fff" stroke-width="1.8" stroke-linejoin="round"/><path d="M1151.1,757.5A18.9,18.9 0 1 1 1129.8,773.9L1142.1,775.4A6.4,6.4 0 1 0 1149.4,769.8Z" fill="#4F6228" stroke="#fff" stroke-width="1.8" stroke-linejoin="round"/><path d="M1129.8,773.9A18.9,18.9 0 0 1 1148.5,757.3L1148.5,769.8A6.4,6.4 0 0 0 1142.1,775.4Z" fill="#974806" stroke="#fff" stroke-width="1.8" stroke-linejoin="round"/>
<path d="M830.2,778.6A43,43 0 0 1 856.7,855.5L849.2,845.9A30.8,30.8 0 0 0 830.2,790.8Z" fill="#FFC000" stroke="#fff" stroke-width="1.8" stroke-linejoin="round"/><path d="M856.7,855.5A43,43 0 0 1 789.5,835.6L801.1,831.6A30.8,30.8 0 0 0 849.2,845.9Z" fill="#4F6228" stroke="#fff" stroke-width="1.8" stroke-linejoin="round"/><path d="M789.5,835.6A43,43 0 0 1 830.2,778.6L830.2,790.8A30.8,30.8 0 0 0 801.1,831.6Z" fill="#974806" stroke="#fff" stroke-width="1.8" stroke-linejoin="round"/><path d="M830.2,790.8A30.8,30.8 0 0 1 859.7,830.6L847.9,827A18.5,18.5 0 0 0 830.2,803.1Z" fill="#FFC000" stroke="#fff" stroke-width="1.8" stroke-linejoin="round"/><path d="M859.7,830.6A30.8,30.8 0 0 1 808.8,843.8L817.3,834.9A18.5,18.5 0 0 0 847.9,827Z" fill="#4F6228" stroke="#fff" stroke-width="1.8" stroke-linejoin="round"/><path d="M808.8,843.8A30.8,30.8 0 0 1 830.2,790.8L830.2,803.1A18.5,18.5 0 0 0 817.3,834.9Z" fill="#974806" stroke="#fff" stroke-width="1.8" stroke-linejoin="round"/><path d="M830.2,803.1A18.5,18.5 0 0 1 847.5,828.2L836.1,823.9A6.3,6.3 0 0 0 830.2,815.3Z" fill="#FFC000" stroke="#fff" stroke-width="1.8" stroke-linejoin="round"/><path d="M847.5,828.2A18.5,18.5 0 0 1 816.2,833.7L825.4,825.7A6.3,6.3 0 0 0 836.1,823.9Z" fill="#4F6228" stroke="#fff" stroke-width="1.8" stroke-linejoin="round"/><path d="M816.2,833.7A18.5,18.5 0 0 1 830.2,803.1L830.2,815.3A6.3,6.3 0 0 0 825.4,825.7Z" fill="#974806" stroke="#fff" stroke-width="1.8" stroke-linejoin="round"/>
<path d="M1035.9,817.3A43,43 0 0 1 1077.2,872.2L1065.5,868.8A30.8,30.8 0 0 0 1035.9,829.5Z" fill="#FFC000" stroke="#fff" stroke-width="1.8" stroke-linejoin="round"/><path d="M1077.2,872.2A43,43 0 0 1 999,882.4L1009.5,876.2A30.8,30.8 0 0 0 1065.5,868.8Z" fill="#4F6228" stroke="#fff" stroke-width="1.8" stroke-linejoin="round"/><path d="M999,882.4A43,43 0 0 1 1035.9,817.3L1035.9,829.5A30.8,30.8 0 0 0 1009.5,876.2Z" fill="#974806" stroke="#fff" stroke-width="1.8" stroke-linejoin="round"/><path d="M1035.9,829.5A30.8,30.8 0 0 1 1048.4,888.4L1043.4,877.2A18.5,18.5 0 0 0 1035.9,841.8Z" fill="#FFC000" stroke="#fff" stroke-width="1.8" stroke-linejoin="round"/><path d="M1048.4,888.4A30.8,30.8 0 0 1 1005.2,863L1017.5,861.9A18.5,18.5 0 0 0 1043.4,877.2Z" fill="#4F6228" stroke="#fff" stroke-width="1.8" stroke-linejoin="round"/><path d="M1005.2,863A30.8,30.8 0 0 1 1035.9,829.5L1035.9,841.8A18.5,18.5 0 0 0 1017.5,861.9Z" fill="#974806" stroke="#fff" stroke-width="1.8" stroke-linejoin="round"/><path d="M1035.9,841.8A18.5,18.5 0 0 1 1045.4,876.2L1039.1,865.7A6.3,6.3 0 0 0 1035.9,854Z" fill="#FFC000" stroke="#fff" stroke-width="1.8" stroke-linejoin="round"/><path d="M1045.4,876.2A18.5,18.5 0 0 1 1017.6,863.2L1029.7,861.3A6.3,6.3 0 0 0 1039.1,865.7Z" fill="#4F6228" stroke="#fff" stroke-width="1.8" stroke-linejoin="round"/><path d="M1017.6,863.2A18.5,18.5 0 0 1 1035.9,841.8L1035.9,854A6.3,6.3 0 0 0 1029.7,861.3Z" fill="#974806" stroke="#fff" stroke-width="1.8" stroke-linejoin="round"/>
<path d="M63.2,856.1A43,43 0 1 1 36.7,933L44.2,923.4A30.8,30.8 0 1 0 63.2,868.3Z" fill="#FFC000" stroke="#fff" stroke-width="1.8" stroke-linejoin="round"/><path d="M36.7,933A43,43 0 0 1 22.3,885.8L33.9,889.6A30.8,30.8 0 0 0 44.2,923.4Z" fill="#4F6228" stroke="#fff" stroke-width="1.8" stroke-linejoin="round"/><path d="M22.3,885.8A43,43 0 0 1 63.2,856.1L63.2,868.3A30.8,30.8 0 0 0 33.9,889.6Z" fill="#974806" stroke="#fff" stroke-width="1.8" stroke-linejoin="round"/><path d="M63.2,868.3A30.8,30.8 0 0 1 75.2,927.5L70.4,916.1A18.5,18.5 0 0 0 63.2,880.6Z" fill="#FFC000" stroke="#fff" stroke-width="1.8" stroke-linejoin="round"/><path d="M75.2,927.5A30.8,30.8 0 0 1 32.4,899.6L44.7,899.4A18.5,18.5 0 0 0 70.4,916.1Z" fill="#4F6228" stroke="#fff" stroke-width="1.8" stroke-linejoin="round"/><path d="M32.4,899.6A30.8,30.8 0 0 1 63.2,868.3L63.2,880.6A18.5,18.5 0 0 0 44.7,899.4Z" fill="#974806" stroke="#fff" stroke-width="1.8" stroke-linejoin="round"/><path d="M63.2,880.6A18.5,18.5 0 0 1 67,917.2L64.5,905.3A6.3,6.3 0 0 0 63.2,892.8Z" fill="#FFC000" stroke="#fff" stroke-width="1.8" stroke-linejoin="round"/><path d="M67,917.2A18.5,18.5 0 0 1 44.8,901L56.9,899.8A6.3,6.3 0 0 0 64.5,905.3Z" fill="#4F6228" stroke="#fff" stroke-width="1.8" stroke-linejoin="round"/><path d="M44.8,901A18.5,18.5 0 0 1 63.2,880.6L63.2,892.8A6.3,6.3 0 0 0 56.9,899.8Z" fill="#974806" stroke="#fff" stroke-width="1.8" stroke-linejoin="round"/>
<path d="M553.3,889.9A43,43 0 0 1 595.5,941.1L583.5,938.8A30.8,30.8 0 0 0 553.3,902.1Z" fill="#FFC000" stroke="#fff" stroke-width="1.8" stroke-linejoin="round"/><path d="M595.5,941.1A43,43 0 1 1 535.8,893.6L540.8,904.8A30.8,30.8 0 1 0 583.5,938.8Z" fill="#4F6228" stroke="#fff" stroke-width="1.8" stroke-linejoin="round"/><path d="M535.8,893.6A43,43 0 0 1 553.3,889.9L553.3,902.1A30.8,30.8 0 0 0 540.8,904.8Z" fill="#974806" stroke="#fff" stroke-width="1.8" stroke-linejoin="round"/><path d="M553.3,902.1A30.8,30.8 0 1 1 534.8,957.5L542.2,947.7A18.5,18.5 0 1 0 553.3,914.4Z" fill="#FFC000" stroke="#fff" stroke-width="1.8" stroke-linejoin="round"/><path d="M534.8,957.5A30.8,30.8 0 0 1 553.3,902.1L553.3,914.4A18.5,18.5 0 0 0 542.2,947.7Z" fill="#974806" stroke="#fff" stroke-width="1.8" stroke-linejoin="round"/><path d="M553.3,914.4A18.5,18.5 0 0 1 557.5,950.9L554.7,939A6.3,6.3 0 0 0 553.3,926.6Z" fill="#FFC000" stroke="#fff" stroke-width="1.8" stroke-linejoin="round"/><path d="M557.5,950.9A18.5,18.5 0 1 1 553.3,914.4L553.3,926.6A6.3,6.3 0 1 0 554.7,939Z" fill="#4F6228" stroke="#fff" stroke-width="1.8" stroke-linejoin="round"/>
<path d="M844.3,896.2A43,43 0 0 1 862.5,978.2L857.3,967.1A30.8,30.8 0 0 0 844.3,908.4Z" fill="#FFC000" stroke="#fff" stroke-width="1.8" stroke-linejoin="round"/><path d="M862.5,978.2A43,43 0 0 1 806,958.7L816.9,953.2A30.8,30.8 0 0 0 857.3,967.1Z" fill="#4F6228" stroke="#fff" stroke-width="1.8" stroke-linejoin="round"/><path d="M806,958.7A43,43 0 0 1 844.3,896.2L844.3,908.4A30.8,30.8 0 0 0 816.9,953.2Z" fill="#974806" stroke="#fff" stroke-width="1.8" stroke-linejoin="round"/><path d="M844.3,908.4A30.8,30.8 0 0 1 870.7,955.1L860.2,948.7A18.5,18.5 0 0 0 844.3,920.7Z" fill="#FFC000" stroke="#fff" stroke-width="1.8" stroke-linejoin="round"/><path d="M870.7,955.1A30.8,30.8 0 0 1 827.5,965L834.2,954.7A18.5,18.5 0 0 0 860.2,948.7Z" fill="#4F6228" stroke="#fff" stroke-width="1.8" stroke-linejoin="round"/><path d="M827.5,965A30.8,30.8 0 0 1 844.3,908.4L844.3,920.7A18.5,18.5 0 0 0 834.2,954.7Z" fill="#974806" stroke="#fff" stroke-width="1.8" stroke-linejoin="round"/><path d="M844.3,920.7A18.5,18.5 0 0 1 855.9,953.6L848.3,944.1A6.3,6.3 0 0 0 844.3,932.9Z" fill="#FFC000" stroke="#fff" stroke-width="1.8" stroke-linejoin="round"/><path d="M855.9,953.6A18.5,18.5 0 0 1 833.7,954.4L840.7,944.4A6.3,6.3 0 0 0 848.3,944.1Z" fill="#4F6228" stroke="#fff" stroke-width="1.8" stroke-linejoin="round"/><path d="M833.7,954.4A18.5,18.5 0 0 1 844.3,920.7L844.3,932.9A6.3,6.3 0 0 0 840.7,944.4Z" fill="#974806" stroke="#fff" stroke-width="1.8" stroke-linejoin="round"/>
<path d="M524,975A43,43 0 1 1 489.2,992.7L499.1,999.9A30.8,30.8 0 1 0 524,987.2Z" fill="#FFC000" stroke="#fff" stroke-width="1.8" stroke-linejoin="round"/><path d="M489.2,992.7A43,43 0 0 1 503.8,980L509.5,990.8A30.8,30.8 0 0 0 499.1,999.9Z" fill="#4F6228" stroke="#fff" stroke-width="1.8" stroke-linejoin="round"/><path d="M503.8,980A43,43 0 0 1 524,975L524,987.2A30.8,30.8 0 0 0 509.5,990.8Z" fill="#974806" stroke="#fff" stroke-width="1.8" stroke-linejoin="round"/><path d="M524,987.2A30.8,30.8 0 1 1 501.1,1038.6L510.3,1030.4A18.5,18.5 0 1 0 524,999.5Z" fill="#FFC000" stroke="#fff" stroke-width="1.8" stroke-linejoin="round"/><path d="M501.1,1038.6A30.8,30.8 0 0 1 500.8,997.8L510,1005.9A18.5,18.5 0 0 0 510.3,1030.4Z" fill="#4F6228" stroke="#fff" stroke-width="1.8" stroke-linejoin="round"/><path d="M500.8,997.8A30.8,30.8 0 0 1 524,987.2L524,999.5A18.5,18.5 0 0 0 510,1005.9Z" fill="#974806" stroke="#fff" stroke-width="1.8" stroke-linejoin="round"/><path d="M524,999.5A18.5,18.5 0 1 1 506,1013.8L517.9,1016.6A6.3,6.3 0 1 0 524,1011.7Z" fill="#FFC000" stroke="#fff" stroke-width="1.8" stroke-linejoin="round"/><path d="M506,1013.8A18.5,18.5 0 0 1 507.4,1009.9L518.3,1015.2A6.3,6.3 0 0 0 517.9,1016.6Z" fill="#4F6228" stroke="#fff" stroke-width="1.8" stroke-linejoin="round"/><path d="M507.4,1009.9A18.5,18.5 0 0 1 524,999.5L524,1011.7A6.3,6.3 0 0 0 518.3,1015.2Z" fill="#974806" stroke="#fff" stroke-width="1.8" stroke-linejoin="round"/>
<path d="M1134.1,965.2A43,43 0 1 1 1092,999.3L1104,1001.8A30.8,30.8 0 1 0 1134.1,977.4Z" fill="#FFC000" stroke="#fff" stroke-width="1.8" stroke-linejoin="round"/><path d="M1092,999.3A43,43 0 0 1 1098.5,984.2L1108.6,991A30.8,30.8 0 0 0 1104,1001.8Z" fill="#4F6228" stroke="#fff" stroke-width="1.8" stroke-linejoin="round"/><path d="M1098.5,984.2A43,43 0 0 1 1134.1,965.2L1134.1,977.4A30.8,30.8 0 0 0 1108.6,991Z" fill="#974806" stroke="#fff" stroke-width="1.8" stroke-linejoin="round"/><path d="M1134.1,977.4A30.8,30.8 0 0 1 1163.9,1016.2L1152,1013A18.5,18.5 0 0 0 1134.1,989.7Z" fill="#FFC000" stroke="#fff" stroke-width="1.8" stroke-linejoin="round"/><path d="M1163.9,1016.2A30.8,30.8 0 0 1 1135.2,1039L1134.7,1026.7A18.5,18.5 0 0 0 1152,1013Z" fill="#4F6228" stroke="#fff" stroke-width="1.8" stroke-linejoin="round"/><path d="M1135.2,1039A30.8,30.8 0 1 1 1134.1,977.4L1134.1,989.7A18.5,18.5 0 1 0 1134.7,1026.7Z" fill="#974806" stroke="#fff" stroke-width="1.8" stroke-linejoin="round"/><path d="M1134.1,989.7A18.5,18.5 0 0 1 1144.7,1023.4L1137.7,1013.4A6.3,6.3 0 0 0 1134.1,1001.9Z" fill="#FFC000" stroke="#fff" stroke-width="1.8" stroke-linejoin="round"/><path d="M1144.7,1023.4A18.5,18.5 0 0 1 1126.6,1025.1L1131.5,1014A6.3,6.3 0 0 0 1137.7,1013.4Z" fill="#4F6228" stroke="#fff" stroke-width="1.8" stroke-linejoin="round"/><path d="M1126.6,1025.1A18.5,18.5 0 0 1 1134.1,989.7L1134.1,1001.9A6.3,6.3 0 0 0 1131.5,1014Z" fill="#974806" stroke="#fff" stroke-width="1.8" stroke-linejoin="round"/>
<path d="M614.8,1009.8A43,43 0 0 1 646.2,1082.1L637.3,1073.8A30.8,30.8 0 0 0 614.8,1022Z" fill="#FFC000" stroke="#fff" stroke-width="1.8" stroke-linejoin="round"/><path d="M646.2,1082.1A43,43 0 0 1 577.6,1074.3L588.1,1068.2A30.8,30.8 0 0 0 637.3,1073.8Z" fill="#4F6228" stroke="#fff" stroke-width="1.8" stroke-linejoin="round"/><path d="M577.6,1074.3A43,43 0 0 1 614.8,1009.8L614.8,1022A30.8,30.8 0 0 0 588.1,1068.2Z" fill="#974806" stroke="#fff" stroke-width="1.8" stroke-linejoin="round"/><path d="M614.8,1022A30.8,30.8 0 0 1 645.4,1049L633.2,1050.5A18.5,18.5 0 0 0 614.8,1034.3Z" fill="#FFC000" stroke="#fff" stroke-width="1.8" stroke-linejoin="round"/><path d="M645.4,1049A30.8,30.8 0 0 1 596.3,1077.4L603.7,1067.6A18.5,18.5 0 0 0 633.2,1050.5Z" fill="#4F6228" stroke="#fff" stroke-width="1.8" stroke-linejoin="round"/><path d="M596.3,1077.4A30.8,30.8 0 0 1 614.8,1022L614.8,1034.3A18.5,18.5 0 0 0 603.7,1067.6Z" fill="#974806" stroke="#fff" stroke-width="1.8" stroke-linejoin="round"/><path d="M614.8,1034.3A18.5,18.5 0 0 1 633.2,1051.2L621.1,1052.3A6.3,6.3 0 0 0 614.8,1046.5Z" fill="#FFC000" stroke="#fff" stroke-width="1.8" stroke-linejoin="round"/><path d="M633.2,1051.2A18.5,18.5 0 0 1 603.9,1067.8L611.1,1057.9A6.3,6.3 0 0 0 621.1,1052.3Z" fill="#4F6228" stroke="#fff" stroke-width="1.8" stroke-linejoin="round"/><path d="M603.9,1067.8A18.5,18.5 0 0 1 614.8,1034.3L614.8,1046.5A6.3,6.3 0 0 0 611.1,1057.9Z" fill="#974806" stroke="#fff" stroke-width="1.8" stroke-linejoin="round"/>
<path d="M838.4,1013.3A43,43 0 0 1 868.8,1086.7L860.2,1078.1A30.8,30.8 0 0 0 838.4,1025.5Z" fill="#FFC000" stroke="#fff" stroke-width="1.8" stroke-linejoin="round"/><path d="M868.8,1086.7A43,43 0 0 1 797.7,1070.3L809.3,1066.3A30.8,30.8 0 0 0 860.2,1078.1Z" fill="#4F6228" stroke="#fff" stroke-width="1.8" stroke-linejoin="round"/><path d="M797.7,1070.3A43,43 0 0 1 838.4,1013.3L838.4,1025.5A30.8,30.8 0 0 0 809.3,1066.3Z" fill="#974806" stroke="#fff" stroke-width="1.8" stroke-linejoin="round"/><path d="M838.4,1025.5A30.8,30.8 0 0 1 868.8,1061.1L856.7,1059.2A18.5,18.5 0 0 0 838.4,1037.8Z" fill="#FFC000" stroke="#fff" stroke-width="1.8" stroke-linejoin="round"/><path d="M868.8,1061.1A30.8,30.8 0 0 1 815.9,1077.3L824.9,1068.9A18.5,18.5 0 0 0 856.7,1059.2Z" fill="#4F6228" stroke="#fff" stroke-width="1.8" stroke-linejoin="round"/><path d="M815.9,1077.3A30.8,30.8 0 0 1 838.4,1025.5L838.4,1037.8A18.5,18.5 0 0 0 824.9,1068.9Z" fill="#974806" stroke="#fff" stroke-width="1.8" stroke-linejoin="round"/><path d="M838.4,1037.8A18.5,18.5 0 0 1 856.3,1061.1L844.5,1057.9A6.3,6.3 0 0 0 838.4,1050Z" fill="#FFC000" stroke="#fff" stroke-width="1.8" stroke-linejoin="round"/><path d="M856.3,1061.1A18.5,18.5 0 0 1 826.8,1070.7L834.4,1061.2A6.3,6.3 0 0 0 844.5,1057.9Z" fill="#4F6228" stroke="#fff" stroke-width="1.8" stroke-linejoin="round"/><path d="M826.8,1070.7A18.5,18.5 0 0 1 838.4,1037.8L838.4,1050A6.3,6.3 0 0 0 834.4,1061.2Z" fill="#974806" stroke="#fff" stroke-width="1.8" stroke-linejoin="round"/>
<path d="M446.3,1099A43,43 0 1 1 437.4,1184.1L439.9,1172.1A30.8,30.8 0 1 0 446.3,1111.2Z" fill="#FFC000" stroke="#fff" stroke-width="1.8" stroke-linejoin="round"/><path d="M437.4,1184.1A43,43 0 0 1 404.8,1153.1L416.5,1150A30.8,30.8 0 0 0 439.9,1172.1Z" fill="#4F6228" stroke="#fff" stroke-width="1.8" stroke-linejoin="round"/><path d="M404.8,1153.1A43,43 0 0 1 446.3,1099L446.3,1111.2A30.8,30.8 0 0 0 416.5,1150Z" fill="#974806" stroke="#fff" stroke-width="1.8" stroke-linejoin="round"/><path d="M446.3,1111.2A30.8,30.8 0 0 1 446.3,1172.8L446.3,1160.5A18.5,18.5 0 0 0 446.3,1123.5Z" fill="#FFC000" stroke="#fff" stroke-width="1.8" stroke-linejoin="round"/><path d="M446.3,1172.8A30.8,30.8 0 0 1 415.9,1146.8L428,1144.9A18.5,18.5 0 0 0 446.3,1160.5Z" fill="#4F6228" stroke="#fff" stroke-width="1.8" stroke-linejoin="round"/><path d="M415.9,1146.8A30.8,30.8 0 0 1 446.3,1111.2L446.3,1123.5A18.5,18.5 0 0 0 428,1144.9Z" fill="#974806" stroke="#fff" stroke-width="1.8" stroke-linejoin="round"/><path d="M446.3,1123.5A18.5,18.5 0 0 1 446.3,1160.5L446.3,1148.3A6.3,6.3 0 0 0 446.3,1135.7Z" fill="#FFC000" stroke="#fff" stroke-width="1.8" stroke-linejoin="round"/><path d="M446.3,1160.5A18.5,18.5 0 0 1 429.5,1149.8L440.6,1144.7A6.3,6.3 0 0 0 446.3,1148.3Z" fill="#4F6228" stroke="#fff" stroke-width="1.8" stroke-linejoin="round"/><path d="M429.5,1149.8A18.5,18.5 0 0 1 446.3,1123.5L446.3,1135.7A6.3,6.3 0 0 0 440.6,1144.7Z" fill="#974806" stroke="#fff" stroke-width="1.8" stroke-linejoin="round"/>
<path d="M622.5,1105.1A43,43 0 1 1 621,1191.1L621.4,1178.9A30.8,30.8 0 1 0 622.5,1117.3Z" fill="#FFC000" stroke="#fff" stroke-width="1.8" stroke-linejoin="round"/><path d="M621,1191.1A43,43 0 0 1 579.7,1152.6L591.9,1151.3A30.8,30.8 0 0 0 621.4,1178.9Z" fill="#4F6228" stroke="#fff" stroke-width="1.8" stroke-linejoin="round"/><path d="M579.7,1152.6A43,43 0 0 1 622.5,1105.1L622.5,1117.3A30.8,30.8 0 0 0 591.9,1151.3Z" fill="#974806" stroke="#fff" stroke-width="1.8" stroke-linejoin="round"/><path d="M622.5,1117.3A30.8,30.8 0 0 1 653,1143.8L640.8,1145.5A18.5,18.5 0 0 0 622.5,1129.6Z" fill="#FFC000" stroke="#fff" stroke-width="1.8" stroke-linejoin="round"/><path d="M653,1143.8A30.8,30.8 0 0 1 609.5,1176L614.7,1164.9A18.5,18.5 0 0 0 640.8,1145.5Z" fill="#4F6228" stroke="#fff" stroke-width="1.8" stroke-linejoin="round"/><path d="M609.5,1176A30.8,30.8 0 0 1 622.5,1117.3L622.5,1129.6A18.5,18.5 0 0 0 614.7,1164.9Z" fill="#974806" stroke="#fff" stroke-width="1.8" stroke-linejoin="round"/><path d="M622.5,1129.6A18.5,18.5 0 0 1 640.6,1144.3L628.7,1146.8A6.3,6.3 0 0 0 622.5,1141.8Z" fill="#FFC000" stroke="#fff" stroke-width="1.8" stroke-linejoin="round"/><path d="M640.6,1144.3A18.5,18.5 0 0 1 611.1,1162.7L618.6,1153.1A6.3,6.3 0 0 0 628.7,1146.8Z" fill="#4F6228" stroke="#fff" stroke-width="1.8" stroke-linejoin="round"/><path d="M611.1,1162.7A18.5,18.5 0 0 1 622.5,1129.6L622.5,1141.8A6.3,6.3 0 0 0 618.6,1153.1Z" fill="#974806" stroke="#fff" stroke-width="1.8" stroke-linejoin="round"/>
<path d="M843.1,1125.7A43,43 0 0 1 873.5,1199.1L864.9,1190.5A30.8,30.8 0 0 0 843.1,1137.9Z" fill="#FFC000" stroke="#fff" stroke-width="1.8" stroke-linejoin="round"/><path d="M873.5,1199.1A43,43 0 0 1 805.1,1188.9L815.9,1183.2A30.8,30.8 0 0 0 864.9,1190.5Z" fill="#4F6228" stroke="#fff" stroke-width="1.8" stroke-linejoin="round"/><path d="M805.1,1188.9A43,43 0 0 1 843.1,1125.7L843.1,1137.9A30.8,30.8 0 0 0 815.9,1183.2Z" fill="#974806" stroke="#fff" stroke-width="1.8" stroke-linejoin="round"/><path d="M843.1,1137.9A30.8,30.8 0 0 1 873.7,1172.5L861.5,1171A18.5,18.5 0 0 0 843.1,1150.2Z" fill="#FFC000" stroke="#fff" stroke-width="1.8" stroke-linejoin="round"/><path d="M873.7,1172.5A30.8,30.8 0 0 1 820.6,1189.7L829.6,1181.3A18.5,18.5 0 0 0 861.5,1171Z" fill="#4F6228" stroke="#fff" stroke-width="1.8" stroke-linejoin="round"/><path d="M820.6,1189.7A30.8,30.8 0 0 1 843.1,1137.9L843.1,1150.2A18.5,18.5 0 0 0 829.6,1181.3Z" fill="#974806" stroke="#fff" stroke-width="1.8" stroke-linejoin="round"/><path d="M843.1,1150.2A18.5,18.5 0 0 1 861.3,1171.9L849.3,1169.8A6.3,6.3 0 0 0 843.1,1162.4Z" fill="#FFC000" stroke="#fff" stroke-width="1.8" stroke-linejoin="round"/><path d="M861.3,1171.9A18.5,18.5 0 0 1 830.7,1182.4L838.9,1173.4A6.3,6.3 0 0 0 849.3,1169.8Z" fill="#4F6228" stroke="#fff" stroke-width="1.8" stroke-linejoin="round"/><path d="M830.7,1182.4A18.5,18.5 0 0 1 843.1,1150.2L843.1,1162.4A6.3,6.3 0 0 0 838.9,1173.4Z" fill="#974806" stroke="#fff" stroke-width="1.8" stroke-linejoin="round"/>
<path d="M1079.2,1118A43,43 0 0 1 1107.4,1193.5L1099.4,1184.2A30.8,30.8 0 0 0 1079.2,1130.2Z" fill="#FFC000" stroke="#fff" stroke-width="1.8" stroke-linejoin="round"/><path d="M1107.4,1193.5A43,43 0 0 1 1037.7,1172.1L1049.4,1169A30.8,30.8 0 0 0 1099.4,1184.2Z" fill="#4F6228" stroke="#fff" stroke-width="1.8" stroke-linejoin="round"/><path d="M1037.7,1172.1A43,43 0 0 1 1079.2,1118L1079.2,1130.2A30.8,30.8 0 0 0 1049.4,1169Z" fill="#974806" stroke="#fff" stroke-width="1.8" stroke-linejoin="round"/><path d="M1079.2,1130.2A30.8,30.8 0 0 1 1109.4,1166.9L1097.4,1164.5A18.5,18.5 0 0 0 1079.2,1142.5Z" fill="#FFC000" stroke="#fff" stroke-width="1.8" stroke-linejoin="round"/><path d="M1109.4,1166.9A30.8,30.8 0 0 1 1056.3,1181.6L1065.5,1173.4A18.5,18.5 0 0 0 1097.4,1164.5Z" fill="#4F6228" stroke="#fff" stroke-width="1.8" stroke-linejoin="round"/><path d="M1056.3,1181.6A30.8,30.8 0 0 1 1079.2,1130.2L1079.2,1142.5A18.5,18.5 0 0 0 1065.5,1173.4Z" fill="#974806" stroke="#fff" stroke-width="1.8" stroke-linejoin="round"/><path d="M1079.2,1142.5A18.5,18.5 0 0 1 1097.5,1163.6L1085.4,1161.9A6.3,6.3 0 0 0 1079.2,1154.7Z" fill="#FFC000" stroke="#fff" stroke-width="1.8" stroke-linejoin="round"/><path d="M1097.5,1163.6A18.5,18.5 0 0 1 1066.1,1174.1L1074.7,1165.5A6.3,6.3 0 0 0 1085.4,1161.9Z" fill="#4F6228" stroke="#fff" stroke-width="1.8" stroke-linejoin="round"/><path d="M1066.1,1174.1A18.5,18.5 0 0 1 1079.2,1142.5L1079.2,1154.7A6.3,6.3 0 0 0 1074.7,1165.5Z" fill="#974806" stroke="#fff" stroke-width="1.8" stroke-linejoin="round"/>
<path d="M1281.5,1140A43,43 0 0 1 1300.3,1221.6L1295,1210.7A30.8,30.8 0 0 0 1281.5,1152.2Z" fill="#FFC000" stroke="#fff" stroke-width="1.8" stroke-linejoin="round"/><path d="M1300.3,1221.6A43,43 0 0 1 1239.8,1193.4L1251.6,1190.5A30.8,30.8 0 0 0 1295,1210.7Z" fill="#4F6228" stroke="#fff" stroke-width="1.8" stroke-linejoin="round"/><path d="M1239.8,1193.4A43,43 0 0 1 1281.5,1140L1281.5,1152.2A30.8,30.8 0 0 0 1251.6,1190.5Z" fill="#974806" stroke="#fff" stroke-width="1.8" stroke-linejoin="round"/><path d="M1281.5,1152.2A30.8,30.8 0 0 1 1310.8,1173.5L1299.1,1177.3A18.5,18.5 0 0 0 1281.5,1164.5Z" fill="#FFC000" stroke="#fff" stroke-width="1.8" stroke-linejoin="round"/><path d="M1310.8,1173.5A30.8,30.8 0 0 1 1256.9,1201.5L1266.7,1194.1A18.5,18.5 0 0 0 1299.1,1177.3Z" fill="#4F6228" stroke="#fff" stroke-width="1.8" stroke-linejoin="round"/><path d="M1256.9,1201.5A30.8,30.8 0 0 1 1281.5,1152.2L1281.5,1164.5A18.5,18.5 0 0 0 1266.7,1194.1Z" fill="#974806" stroke="#fff" stroke-width="1.8" stroke-linejoin="round"/><path d="M1281.5,1164.5A18.5,18.5 0 0 1 1299.7,1179.5L1287.7,1181.8A6.3,6.3 0 0 0 1281.5,1176.7Z" fill="#FFC000" stroke="#fff" stroke-width="1.8" stroke-linejoin="round"/><path d="M1299.7,1179.5A18.5,18.5 0 0 1 1263.7,1188.1L1275.4,1184.7A6.3,6.3 0 0 0 1287.7,1181.8Z" fill="#4F6228" stroke="#fff" stroke-width="1.8" stroke-linejoin="round"/><path d="M1263.7,1188.1A18.5,18.5 0 0 1 1281.5,1164.5L1281.5,1176.7A6.3,6.3 0 0 0 1275.4,1184.7Z" fill="#974806" stroke="#fff" stroke-width="1.8" stroke-linejoin="round"/>
<path d="M1508,1231A43,43 0 0 1 1508,1317L1508,1304.8A30.8,30.8 0 0 0 1508,1243.2Z" fill="#FFC000" stroke="#fff" stroke-width="1.8" stroke-linejoin="round"/><path d="M1508,1317A43,43 0 0 1 1468.4,1257.2L1479.6,1262A30.8,30.8 0 0 0 1508,1304.8Z" fill="#4F6228" stroke="#fff" stroke-width="1.8" stroke-linejoin="round"/><path d="M1468.4,1257.2A43,43 0 0 1 1508,1231L1508,1243.2A30.8,30.8 0 0 0 1479.6,1262Z" fill="#974806" stroke="#fff" stroke-width="1.8" stroke-linejoin="round"/><path d="M1508,1243.2A30.8,30.8 0 0 1 1538.6,1270.8L1526.4,1272.1A18.5,18.5 0 0 0 1508,1255.5Z" fill="#FFC000" stroke="#fff" stroke-width="1.8" stroke-linejoin="round"/><path d="M1538.6,1270.8A30.8,30.8 0 1 1 1480.3,1260.5L1491.4,1265.9A18.5,18.5 0 1 0 1526.4,1272.1Z" fill="#4F6228" stroke="#fff" stroke-width="1.8" stroke-linejoin="round"/><path d="M1480.3,1260.5A30.8,30.8 0 0 1 1508,1243.2L1508,1255.5A18.5,18.5 0 0 0 1491.4,1265.9Z" fill="#974806" stroke="#fff" stroke-width="1.8" stroke-linejoin="round"/><path d="M1508,1255.5A18.5,18.5 0 0 1 1522.2,1285.9L1512.8,1278A6.3,6.3 0 0 0 1508,1267.7Z" fill="#FFC000" stroke="#fff" stroke-width="1.8" stroke-linejoin="round"/><path d="M1522.2,1285.9A18.5,18.5 0 0 1 1492.8,1263.4L1502.8,1270.4A6.3,6.3 0 0 0 1512.8,1278Z" fill="#4F6228" stroke="#fff" stroke-width="1.8" stroke-linejoin="round"/><path d="M1492.8,1263.4A18.5,18.5 0 0 1 1508,1255.5L1508,1267.7A6.3,6.3 0 0 0 1502.8,1270.4Z" fill="#974806" stroke="#fff" stroke-width="1.8" stroke-linejoin="round"/>
<path d="M750.7,1259.9A43,43 0 0 1 783.6,1330.5L774.3,1322.7A30.8,30.8 0 0 0 750.7,1272.1Z" fill="#FFC000" stroke="#fff" stroke-width="1.8" stroke-linejoin="round"/><path d="M783.6,1330.5A43,43 0 0 1 718.7,1331.7L727.8,1323.5A30.8,30.8 0 0 0 774.3,1322.7Z" fill="#4F6228" stroke="#fff" stroke-width="1.8" stroke-linejoin="round"/><path d="M718.7,1331.7A43,43 0 0 1 750.7,1259.9L750.7,1272.1A30.8,30.8 0 0 0 727.8,1323.5Z" fill="#974806" stroke="#fff" stroke-width="1.8" stroke-linejoin="round"/><path d="M750.7,1272.1A30.8,30.8 0 0 1 758.2,1332.8L755.2,1320.9A18.5,18.5 0 0 0 750.7,1284.4Z" fill="#4F6228" stroke="#fff" stroke-width="1.8" stroke-linejoin="round"/><path d="M758.2,1332.8A30.8,30.8 0 1 1 750.7,1272.1L750.7,1284.4A18.5,18.5 0 1 0 755.2,1320.9Z" fill="#974806" stroke="#fff" stroke-width="1.8" stroke-linejoin="round"/><circle cx="750.7" cy="1302.9" r="12.4" fill="none" stroke="#4F6228" stroke-width="10.4"/>
<path d="M1093.4,1267.3A43.9,43.9 0 0 1 1136.8,1317.3L1124.5,1315.6A31.4,31.4 0 0 0 1093.4,1279.8Z" fill="#FFC000" stroke="#fff" stroke-width="1.8" stroke-linejoin="round"/><path d="M1136.8,1317.3A43.9,43.9 0 0 1 1049.7,1307.4L1062.1,1308.5A31.4,31.4 0 0 0 1124.5,1315.6Z" fill="#4F6228" stroke="#fff" stroke-width="1.8" stroke-linejoin="round"/><path d="M1049.7,1307.4A43.9,43.9 0 0 1 1093.4,1267.3L1093.4,1279.8A31.4,31.4 0 0 0 1062.1,1308.5Z" fill="#974806" stroke="#fff" stroke-width="1.8" stroke-linejoin="round"/><path d="M1093.4,1279.8A31.4,31.4 0 0 1 1109.1,1284L1102.8,1294.9A18.9,18.9 0 0 0 1093.4,1292.3Z" fill="#FFC000" stroke="#fff" stroke-width="1.8" stroke-linejoin="round"/><path d="M1109.1,1284A31.4,31.4 0 0 1 1117.5,1331.4L1107.9,1323.3A18.9,18.9 0 0 0 1102.8,1294.9Z" fill="#4F6228" stroke="#fff" stroke-width="1.8" stroke-linejoin="round"/><path d="M1117.5,1331.4A31.4,31.4 0 1 1 1093.4,1279.8L1093.4,1292.3A18.9,18.9 0 1 0 1107.9,1323.3Z" fill="#974806" stroke="#fff" stroke-width="1.8" stroke-linejoin="round"/><path d="M1093.4,1292.3A18.9,18.9 0 0 1 1112.1,1313.8L1099.8,1312.1A6.4,6.4 0 0 0 1093.4,1304.8Z" fill="#FFC000" stroke="#fff" stroke-width="1.8" stroke-linejoin="round"/><path d="M1112.1,1313.8A18.9,18.9 0 0 1 1074.7,1313.8L1087,1312.1A6.4,6.4 0 0 0 1099.8,1312.1Z" fill="#4F6228" stroke="#fff" stroke-width="1.8" stroke-linejoin="round"/><path d="M1074.7,1313.8A18.9,18.9 0 0 1 1093.4,1292.3L1093.4,1304.8A6.4,6.4 0 0 0 1087,1312.1Z" fill="#974806" stroke="#fff" stroke-width="1.8" stroke-linejoin="round"/>
<path d="M476.7,1366.2A43,43 0 0 1 500.7,1444.8L493.9,1434.7A30.8,30.8 0 0 0 476.7,1378.4Z" fill="#FFC000" stroke="#fff" stroke-width="1.8" stroke-linejoin="round"/><path d="M500.7,1444.8A43,43 0 0 1 438.1,1428L449,1422.7A30.8,30.8 0 0 0 493.9,1434.7Z" fill="#4F6228" stroke="#fff" stroke-width="1.8" stroke-linejoin="round"/><path d="M438.1,1428A43,43 0 0 1 476.7,1366.2L476.7,1378.4A30.8,30.8 0 0 0 449,1422.7Z" fill="#974806" stroke="#fff" stroke-width="1.8" stroke-linejoin="round"/><path d="M476.7,1378.4A30.8,30.8 0 0 1 507.5,1409.2L495.2,1409.2A18.5,18.5 0 0 0 476.7,1390.7Z" fill="#FFC000" stroke="#fff" stroke-width="1.8" stroke-linejoin="round"/><path d="M507.5,1409.2A30.8,30.8 0 0 1 457.7,1433.5L465.3,1423.8A18.5,18.5 0 0 0 495.2,1409.2Z" fill="#4F6228" stroke="#fff" stroke-width="1.8" stroke-linejoin="round"/><path d="M457.7,1433.5A30.8,30.8 0 0 1 476.7,1378.4L476.7,1390.7A18.5,18.5 0 0 0 465.3,1423.8Z" fill="#974806" stroke="#fff" stroke-width="1.8" stroke-linejoin="round"/><path d="M476.7,1390.7A18.5,18.5 0 0 1 495.1,1410.8L483,1409.7A6.3,6.3 0 0 0 476.7,1402.9Z" fill="#FFC000" stroke="#fff" stroke-width="1.8" stroke-linejoin="round"/><path d="M495.1,1410.8A18.5,18.5 0 0 1 464.6,1423.2L472.6,1414A6.3,6.3 0 0 0 483,1409.7Z" fill="#4F6228" stroke="#fff" stroke-width="1.8" stroke-linejoin="round"/><path d="M464.6,1423.2A18.5,18.5 0 0 1 476.7,1390.7L476.7,1402.9A6.3,6.3 0 0 0 472.6,1414Z" fill="#974806" stroke="#fff" stroke-width="1.8" stroke-linejoin="round"/>
<path d="M148.2,1385.3A43,43 0 0 1 169,1465.9L163.1,1455.2A30.8,30.8 0 0 0 148.2,1397.5Z" fill="#FFC000" stroke="#fff" stroke-width="1.8" stroke-linejoin="round"/><path d="M169,1465.9A43,43 0 0 1 107.5,1442.3L119.1,1438.3A30.8,30.8 0 0 0 163.1,1455.2Z" fill="#4F6228" stroke="#fff" stroke-width="1.8" stroke-linejoin="round"/><path d="M107.5,1442.3A43,43 0 0 1 148.2,1385.3L148.2,1397.5A30.8,30.8 0 0 0 119.1,1438.3Z" fill="#974806" stroke="#fff" stroke-width="1.8" stroke-linejoin="round"/><path d="M148.2,1397.5A30.8,30.8 0 0 1 178.5,1423L166.4,1425.1A18.5,18.5 0 0 0 148.2,1409.8Z" fill="#FFC000" stroke="#fff" stroke-width="1.8" stroke-linejoin="round"/><path d="M178.5,1423A30.8,30.8 0 0 1 127.2,1450.8L135.6,1441.8A18.5,18.5 0 0 0 166.4,1425.1Z" fill="#4F6228" stroke="#fff" stroke-width="1.8" stroke-linejoin="round"/><path d="M127.2,1450.8A30.8,30.8 0 0 1 148.2,1397.5L148.2,1409.8A18.5,18.5 0 0 0 135.6,1441.8Z" fill="#974806" stroke="#fff" stroke-width="1.8" stroke-linejoin="round"/><path d="M148.2,1409.8A18.5,18.5 0 0 1 166.7,1429.3L154.5,1428.6A6.3,6.3 0 0 0 148.2,1422Z" fill="#FFC000" stroke="#fff" stroke-width="1.8" stroke-linejoin="round"/><path d="M166.7,1429.3A18.5,18.5 0 0 1 136.3,1442.5L144.2,1433.1A6.3,6.3 0 0 0 154.5,1428.6Z" fill="#4F6228" stroke="#fff" stroke-width="1.8" stroke-linejoin="round"/><path d="M136.3,1442.5A18.5,18.5 0 0 1 148.2,1409.8L148.2,1422A6.3,6.3 0 0 0 144.2,1433.1Z" fill="#974806" stroke="#fff" stroke-width="1.8" stroke-linejoin="round"/>
<path d="M780.6,1393.8A43,43 0 0 1 812.6,1465.6L803.5,1457.4A30.8,30.8 0 0 0 780.6,1406Z" fill="#FFC000" stroke="#fff" stroke-width="1.8" stroke-linejoin="round"/><path d="M812.6,1465.6A43,43 0 0 1 742.6,1457L753.4,1451.3A30.8,30.8 0 0 0 803.5,1457.4Z" fill="#4F6228" stroke="#fff" stroke-width="1.8" stroke-linejoin="round"/><path d="M742.6,1457A43,43 0 0 1 780.6,1393.8L780.6,1406A30.8,30.8 0 0 0 753.4,1451.3Z" fill="#974806" stroke="#fff" stroke-width="1.8" stroke-linejoin="round"/><path d="M780.6,1406A30.8,30.8 0 0 1 808.5,1449.8L797.4,1444.6A18.5,18.5 0 0 0 780.6,1418.3Z" fill="#FFC000" stroke="#fff" stroke-width="1.8" stroke-linejoin="round"/><path d="M808.5,1449.8A30.8,30.8 0 0 1 753.7,1451.7L764.4,1445.8A18.5,18.5 0 0 0 797.4,1444.6Z" fill="#4F6228" stroke="#fff" stroke-width="1.8" stroke-linejoin="round"/><path d="M753.7,1451.7A30.8,30.8 0 0 1 780.6,1406L780.6,1418.3A18.5,18.5 0 0 0 764.4,1445.8Z" fill="#974806" stroke="#fff" stroke-width="1.8" stroke-linejoin="round"/><path d="M780.6,1418.3A18.5,18.5 0 0 1 798.1,1442.8L786.6,1438.9A6.3,6.3 0 0 0 780.6,1430.5Z" fill="#FFC000" stroke="#fff" stroke-width="1.8" stroke-linejoin="round"/><path d="M798.1,1442.8A18.5,18.5 0 0 1 764.1,1445.2L775,1439.7A6.3,6.3 0 0 0 786.6,1438.9Z" fill="#4F6228" stroke="#fff" stroke-width="1.8" stroke-linejoin="round"/><path d="M764.1,1445.2A18.5,18.5 0 0 1 780.6,1418.3L780.6,1430.5A6.3,6.3 0 0 0 775,1439.7Z" fill="#974806" stroke="#fff" stroke-width="1.8" stroke-linejoin="round"/>
<path d="M1711,1344.6A43,43 0 0 1 1734.4,1423.7L1727.8,1413.4A30.8,30.8 0 0 0 1711,1356.8Z" fill="#FFC000" stroke="#fff" stroke-width="1.8" stroke-linejoin="round"/><path d="M1734.4,1423.7A43,43 0 0 1 1688.2,1424.1L1694.7,1413.7A30.8,30.8 0 0 0 1727.8,1413.4Z" fill="#4F6228" stroke="#fff" stroke-width="1.8" stroke-linejoin="round"/><path d="M1688.2,1424.1A43,43 0 0 1 1711,1344.6L1711,1356.8A30.8,30.8 0 0 0 1694.7,1413.7Z" fill="#974806" stroke="#fff" stroke-width="1.8" stroke-linejoin="round"/><path d="M1711,1356.8A30.8,30.8 0 1 1 1684.9,1403.9L1695.3,1397.4A18.5,18.5 0 1 0 1711,1369.1Z" fill="#FFC000" stroke="#fff" stroke-width="1.8" stroke-linejoin="round"/><path d="M1684.9,1403.9A30.8,30.8 0 0 1 1683.1,1374.6L1694.2,1379.8A18.5,18.5 0 0 0 1695.3,1397.4Z" fill="#4F6228" stroke="#fff" stroke-width="1.8" stroke-linejoin="round"/><path d="M1683.1,1374.6A30.8,30.8 0 0 1 1711,1356.8L1711,1369.1A18.5,18.5 0 0 0 1694.2,1379.8Z" fill="#974806" stroke="#fff" stroke-width="1.8" stroke-linejoin="round"/><path d="M1711,1369.1A18.5,18.5 0 1 1 1692.6,1389.5L1704.7,1388.3A6.3,6.3 0 1 0 1711,1381.3Z" fill="#FFC000" stroke="#fff" stroke-width="1.8" stroke-linejoin="round"/><path d="M1692.6,1389.5A18.5,18.5 0 0 1 1693.6,1381.3L1705.1,1385.4A6.3,6.3 0 0 0 1704.7,1388.3Z" fill="#4F6228" stroke="#fff" stroke-width="1.8" stroke-linejoin="round"/><path d="M1693.6,1381.3A18.5,18.5 0 0 1 1711,1369.1L1711,1381.3A6.3,6.3 0 0 0 1705.1,1385.4Z" fill="#974806" stroke="#fff" stroke-width="1.8" stroke-linejoin="round"/>
<path d="M1393.9,1446.3A43,43 0 0 1 1410.7,1528.9L1405.9,1517.7A30.8,30.8 0 0 0 1393.9,1458.5Z" fill="#FFC000" stroke="#fff" stroke-width="1.8" stroke-linejoin="round"/><path d="M1410.7,1528.9A43,43 0 0 1 1352.6,1501.2L1364.3,1497.8A30.8,30.8 0 0 0 1405.9,1517.7Z" fill="#4F6228" stroke="#fff" stroke-width="1.8" stroke-linejoin="round"/><path d="M1352.6,1501.2A43,43 0 0 1 1393.9,1446.3L1393.9,1458.5A30.8,30.8 0 0 0 1364.3,1497.8Z" fill="#974806" stroke="#fff" stroke-width="1.8" stroke-linejoin="round"/><path d="M1393.9,1458.5A30.8,30.8 0 0 1 1417.1,1509.5L1407.9,1501.4A18.5,18.5 0 0 0 1393.9,1470.8Z" fill="#FFC000" stroke="#fff" stroke-width="1.8" stroke-linejoin="round"/><path d="M1417.1,1509.5A30.8,30.8 0 0 1 1371,1509.9L1380.2,1501.7A18.5,18.5 0 0 0 1407.9,1501.4Z" fill="#4F6228" stroke="#fff" stroke-width="1.8" stroke-linejoin="round"/><path d="M1371,1509.9A30.8,30.8 0 0 1 1393.9,1458.5L1393.9,1470.8A18.5,18.5 0 0 0 1380.2,1501.7Z" fill="#974806" stroke="#fff" stroke-width="1.8" stroke-linejoin="round"/><path d="M1393.9,1470.8A18.5,18.5 0 0 1 1409.6,1499.1L1399.2,1492.6A6.3,6.3 0 0 0 1393.9,1483Z" fill="#FFC000" stroke="#fff" stroke-width="1.8" stroke-linejoin="round"/><path d="M1409.6,1499.1A18.5,18.5 0 0 1 1378.4,1499.4L1388.6,1492.7A6.3,6.3 0 0 0 1399.2,1492.6Z" fill="#4F6228" stroke="#fff" stroke-width="1.8" stroke-linejoin="round"/><path d="M1378.4,1499.4A18.5,18.5 0 0 1 1393.9,1470.8L1393.9,1483A6.3,6.3 0 0 0 1388.6,1492.7Z" fill="#974806" stroke="#fff" stroke-width="1.8" stroke-linejoin="round"/>
<path d="M148.2,1517.5A43,43 0 0 1 169.7,1597.7L163.6,1587.2A30.8,30.8 0 0 0 148.2,1529.7Z" fill="#FFC000" stroke="#fff" stroke-width="1.8" stroke-linejoin="round"/><path d="M169.7,1597.7A43,43 0 0 1 107.5,1574.5L119.1,1570.5A30.8,30.8 0 0 0 163.6,1587.2Z" fill="#4F6228" stroke="#fff" stroke-width="1.8" stroke-linejoin="round"/><path d="M107.5,1574.5A43,43 0 0 1 148.2,1517.5L148.2,1529.7A30.8,30.8 0 0 0 119.1,1570.5Z" fill="#974806" stroke="#fff" stroke-width="1.8" stroke-linejoin="round"/><path d="M148.2,1529.7A30.8,30.8 0 0 1 174.3,1576.8L163.9,1570.3A18.5,18.5 0 0 0 148.2,1542Z" fill="#FFC000" stroke="#fff" stroke-width="1.8" stroke-linejoin="round"/><path d="M174.3,1576.8A30.8,30.8 0 0 1 124.3,1579.9L133.8,1572.1A18.5,18.5 0 0 0 163.9,1570.3Z" fill="#4F6228" stroke="#fff" stroke-width="1.8" stroke-linejoin="round"/><path d="M124.3,1579.9A30.8,30.8 0 0 1 148.2,1529.7L148.2,1542A18.5,18.5 0 0 0 133.8,1572.1Z" fill="#974806" stroke="#fff" stroke-width="1.8" stroke-linejoin="round"/><path d="M148.2,1542A18.5,18.5 0 0 1 164.2,1569.8L153.7,1563.7A6.3,6.3 0 0 0 148.2,1554.2Z" fill="#FFC000" stroke="#fff" stroke-width="1.8" stroke-linejoin="round"/><path d="M164.2,1569.8A18.5,18.5 0 0 1 133,1571.1L143,1564.1A6.3,6.3 0 0 0 153.7,1563.7Z" fill="#4F6228" stroke="#fff" stroke-width="1.8" stroke-linejoin="round"/><path d="M133,1571.1A18.5,18.5 0 0 1 148.2,1542L148.2,1554.2A6.3,6.3 0 0 0 143,1564.1Z" fill="#974806" stroke="#fff" stroke-width="1.8" stroke-linejoin="round"/>
<path d="M776.3,1518A43,43 0 0 1 793.8,1600.3L788.8,1589.1A30.8,30.8 0 0 0 776.3,1530.2Z" fill="#FFC000" stroke="#fff" stroke-width="1.8" stroke-linejoin="round"/><path d="M793.8,1600.3A43,43 0 0 1 736.2,1576.4L747.5,1572A30.8,30.8 0 0 0 788.8,1589.1Z" fill="#4F6228" stroke="#fff" stroke-width="1.8" stroke-linejoin="round"/><path d="M736.2,1576.4A43,43 0 0 1 776.3,1518L776.3,1530.2A30.8,30.8 0 0 0 747.5,1572Z" fill="#974806" stroke="#fff" stroke-width="1.8" stroke-linejoin="round"/><path d="M776.3,1530.2A30.8,30.8 0 0 1 806.6,1566.3L794.5,1564.2A18.5,18.5 0 0 0 776.3,1542.5Z" fill="#FFC000" stroke="#fff" stroke-width="1.8" stroke-linejoin="round"/><path d="M806.6,1566.3A30.8,30.8 0 0 1 756.1,1584.2L764.2,1575A18.5,18.5 0 0 0 794.5,1564.2Z" fill="#4F6228" stroke="#fff" stroke-width="1.8" stroke-linejoin="round"/><path d="M756.1,1584.2A30.8,30.8 0 0 1 776.3,1530.2L776.3,1542.5A18.5,18.5 0 0 0 764.2,1575Z" fill="#974806" stroke="#fff" stroke-width="1.8" stroke-linejoin="round"/><path d="M776.3,1542.5A18.5,18.5 0 0 1 794.3,1565.5L782.4,1562.5A6.3,6.3 0 0 0 776.3,1554.7Z" fill="#FFC000" stroke="#fff" stroke-width="1.8" stroke-linejoin="round"/><path d="M794.3,1565.5A18.5,18.5 0 0 1 766,1576.3L772.8,1566.2A6.3,6.3 0 0 0 782.4,1562.5Z" fill="#4F6228" stroke="#fff" stroke-width="1.8" stroke-linejoin="round"/><path d="M766,1576.3A18.5,18.5 0 0 1 776.3,1542.5L776.3,1554.7A6.3,6.3 0 0 0 772.8,1566.2Z" fill="#974806" stroke="#fff" stroke-width="1.8" stroke-linejoin="round"/>
<path d="M622.7,1534.2A43,43 0 0 1 654.1,1606.5L645.2,1598.2A30.8,30.8 0 0 0 622.7,1546.4Z" fill="#FFC000" stroke="#fff" stroke-width="1.8" stroke-linejoin="round"/><path d="M654.1,1606.5A43,43 0 0 1 584.4,1596.7L595.3,1591.2A30.8,30.8 0 0 0 645.2,1598.2Z" fill="#4F6228" stroke="#fff" stroke-width="1.8" stroke-linejoin="round"/><path d="M584.4,1596.7A43,43 0 0 1 622.7,1534.2L622.7,1546.4A30.8,30.8 0 0 0 595.3,1591.2Z" fill="#974806" stroke="#fff" stroke-width="1.8" stroke-linejoin="round"/><path d="M622.7,1546.4A30.8,30.8 0 0 1 653.4,1574.5L641.1,1575.6A18.5,18.5 0 0 0 622.7,1558.7Z" fill="#FFC000" stroke="#fff" stroke-width="1.8" stroke-linejoin="round"/><path d="M653.4,1574.5A30.8,30.8 0 0 1 606.4,1603.3L612.9,1592.9A18.5,18.5 0 0 0 641.1,1575.6Z" fill="#4F6228" stroke="#fff" stroke-width="1.8" stroke-linejoin="round"/><path d="M606.4,1603.3A30.8,30.8 0 0 1 622.7,1546.4L622.7,1558.7A18.5,18.5 0 0 0 612.9,1592.9Z" fill="#974806" stroke="#fff" stroke-width="1.8" stroke-linejoin="round"/><path d="M622.7,1558.7A18.5,18.5 0 0 1 641.1,1575.6L629,1576.7A6.3,6.3 0 0 0 622.7,1570.9Z" fill="#FFC000" stroke="#fff" stroke-width="1.8" stroke-linejoin="round"/><path d="M641.1,1575.6A18.5,18.5 0 0 1 611.8,1592.2L619,1582.3A6.3,6.3 0 0 0 629,1576.7Z" fill="#4F6228" stroke="#fff" stroke-width="1.8" stroke-linejoin="round"/><path d="M611.8,1592.2A18.5,18.5 0 0 1 622.7,1558.7L622.7,1570.9A6.3,6.3 0 0 0 619,1582.3Z" fill="#974806" stroke="#fff" stroke-width="1.8" stroke-linejoin="round"/>
<path d="M1618.2,1535A43,43 0 1 1 1613.7,1620.8L1615,1608.6A30.8,30.8 0 1 0 1618.2,1547.2Z" fill="#FFC000" stroke="#fff" stroke-width="1.8" stroke-linejoin="round"/><path d="M1613.7,1620.8A43,43 0 0 1 1578.1,1593.4L1589.4,1589A30.8,30.8 0 0 0 1615,1608.6Z" fill="#4F6228" stroke="#fff" stroke-width="1.8" stroke-linejoin="round"/><path d="M1578.1,1593.4A43,43 0 0 1 1618.2,1535L1618.2,1547.2A30.8,30.8 0 0 0 1589.4,1589Z" fill="#974806" stroke="#fff" stroke-width="1.8" stroke-linejoin="round"/><path d="M1618.2,1547.2A30.8,30.8 0 1 1 1603.3,1604.9L1609.2,1594.2A18.5,18.5 0 1 0 1618.2,1559.5Z" fill="#FFC000" stroke="#fff" stroke-width="1.8" stroke-linejoin="round"/><path d="M1603.3,1604.9A30.8,30.8 0 0 1 1587.6,1574.8L1599.8,1576.1A18.5,18.5 0 0 0 1609.2,1594.2Z" fill="#4F6228" stroke="#fff" stroke-width="1.8" stroke-linejoin="round"/><path d="M1587.6,1574.8A30.8,30.8 0 0 1 1618.2,1547.2L1618.2,1559.5A18.5,18.5 0 0 0 1599.8,1576.1Z" fill="#974806" stroke="#fff" stroke-width="1.8" stroke-linejoin="round"/><path d="M1618.2,1559.5A18.5,18.5 0 1 1 1606.8,1592.6L1614.3,1583A6.3,6.3 0 1 0 1618.2,1571.7Z" fill="#FFC000" stroke="#fff" stroke-width="1.8" stroke-linejoin="round"/><path d="M1606.8,1592.6A18.5,18.5 0 0 1 1600.5,1583.4L1612.2,1579.8A6.3,6.3 0 0 0 1614.3,1583Z" fill="#4F6228" stroke="#fff" stroke-width="1.8" stroke-linejoin="round"/><path d="M1600.5,1583.4A18.5,18.5 0 0 1 1618.2,1559.5L1618.2,1571.7A6.3,6.3 0 0 0 1612.2,1579.8Z" fill="#974806" stroke="#fff" stroke-width="1.8" stroke-linejoin="round"/>
<path d="M398.7,1602.8A43,43 0 0 1 398.7,1688.8L398.7,1676.6A30.8,30.8 0 0 0 398.7,1615Z" fill="#FFC000" stroke="#fff" stroke-width="1.8" stroke-linejoin="round"/><path d="M398.7,1688.8A43,43 0 0 1 372.2,1679.7L379.7,1670.1A30.8,30.8 0 0 0 398.7,1676.6Z" fill="#4F6228" stroke="#fff" stroke-width="1.8" stroke-linejoin="round"/><path d="M372.2,1679.7A43,43 0 0 1 398.7,1602.8L398.7,1615A30.8,30.8 0 0 0 379.7,1670.1Z" fill="#974806" stroke="#fff" stroke-width="1.8" stroke-linejoin="round"/><path d="M398.7,1615A30.8,30.8 0 0 1 427.6,1656.3L416.1,1652.1A18.5,18.5 0 0 0 398.7,1627.3Z" fill="#FFC000" stroke="#fff" stroke-width="1.8" stroke-linejoin="round"/><path d="M427.6,1656.3A30.8,30.8 0 0 1 414.1,1672.5L407.9,1661.8A18.5,18.5 0 0 0 416.1,1652.1Z" fill="#4F6228" stroke="#fff" stroke-width="1.8" stroke-linejoin="round"/><path d="M414.1,1672.5A30.8,30.8 0 1 1 398.7,1615L398.7,1627.3A18.5,18.5 0 1 0 407.9,1661.8Z" fill="#974806" stroke="#fff" stroke-width="1.8" stroke-linejoin="round"/><path d="M398.7,1627.3A18.5,18.5 0 0 1 417,1648.4L404.9,1646.7A6.3,6.3 0 0 0 398.7,1639.5Z" fill="#FFC000" stroke="#fff" stroke-width="1.8" stroke-linejoin="round"/><path d="M417,1648.4A18.5,18.5 0 0 1 407.9,1661.8L401.8,1651.3A6.3,6.3 0 0 0 404.9,1646.7Z" fill="#4F6228" stroke="#fff" stroke-width="1.8" stroke-linejoin="round"/><path d="M407.9,1661.8A18.5,18.5 0 1 1 398.7,1627.3L398.7,1639.5A6.3,6.3 0 1 0 401.8,1651.3Z" fill="#974806" stroke="#fff" stroke-width="1.8" stroke-linejoin="round"/>
<path d="M604.4,1621A43,43 0 1 1 577.9,1697.9L585.4,1688.3A30.8,30.8 0 1 0 604.4,1633.2Z" fill="#FFC000" stroke="#fff" stroke-width="1.8" stroke-linejoin="round"/><path d="M577.9,1697.9A43,43 0 0 1 591.1,1623.1L594.9,1634.7A30.8,30.8 0 0 0 585.4,1688.3Z" fill="#4F6228" stroke="#fff" stroke-width="1.8" stroke-linejoin="round"/><path d="M591.1,1623.1A43,43 0 0 1 604.4,1621L604.4,1633.2A30.8,30.8 0 0 0 594.9,1634.7Z" fill="#974806" stroke="#fff" stroke-width="1.8" stroke-linejoin="round"/><path d="M604.4,1633.2A30.8,30.8 0 0 1 629.6,1646.3L619.6,1653.4A18.5,18.5 0 0 0 604.4,1645.5Z" fill="#FFC000" stroke="#fff" stroke-width="1.8" stroke-linejoin="round"/><path d="M629.6,1646.3A30.8,30.8 0 0 1 613.9,1693.3L610.1,1681.6A18.5,18.5 0 0 0 619.6,1653.4Z" fill="#4F6228" stroke="#fff" stroke-width="1.8" stroke-linejoin="round"/><path d="M613.9,1693.3A30.8,30.8 0 1 1 604.4,1633.2L604.4,1645.5A18.5,18.5 0 1 0 610.1,1681.6Z" fill="#974806" stroke="#fff" stroke-width="1.8" stroke-linejoin="round"/><path d="M604.4,1645.5A18.5,18.5 0 1 1 586.6,1669.1L598.3,1665.7A6.3,6.3 0 1 0 604.4,1657.7Z" fill="#FFC000" stroke="#fff" stroke-width="1.8" stroke-linejoin="round"/><path d="M586.6,1669.1A18.5,18.5 0 0 1 586.3,1667.8L598.2,1665.3A6.3,6.3 0 0 0 598.3,1665.7Z" fill="#4F6228" stroke="#fff" stroke-width="1.8" stroke-linejoin="round"/><path d="M586.3,1667.8A18.5,18.5 0 0 1 604.4,1645.5L604.4,1657.7A6.3,6.3 0 0 0 598.2,1665.3Z" fill="#974806" stroke="#fff" stroke-width="1.8" stroke-linejoin="round"/>
<path d="M529.1,1721.6A43,43 0 0 1 545.9,1804.2L541.1,1793A30.8,30.8 0 0 0 529.1,1733.8Z" fill="#FFC000" stroke="#fff" stroke-width="1.8" stroke-linejoin="round"/><path d="M545.9,1804.2A43,43 0 0 1 488.2,1777.9L499.8,1774.1A30.8,30.8 0 0 0 541.1,1793Z" fill="#4F6228" stroke="#fff" stroke-width="1.8" stroke-linejoin="round"/><path d="M488.2,1777.9A43,43 0 0 1 529.1,1721.6L529.1,1733.8A30.8,30.8 0 0 0 499.8,1774.1Z" fill="#974806" stroke="#fff" stroke-width="1.8" stroke-linejoin="round"/><path d="M529.1,1733.8A30.8,30.8 0 0 1 547.6,1789.2L540.2,1779.4A18.5,18.5 0 0 0 529.1,1746.1Z" fill="#FFC000" stroke="#fff" stroke-width="1.8" stroke-linejoin="round"/><path d="M547.6,1789.2A30.8,30.8 0 0 1 502.2,1779.5L512.9,1773.6A18.5,18.5 0 0 0 540.2,1779.4Z" fill="#4F6228" stroke="#fff" stroke-width="1.8" stroke-linejoin="round"/><path d="M502.2,1779.5A30.8,30.8 0 0 1 529.1,1733.8L529.1,1746.1A18.5,18.5 0 0 0 512.9,1773.6Z" fill="#974806" stroke="#fff" stroke-width="1.8" stroke-linejoin="round"/><path d="M529.1,1746.1A18.5,18.5 0 0 1 541.2,1778.6L533.2,1769.4A6.3,6.3 0 0 0 529.1,1758.3Z" fill="#FFC000" stroke="#fff" stroke-width="1.8" stroke-linejoin="round"/><path d="M541.2,1778.6A18.5,18.5 0 0 1 513.9,1775.2L523.9,1768.2A6.3,6.3 0 0 0 533.2,1769.4Z" fill="#4F6228" stroke="#fff" stroke-width="1.8" stroke-linejoin="round"/><path d="M513.9,1775.2A18.5,18.5 0 0 1 529.1,1746.1L529.1,1758.3A6.3,6.3 0 0 0 523.9,1768.2Z" fill="#974806" stroke="#fff" stroke-width="1.8" stroke-linejoin="round"/>
<path d="M661.6,1749.2A43,43 0 0 1 679.1,1831.5L674.1,1820.3A30.8,30.8 0 0 0 661.6,1761.4Z" fill="#FFC000" stroke="#fff" stroke-width="1.8" stroke-linejoin="round"/><path d="M679.1,1831.5A43,43 0 0 1 620.5,1804.8L632.1,1801.2A30.8,30.8 0 0 0 674.1,1820.3Z" fill="#4F6228" stroke="#fff" stroke-width="1.8" stroke-linejoin="round"/><path d="M620.5,1804.8A43,43 0 0 1 661.6,1749.2L661.6,1761.4A30.8,30.8 0 0 0 632.1,1801.2Z" fill="#974806" stroke="#fff" stroke-width="1.8" stroke-linejoin="round"/><path d="M661.6,1761.4A30.8,30.8 0 0 1 685.2,1812L675.8,1804.1A18.5,18.5 0 0 0 661.6,1773.7Z" fill="#FFC000" stroke="#fff" stroke-width="1.8" stroke-linejoin="round"/><path d="M685.2,1812A30.8,30.8 0 0 1 639.1,1813.2L648.1,1804.8A18.5,18.5 0 0 0 675.8,1804.1Z" fill="#4F6228" stroke="#fff" stroke-width="1.8" stroke-linejoin="round"/><path d="M639.1,1813.2A30.8,30.8 0 0 1 661.6,1761.4L661.6,1773.7A18.5,18.5 0 0 0 648.1,1804.8Z" fill="#974806" stroke="#fff" stroke-width="1.8" stroke-linejoin="round"/><path d="M661.6,1773.7A18.5,18.5 0 0 1 676.9,1802.5L666.8,1795.7A6.3,6.3 0 0 0 661.6,1785.9Z" fill="#FFC000" stroke="#fff" stroke-width="1.8" stroke-linejoin="round"/><path d="M676.9,1802.5A18.5,18.5 0 0 1 645.6,1801.5L656.1,1795.4A6.3,6.3 0 0 0 666.8,1795.7Z" fill="#4F6228" stroke="#fff" stroke-width="1.8" stroke-linejoin="round"/><path d="M645.6,1801.5A18.5,18.5 0 0 1 661.6,1773.7L661.6,1785.9A6.3,6.3 0 0 0 656.1,1795.4Z" fill="#974806" stroke="#fff" stroke-width="1.8" stroke-linejoin="round"/>
<path d="M798.8,1733.4A43,43 0 0 1 806.3,1818.7L804.1,1806.7A30.8,30.8 0 0 0 798.8,1745.6Z" fill="#FFC000" stroke="#fff" stroke-width="1.8" stroke-linejoin="round"/><path d="M806.3,1818.7A43,43 0 0 1 757.1,1786.8L768.9,1783.9A30.8,30.8 0 0 0 804.1,1806.7Z" fill="#4F6228" stroke="#fff" stroke-width="1.8" stroke-linejoin="round"/><path d="M757.1,1786.8A43,43 0 0 1 798.8,1733.4L798.8,1745.6A30.8,30.8 0 0 0 768.9,1783.9Z" fill="#974806" stroke="#fff" stroke-width="1.8" stroke-linejoin="round"/><path d="M798.8,1745.6A30.8,30.8 0 0 1 829.1,1781.7L817,1779.6A18.5,18.5 0 0 0 798.8,1757.9Z" fill="#FFC000" stroke="#fff" stroke-width="1.8" stroke-linejoin="round"/><path d="M829.1,1781.7A30.8,30.8 0 0 1 781.6,1801.9L788.5,1791.7A18.5,18.5 0 0 0 817,1779.6Z" fill="#4F6228" stroke="#fff" stroke-width="1.8" stroke-linejoin="round"/><path d="M781.6,1801.9A30.8,30.8 0 0 1 798.8,1745.6L798.8,1757.9A18.5,18.5 0 0 0 788.5,1791.7Z" fill="#974806" stroke="#fff" stroke-width="1.8" stroke-linejoin="round"/><path d="M798.8,1757.9A18.5,18.5 0 0 1 816.7,1781.2L804.9,1778A6.3,6.3 0 0 0 798.8,1770.1Z" fill="#FFC000" stroke="#fff" stroke-width="1.8" stroke-linejoin="round"/><path d="M816.7,1781.2A18.5,18.5 0 0 1 788.2,1791.6L795.2,1781.6A6.3,6.3 0 0 0 804.9,1778Z" fill="#4F6228" stroke="#fff" stroke-width="1.8" stroke-linejoin="round"/><path d="M788.2,1791.6A18.5,18.5 0 0 1 798.8,1757.9L798.8,1770.1A6.3,6.3 0 0 0 795.2,1781.6Z" fill="#974806" stroke="#fff" stroke-width="1.8" stroke-linejoin="round"/>
<circle cx="259" cy="144.4" r="37" fill="none" stroke="#FFC000" stroke-width="10"/>
<circle cx="408.8" cy="443.6" r="36.8" fill="none" stroke="#FFC000" stroke-width="10"/>
<circle cx="838.5" cy="398" r="36.7" fill="none" stroke="#FFC000" stroke-width="10"/>
<circle cx="456.7" cy="1272.8" r="36.8" fill="none" stroke="#974806" stroke-width="10"/>
<circle cx="1487.8" cy="1174.1" r="37" fill="none" stroke="#974806" stroke-width="10"/>
<circle cx="815.4" cy="1681.2" r="36.7" fill="none" stroke="#FFC000" stroke-width="10"/>
<circle cx="927.7" cy="1548" r="24.7" fill="none" stroke="#974806" stroke-width="10.6"/>
<circle cx="924.2" cy="1626.3" r="24.2" fill="none" stroke="#974806" stroke-width="10.6"/>
<circle cx="924.2" cy="1712.4" r="24.2" fill="none" stroke="#974806" stroke-width="10.6"/>
<circle cx="1318.3" cy="683" r="12.2" fill="none" stroke="#FFC000" stroke-width="10.4"/>
<line x1="95.8" y1="626.6" x2="155" y2="662.8" stroke="#808080" stroke-width="6"/>
<line x1="114.6" y1="788" x2="79.8" y2="857.3" stroke="#808080" stroke-width="6"/>
<line x1="191.6" y1="1424.6" x2="414.1" y2="1424.6" stroke="#808080" stroke-width="6.2"/>
<line x1="166.8" y1="1555.4" x2="411.6" y2="1515.3" stroke="#808080" stroke-width="6.2"/>
<line x1="826" y1="324.7" x2="888.7" y2="362" stroke="#808080" stroke-width="6"/>
<line x1="1069.7" y1="339" x2="1225.2" y2="461.3" stroke="#808080" stroke-width="6"/>
<line x1="1392.7" y1="379.7" x2="1296.2" y2="388.6" stroke="#808080" stroke-width="6"/>
<line x1="1335.2" y1="450.7" x2="1393.8" y2="496.8" stroke="#808080" stroke-width="6"/>
<line x1="903.5" y1="526" x2="1042.7" y2="517.2" stroke="#808080" stroke-width="6"/>
<line x1="1033.9" y1="595.2" x2="1101.3" y2="641.3" stroke="#808080" stroke-width="6"/>
<line x1="680.4" y1="706.5" x2="672.3" y2="779.2" stroke="#808080" stroke-width="6"/>
<line x1="888.1" y1="826" x2="991" y2="859.7" stroke="#808080" stroke-width="6"/>
<line x1="892.3" y1="1043.2" x2="1091" y2="1014.8" stroke="#808080" stroke-width="6"/>
<line x1="891.6" y1="1143.2" x2="1059.1" y2="1279.9" stroke="#808080" stroke-width="6"/>
<line x1="794.7" y1="1292.3" x2="888" y2="1274.3" stroke="#808080" stroke-width="6.2"/>
<line x1="1364.7" y1="1194" x2="1446" y2="1185.1" stroke="#808080" stroke-width="6"/>
<line x1="1668" y1="1404" x2="1549.9" y2="1485.2" stroke="#808080" stroke-width="6"/>
<line x1="849.7" y1="1690.3" x2="878" y2="1711.6" stroke="#808080" stroke-width="6"/>
<text x="528" y="65.8" font-size="29.5" font-weight="bold" text-anchor="middle" fill="#000">64</text>
<text x="259" y="150.3" font-size="29.5" font-weight="bold" text-anchor="middle" fill="#000">65</text>
<text x="556" y="242.8" font-size="29.5" font-weight="bold" text-anchor="middle" fill="#000">62</text>
<text x="680.4" y="194.3" font-size="29.5" font-weight="bold" text-anchor="middle" fill="#000">61</text>
<text x="662.3" y="346.8" font-size="29.5" font-weight="bold" text-anchor="middle" fill="#000">63</text>
<text x="739.7" y="373.5" font-size="29.5" font-weight="bold" text-anchor="middle" fill="#000">54</text>
<text x="899.4" y="149.8" font-size="29.5" font-weight="bold" text-anchor="middle" fill="#000">44</text>
<text x="903.6" y="241.2" font-size="29.5" font-weight="bold" text-anchor="middle" fill="#000">48</text>
<text x="1075" y="292.6" font-size="29.5" font-weight="bold" text-anchor="middle" fill="#000">31</text>
<text x="838" y="407.2" font-size="29.5" font-weight="bold" text-anchor="middle" fill="#000">21</text>
<text x="1028" y="437.4" font-size="29.5" font-weight="bold" text-anchor="middle" fill="#000">45</text>
<text x="821.3" y="496.8" font-size="29.5" font-weight="bold" text-anchor="middle" fill="#000">32</text>
<text x="1551" y="150" font-size="29.5" font-weight="bold" text-anchor="middle" fill="#000">43</text>
<text x="1489.6" y="359.3" font-size="29.5" font-weight="bold" text-anchor="middle" fill="#000">29</text>
<text x="1486" y="506.8" font-size="29.5" font-weight="bold" text-anchor="middle" fill="#000">28</text>
<text x="408.8" y="454.8" font-size="29.5" font-weight="bold" text-anchor="middle" fill="#000">56</text>
<text x="102.9" y="588.5" font-size="29.5" font-weight="bold" text-anchor="middle" fill="#000">3</text>
<text x="340" y="584.3" font-size="29.5" font-weight="bold" text-anchor="middle" fill="#000">25</text>
<text x="423" y="641.8" font-size="29.5" font-weight="bold" text-anchor="middle" fill="#000">37</text>
<text x="529.8" y="709.2" font-size="29.5" font-weight="bold" text-anchor="middle" fill="#000">26</text>
<text x="118.9" y="884.8" font-size="29.5" font-weight="bold" text-anchor="middle" fill="#000">23</text>
<text x="683.6" y="576.8" font-size="29.5" font-weight="bold" text-anchor="middle" fill="#000">60</text>
<text x="742.2" y="661.3" font-size="29.5" font-weight="bold" text-anchor="middle" fill="#000">52</text>
<text x="902.9" y="657" font-size="29.5" font-weight="bold" text-anchor="middle" fill="#000">30</text>
<text x="902.9" y="736.8" font-size="29.5" font-weight="bold" text-anchor="middle" fill="#000">39</text>
<text x="771.6" y="832.3" font-size="29.5" font-weight="bold" text-anchor="middle" fill="#000">40</text>
<text x="981" y="842.2" font-size="29.5" font-weight="bold" text-anchor="middle" fill="#000">41</text>
<text x="902.9" y="927.4" font-size="29.5" font-weight="bold" text-anchor="middle" fill="#000">19</text>
<text x="601.3" y="928.1" font-size="29.5" font-weight="bold" text-anchor="middle" fill="#000">1</text>
<text x="1590.7" y="618.7" font-size="29.5" font-weight="bold" text-anchor="middle" fill="#000">55</text>
<text x="1351.9" y="677.2" font-size="29.5" font-weight="bold" text-anchor="middle" fill="#000">42</text>
<text x="1192.2" y="651.7" font-size="29.5" font-weight="bold" text-anchor="middle" fill="#000">27</text>
<text x="1197.6" y="752.5" font-size="29.5" font-weight="bold" text-anchor="middle" fill="#000">2</text>
<text x="1180.9" y="991.3" font-size="29.5" font-weight="bold" text-anchor="middle" fill="#000">5</text>
<text x="579.1" y="1000.4" font-size="29.5" font-weight="bold" text-anchor="middle" fill="#000">16</text>
<text x="495" y="1130.7" font-size="29.5" font-weight="bold" text-anchor="middle" fill="#000">7</text>
<text x="453.5" y="1283.6" font-size="29.5" font-weight="bold" text-anchor="middle" fill="#000">18</text>
<text x="531.2" y="1412.1" font-size="29.5" font-weight="bold" text-anchor="middle" fill="#000">14</text>
<text x="94" y="1409.2" font-size="29.5" font-weight="bold" text-anchor="middle" fill="#000">33</text>
<text x="672.3" y="1073.9" font-size="29.5" font-weight="bold" text-anchor="middle" fill="#000">13</text>
<text x="791.9" y="1037" font-size="29.5" font-weight="bold" text-anchor="middle" fill="#000">4</text>
<text x="665.2" y="1202.7" font-size="29.5" font-weight="bold" text-anchor="middle" fill="#000">15</text>
<text x="801.8" y="1136.4" font-size="29.5" font-weight="bold" text-anchor="middle" fill="#000">36</text>
<text x="1124.7" y="1144.2" font-size="29.5" font-weight="bold" text-anchor="middle" fill="#000">8</text>
<text x="800.7" y="1276.5" font-size="29.5" font-weight="bold" text-anchor="middle" fill="#000">20</text>
<text x="1042.4" y="1315.2" font-size="29.5" font-weight="bold" text-anchor="middle" fill="#000">6</text>
<text x="841.5" y="1447.6" font-size="29.5" font-weight="bold" text-anchor="middle" fill="#000">38</text>
<text x="1319.3" y="1147.7" font-size="29.5" font-weight="bold" text-anchor="middle" fill="#000">12</text>
<text x="1490.3" y="1180.7" font-size="29.5" font-weight="bold" text-anchor="middle" fill="#000">9</text>
<text x="1564.8" y="1251.7" font-size="29.5" font-weight="bold" text-anchor="middle" fill="#000">10</text>
<text x="1744.4" y="1348.2" font-size="29.5" font-weight="bold" text-anchor="middle" fill="#000">50</text>
<text x="1450.6" y="1481.3" font-size="29.5" font-weight="bold" text-anchor="middle" fill="#000">59</text>
<text x="95.1" y="1542.9" font-size="29.5" font-weight="bold" text-anchor="middle" fill="#000">47</text>
<text x="439.3" y="1620.9" font-size="29.5" font-weight="bold" text-anchor="middle" fill="#000">17</text>
<text x="471.3" y="1755.8" font-size="29.5" font-weight="bold" text-anchor="middle" fill="#000">22</text>
<text x="828.4" y="1540.4" font-size="29.5" font-weight="bold" text-anchor="middle" fill="#000">11</text>
<text x="673" y="1554.2" font-size="29.5" font-weight="bold" text-anchor="middle" fill="#000">36</text>
<text x="660.9" y="1656.4" font-size="29.5" font-weight="bold" text-anchor="middle" fill="#000">57</text>
<text x="927.8" y="1557.8" font-size="29.5" font-weight="bold" text-anchor="middle" fill="#000">58</text>
<text x="921.4" y="1638.7" font-size="29.5" font-weight="bold" text-anchor="middle" fill="#000">51</text>
<text x="923.5" y="1722.8" font-size="29.5" font-weight="bold" text-anchor="middle" fill="#000">24</text>
<text x="816" y="1691.2" font-size="29.5" font-weight="bold" text-anchor="middle" fill="#000">53</text>
<text x="718.4" y="1786.7" font-size="29.5" font-weight="bold" text-anchor="middle" fill="#000">49</text>
<text x="843.7" y="1825" font-size="29.5" font-weight="bold" text-anchor="middle" fill="#000">46</text>
<text x="1678.7" y="1606" font-size="29.5" font-weight="bold" text-anchor="middle" fill="#000">34</text>
</g>
<text x="20.6" y="29.9" font-family="Liberation Sans, sans-serif" font-weight="bold" font-size="31.5" fill="#000">A</text>
<text x="21" y="1946" font-family="Liberation Sans, sans-serif" font-weight="bold" font-size="31.5" fill="#000">B</text>
<text x="696" y="1946" font-family="Liberation Sans, sans-serif" font-weight="bold" font-size="31.5" fill="#000">C</text>
<text x="1237.5" y="1946" font-family="Liberation Sans, sans-serif" font-weight="bold" font-size="31.5" fill="#000">D</text>
<rect x="31.9" y="1095.5" width="18.5" height="18.8" fill="#FFC000"/>
<text x="60.5" y="1116.8" font-family="Liberation Serif, serif" font-size="37.5" fill="#111">Corn</text>
<rect x="31.9" y="1156.8" width="18.5" height="18.8" fill="#4F6228"/>
<text x="60.5" y="1177.9" font-family="Liberation Serif, serif" font-size="37.5" fill="#111">Grass</text>
<rect x="31.9" y="1218.8" width="18.5" height="18.8" fill="#974806"/>
<text x="60.5" y="1239.9" font-family="Liberation Serif, serif" font-size="37.5" fill="#111">Hay</text>
<path d="M136.6,1968V2223.5" stroke="#c4c4c4" stroke-width="1.3" fill="none"/>
<path d="M130.6,1968H136.6" stroke="#c4c4c4" stroke-width="1.3"/>
<text x="122" y="1973.7" font-family="Liberation Serif, serif" font-size="17.2" font-weight="bold" text-anchor="end" fill="#111" stroke="#111" stroke-width="0.3" letter-spacing="0.7">14</text>
<path d="M130.6,1999.9H136.6" stroke="#c4c4c4" stroke-width="1.3"/>
<text x="122" y="2005.6" font-family="Liberation Serif, serif" font-size="17.2" font-weight="bold" text-anchor="end" fill="#111" stroke="#111" stroke-width="0.3" letter-spacing="0.7">13</text>
<path d="M130.6,2031.9H136.6" stroke="#c4c4c4" stroke-width="1.3"/>
<text x="122" y="2037.6" font-family="Liberation Serif, serif" font-size="17.2" font-weight="bold" text-anchor="end" fill="#111" stroke="#111" stroke-width="0.3" letter-spacing="0.7">12</text>
<path d="M130.6,2063.8H136.6" stroke="#c4c4c4" stroke-width="1.3"/>
<text x="122" y="2069.5" font-family="Liberation Serif, serif" font-size="17.2" font-weight="bold" text-anchor="end" fill="#111" stroke="#111" stroke-width="0.3" letter-spacing="0.7">11</text>
<path d="M130.6,2095.8H136.6" stroke="#c4c4c4" stroke-width="1.3"/>
<text x="122" y="2101.5" font-family="Liberation Serif, serif" font-size="17.2" font-weight="bold" text-anchor="end" fill="#111" stroke="#111" stroke-width="0.3" letter-spacing="0.7">10</text>
<path d="M130.6,2127.7H136.6" stroke="#c4c4c4" stroke-width="1.3"/>
<text x="122" y="2133.4" font-family="Liberation Serif, serif" font-size="17.2" font-weight="bold" text-anchor="end" fill="#111" stroke="#111" stroke-width="0.3" letter-spacing="0.7">9</text>
<path d="M130.6,2159.6H136.6" stroke="#c4c4c4" stroke-width="1.3"/>
<text x="122" y="2165.3" font-family="Liberation Serif, serif" font-size="17.2" font-weight="bold" text-anchor="end" fill="#111" stroke="#111" stroke-width="0.3" letter-spacing="0.7">8</text>
<path d="M130.6,2191.6H136.6" stroke="#c4c4c4" stroke-width="1.3"/>
<text x="122" y="2197.3" font-family="Liberation Serif, serif" font-size="17.2" font-weight="bold" text-anchor="end" fill="#111" stroke="#111" stroke-width="0.3" letter-spacing="0.7">7</text>
<path d="M130.6,2223.5H136.6" stroke="#c4c4c4" stroke-width="1.3"/>
<text x="122" y="2229.2" font-family="Liberation Serif, serif" font-size="17.2" font-weight="bold" text-anchor="end" fill="#111" stroke="#111" stroke-width="0.3" letter-spacing="0.7">6</text>
<text transform="translate(73.5,2109) rotate(-90)" font-family="Liberation Serif, serif" font-size="27.2" text-anchor="middle" fill="#111">% of total abundance</text>
<rect x="163.2" y="2090.4" width="35.8" height="133.1" fill="#FFFF00"/>
<rect x="217.2" y="2100" width="35.8" height="123.5" fill="#FFC000"/>
<rect x="270.8" y="2014.8" width="35.8" height="208.7" fill="#A67C05"/>
<rect x="325" y="2097.9" width="35.8" height="125.6" fill="#C3D69B"/>
<rect x="378.6" y="2032.2" width="35.8" height="191.3" fill="#9BBB59"/>
<rect x="432.6" y="2095.8" width="35.8" height="127.7" fill="#4F6228"/>
<rect x="486.2" y="2033.7" width="35.8" height="189.8" fill="#F6B770"/>
<rect x="540.1" y="2003.8" width="35.8" height="219.7" fill="#C56A0C"/>
<rect x="594.2" y="2078.7" width="35.8" height="144.8" fill="#4F2406"/>
<rect x="702.8" y="2051.4" width="35.8" height="172.1" fill="#FFFF00"/>
<rect x="756.7" y="2044.7" width="35.8" height="178.8" fill="#FFC000"/>
<rect x="810.7" y="2035.4" width="35.8" height="188.1" fill="#A67C05"/>
<rect x="864.6" y="2056.4" width="35.8" height="167.1" fill="#C3D69B"/>
<rect x="918.2" y="2033.3" width="35.8" height="190.2" fill="#9BBB59"/>
<rect x="972.5" y="2162.8" width="35.8" height="60.7" fill="#4F6228"/>
<rect x="1026.1" y="2025.8" width="35.8" height="197.7" fill="#F6B770"/>
<rect x="1080" y="1976.5" width="35.8" height="247" fill="#C56A0C"/>
<rect x="1134.3" y="2132.7" width="35.8" height="90.8" fill="#4F2406"/>
<rect x="1243" y="2106.4" width="35.8" height="117.1" fill="#FFFF00"/>
<rect x="1296.9" y="2080.5" width="35.8" height="143" fill="#FFC000"/>
<rect x="1350.1" y="2041.5" width="35.8" height="182" fill="#A67C05"/>
<rect x="1404.4" y="2075.9" width="35.8" height="147.6" fill="#C3D69B"/>
<rect x="1458" y="1963" width="35.8" height="260.5" fill="#9BBB59"/>
<rect x="1512" y="2107.1" width="35.8" height="116.4" fill="#4F6228"/>
<rect x="1565.9" y="2085.1" width="35.8" height="138.4" fill="#F6B770"/>
<rect x="1619.8" y="1963" width="35.8" height="260.5" fill="#C56A0C"/>
<rect x="1673.8" y="2110" width="35.8" height="113.5" fill="#4F2406"/>
<rect x="133.8" y="2252.6" width="15.3" height="15.3" fill="#FFFF00"/>
<text x="156.8" y="2269.3" font-family="Liberation Serif, serif" font-size="30" fill="#111">Corn RF</text>
<rect x="314" y="2252.6" width="15.3" height="15.3" fill="#FFC000"/>
<text x="337.1" y="2269.3" font-family="Liberation Serif, serif" font-size="30" fill="#111">Corn LP</text>
<rect x="493.3" y="2252.6" width="15.3" height="15.3" fill="#A67C05"/>
<text x="515.6" y="2269.3" font-family="Liberation Serif, serif" font-size="30" fill="#111">Corn SP</text>
<rect x="668.7" y="2252.6" width="15.3" height="15.3" fill="#C3D69B"/>
<text x="691.8" y="2269.3" font-family="Liberation Serif, serif" font-size="30" fill="#111">Grass RF</text>
<rect x="857.5" y="2252.6" width="15.3" height="15.3" fill="#9BBB59"/>
<text x="880.6" y="2269.3" font-family="Liberation Serif, serif" font-size="30" fill="#111">Grass LP</text>
<rect x="1044.9" y="2252.6" width="15.3" height="15.3" fill="#4F6228"/>
<text x="1067.9" y="2269.3" font-family="Liberation Serif, serif" font-size="30" fill="#111">Grass SP</text>
<rect x="1229.8" y="2252.6" width="15.3" height="15.3" fill="#F6B770"/>
<text x="1252.9" y="2269.3" font-family="Liberation Serif, serif" font-size="30" fill="#111">Hay RF</text>
<rect x="1399.8" y="2252.6" width="15.3" height="15.3" fill="#C56A0C"/>
<text x="1422.9" y="2269.3" font-family="Liberation Serif, serif" font-size="30" fill="#111">Hay LP</text>
<rect x="1568.7" y="2252.6" width="15.3" height="15.3" fill="#4F2406"/>
<text x="1591.4" y="2269.3" font-family="Liberation Serif, serif" font-size="30" fill="#111">Hay SP</text></svg></body></html>
